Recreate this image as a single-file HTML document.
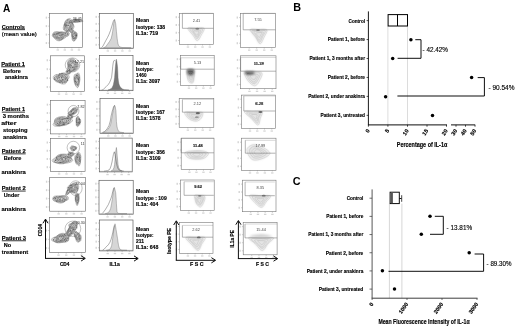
<!DOCTYPE html>
<html><head><meta charset="utf-8"><style>
html,body{margin:0;padding:0;background:#fff;}
svg{display:block;filter:grayscale(1);}
text{font-family:"Liberation Sans", sans-serif;}
</style></head><body>
<svg width="520" height="327" viewBox="0 0 520 327">
<defs><filter id="b1" x="-50%" y="-50%" width="200%" height="200%"><feGaussianBlur stdDeviation="0.9"/></filter><filter id="b2" x="-50%" y="-50%" width="200%" height="200%"><feGaussianBlur stdDeviation="0.5"/></filter><filter id="b3" x="-20%" y="-20%" width="140%" height="140%"><feGaussianBlur stdDeviation="0.3"/></filter></defs>
<rect width="520" height="327" fill="#fff"/>
<text x="2.90" y="11.50" font-size="10.8" font-weight="bold" text-anchor="start" fill="#000" textLength="7.3" lengthAdjust="spacingAndGlyphs" >A</text>
<text x="1.80" y="28.50" font-size="5.8" font-weight="bold" text-anchor="start" fill="#000" textLength="23.2" lengthAdjust="spacingAndGlyphs" stroke="#000" stroke-width="0.15" >Controls</text>
<line x1="1.80" y1="29.65" x2="25.00" y2="29.65" stroke="#000" stroke-width="0.8" />
<text x="1.80" y="35.70" font-size="5.8" font-weight="normal" text-anchor="start" fill="#000" textLength="35" lengthAdjust="spacingAndGlyphs" stroke="#000" stroke-width="0.18" >(mean value)</text>
<text x="1.20" y="65.60" font-size="5.8" font-weight="bold" text-anchor="start" fill="#000" textLength="23.8" lengthAdjust="spacingAndGlyphs" stroke="#000" stroke-width="0.15" >Patient 1</text>
<line x1="1.20" y1="66.75" x2="25.00" y2="66.75" stroke="#000" stroke-width="0.8" />
<text x="3.00" y="72.80" font-size="5.8" font-weight="bold" text-anchor="start" fill="#000" textLength="17.8" lengthAdjust="spacingAndGlyphs" stroke="#000" stroke-width="0.15" >Before</text>
<text x="4.90" y="79.40" font-size="5.8" font-weight="bold" text-anchor="start" fill="#000" textLength="23" lengthAdjust="spacingAndGlyphs" stroke="#000" stroke-width="0.15" >anakinra</text>
<text x="1.80" y="111.00" font-size="5.8" font-weight="bold" text-anchor="start" fill="#000" textLength="23.2" lengthAdjust="spacingAndGlyphs" stroke="#000" stroke-width="0.15" >Patient 1</text>
<line x1="1.80" y1="112.15" x2="25.00" y2="112.15" stroke="#000" stroke-width="0.8" />
<text x="2.70" y="118.30" font-size="5.8" font-weight="bold" text-anchor="start" fill="#000" textLength="26.3" lengthAdjust="spacingAndGlyphs" stroke="#000" stroke-width="0.15" >3 months</text>
<text x="1.20" y="124.90" font-size="5.8" font-weight="bold" text-anchor="start" fill="#000" textLength="15.3" lengthAdjust="spacingAndGlyphs" stroke="#000" stroke-width="0.15" >after</text>
<text x="3.00" y="131.50" font-size="5.8" font-weight="bold" text-anchor="start" fill="#000" textLength="24.5" lengthAdjust="spacingAndGlyphs" stroke="#000" stroke-width="0.15" >stopping</text>
<text x="3.00" y="138.90" font-size="5.8" font-weight="bold" text-anchor="start" fill="#000" textLength="24" lengthAdjust="spacingAndGlyphs" stroke="#000" stroke-width="0.15" >anakinra</text>
<text x="1.80" y="152.70" font-size="5.8" font-weight="bold" text-anchor="start" fill="#000" textLength="23.9" lengthAdjust="spacingAndGlyphs" stroke="#000" stroke-width="0.15" >Patient 2</text>
<line x1="1.80" y1="153.85" x2="25.70" y2="153.85" stroke="#000" stroke-width="0.8" />
<text x="3.70" y="159.70" font-size="5.8" font-weight="bold" text-anchor="start" fill="#000" textLength="17.7" lengthAdjust="spacingAndGlyphs" stroke="#000" stroke-width="0.15" >Before</text>
<text x="1.50" y="173.90" font-size="5.8" font-weight="bold" text-anchor="start" fill="#000" textLength="24.2" lengthAdjust="spacingAndGlyphs" stroke="#000" stroke-width="0.15" >anakinra</text>
<text x="1.80" y="189.90" font-size="5.8" font-weight="bold" text-anchor="start" fill="#000" textLength="23.9" lengthAdjust="spacingAndGlyphs" stroke="#000" stroke-width="0.15" >Patient 2</text>
<line x1="1.80" y1="191.05" x2="25.70" y2="191.05" stroke="#000" stroke-width="0.8" />
<text x="3.70" y="196.90" font-size="5.8" font-weight="bold" text-anchor="start" fill="#000" textLength="15.6" lengthAdjust="spacingAndGlyphs" stroke="#000" stroke-width="0.15" >Under</text>
<text x="1.50" y="211.30" font-size="5.8" font-weight="bold" text-anchor="start" fill="#000" textLength="24.2" lengthAdjust="spacingAndGlyphs" stroke="#000" stroke-width="0.15" >anakinra</text>
<text x="1.80" y="239.60" font-size="5.8" font-weight="bold" text-anchor="start" fill="#000" textLength="24.2" lengthAdjust="spacingAndGlyphs" stroke="#000" stroke-width="0.15" >Patient 3</text>
<line x1="1.80" y1="240.75" x2="26.00" y2="240.75" stroke="#000" stroke-width="0.8" />
<text x="3.70" y="246.60" font-size="5.8" font-weight="bold" text-anchor="start" fill="#000" textLength="7.3" lengthAdjust="spacingAndGlyphs" stroke="#000" stroke-width="0.15" >No</text>
<text x="1.80" y="253.90" font-size="5.8" font-weight="bold" text-anchor="start" fill="#000" textLength="26.3" lengthAdjust="spacingAndGlyphs" stroke="#000" stroke-width="0.15" >treatment</text>
<path d="M66.10,35.76 C65.99,36.33 65.93,36.92 65.51,37.37 C65.10,37.82 64.23,38.10 63.62,38.46 C63.00,38.82 62.53,39.19 61.81,39.55 C61.10,39.90 60.18,40.53 59.31,40.59 C58.44,40.65 57.29,40.25 56.57,39.90 C55.85,39.55 55.50,38.91 54.99,38.47 C54.47,38.03 53.90,37.73 53.48,37.28 C53.06,36.82 52.54,36.29 52.46,35.76 C52.39,35.24 52.74,34.67 53.02,34.13 C53.29,33.59 53.50,32.90 54.11,32.51 C54.72,32.12 55.83,31.89 56.69,31.81 C57.56,31.73 58.47,32.00 59.31,32.05 C60.15,32.10 60.88,32.02 61.73,32.11 C62.58,32.19 63.70,32.24 64.44,32.55 C65.18,32.87 65.88,33.45 66.16,33.99 C66.43,34.52 66.21,35.20 66.10,35.76Z" fill="#d0d0d0" filter="url(#b2)"/>
<g filter="url(#b3)"><path d="M66.60,35.76 C66.49,36.35 66.18,36.96 65.72,37.43 C65.26,37.90 64.46,38.22 63.82,38.59 C63.18,38.96 62.63,39.28 61.88,39.64 C61.13,40.00 60.23,40.66 59.31,40.75 C58.39,40.85 57.10,40.59 56.37,40.21 C55.64,39.83 55.44,38.98 54.94,38.50 C54.45,38.01 53.82,37.75 53.39,37.30 C52.95,36.84 52.44,36.30 52.33,35.76 C52.21,35.22 52.48,34.63 52.72,34.06 C52.96,33.48 53.13,32.71 53.76,32.29 C54.39,31.87 55.58,31.59 56.51,31.53 C57.43,31.46 58.43,31.83 59.31,31.91 C60.19,31.98 60.88,31.93 61.81,31.99 C62.74,32.05 64.13,31.95 64.90,32.27 C65.66,32.59 66.10,33.35 66.39,33.93 C66.67,34.51 66.71,35.18 66.60,35.76Z" fill="none" stroke="#333" stroke-width="0.32"/><path d="M65.25,35.76 C65.10,36.22 64.54,36.63 64.19,37.03 C63.85,37.43 63.54,37.72 63.17,38.18 C62.79,38.63 62.59,39.45 61.95,39.75 C61.31,40.05 60.11,40.13 59.31,40.00 C58.51,39.88 57.82,39.30 57.17,39.00 C56.52,38.70 55.95,38.51 55.42,38.20 C54.89,37.89 54.33,37.55 53.99,37.14 C53.65,36.74 53.51,36.25 53.39,35.76 C53.27,35.27 53.03,34.66 53.28,34.20 C53.54,33.74 54.24,33.25 54.91,33.01 C55.58,32.76 56.57,32.82 57.30,32.73 C58.04,32.64 58.56,32.60 59.31,32.47 C60.06,32.35 61.05,31.92 61.81,31.99 C62.56,32.07 63.31,32.54 63.85,32.92 C64.39,33.30 64.83,33.80 65.07,34.27 C65.30,34.75 65.39,35.30 65.25,35.76Z" fill="none" stroke="#333" stroke-width="0.32"/><path d="M63.71,35.76 C63.62,36.12 63.29,36.38 63.17,36.76 C63.05,37.15 63.30,37.71 63.01,38.08 C62.72,38.44 62.05,38.88 61.43,38.97 C60.82,39.06 59.95,38.72 59.31,38.62 C58.67,38.52 58.12,38.51 57.58,38.38 C57.04,38.24 56.49,38.04 56.07,37.79 C55.65,37.54 55.38,37.21 55.04,36.87 C54.69,36.53 54.10,36.16 53.99,35.76 C53.88,35.37 53.97,34.79 54.36,34.48 C54.74,34.17 55.75,34.07 56.32,33.89 C56.88,33.71 57.26,33.63 57.76,33.42 C58.26,33.21 58.71,32.77 59.31,32.65 C59.91,32.53 60.75,32.54 61.35,32.68 C61.95,32.83 62.49,33.20 62.88,33.53 C63.28,33.85 63.57,34.25 63.71,34.62 C63.84,35.00 63.80,35.41 63.71,35.76Z" fill="none" stroke="#333" stroke-width="0.32"/><path d="M62.44,35.76 C62.50,36.05 62.89,36.38 62.85,36.68 C62.81,36.98 62.56,37.38 62.20,37.57 C61.85,37.77 61.19,37.83 60.71,37.88 C60.23,37.92 59.77,37.85 59.31,37.83 C58.86,37.82 58.39,37.86 57.98,37.77 C57.57,37.69 57.21,37.49 56.83,37.31 C56.45,37.13 55.99,36.96 55.70,36.70 C55.42,36.44 55.05,36.05 55.14,35.76 C55.23,35.48 55.93,35.20 56.25,34.97 C56.57,34.74 56.81,34.59 57.08,34.37 C57.36,34.15 57.55,33.84 57.92,33.67 C58.29,33.49 58.84,33.33 59.31,33.32 C59.78,33.30 60.32,33.45 60.76,33.58 C61.20,33.71 61.67,33.88 61.96,34.11 C62.24,34.34 62.40,34.67 62.48,34.94 C62.56,35.22 62.38,35.47 62.44,35.76Z" fill="none" stroke="#333" stroke-width="0.32"/><path d="M61.94,35.76 C62.06,35.96 62.07,36.25 61.94,36.45 C61.81,36.64 61.44,36.80 61.14,36.91 C60.85,37.02 60.50,37.04 60.19,37.10 C59.89,37.15 59.61,37.22 59.31,37.23 C59.01,37.24 58.71,37.20 58.39,37.15 C58.08,37.10 57.70,37.07 57.42,36.95 C57.13,36.83 56.81,36.64 56.71,36.44 C56.61,36.24 56.72,35.96 56.83,35.76 C56.94,35.57 57.25,35.44 57.38,35.26 C57.51,35.08 57.44,34.87 57.59,34.69 C57.74,34.51 57.99,34.30 58.28,34.21 C58.57,34.11 58.97,34.12 59.31,34.13 C59.65,34.13 60.05,34.14 60.32,34.25 C60.58,34.35 60.77,34.58 60.92,34.75 C61.08,34.92 61.06,35.10 61.23,35.27 C61.39,35.44 61.82,35.57 61.94,35.76Z" fill="none" stroke="#333" stroke-width="0.32"/><circle cx="57.13" cy="34.98" r="0.37" fill="#777"/><circle cx="58.16" cy="35.07" r="0.40" fill="#777"/><circle cx="53.86" cy="34.04" r="0.43" fill="#444"/><circle cx="58.41" cy="37.16" r="0.35" fill="#777"/><circle cx="61.33" cy="38.95" r="0.34" fill="#777"/><circle cx="65.20" cy="34.57" r="0.32" fill="#777"/><circle cx="60.68" cy="36.03" r="0.49" fill="#777"/><circle cx="59.70" cy="39.07" r="0.38" fill="#555"/><circle cx="62.71" cy="34.32" r="0.34" fill="#777"/><circle cx="59.12" cy="35.13" r="0.40" fill="#444"/><circle cx="56.57" cy="33.29" r="0.36" fill="#333"/><circle cx="61.24" cy="35.07" r="0.31" fill="#333"/><circle cx="57.14" cy="36.61" r="0.34" fill="#333"/><circle cx="56.21" cy="37.86" r="0.32" fill="#444"/><circle cx="61.81" cy="37.61" r="0.43" fill="#555"/><circle cx="57.64" cy="33.06" r="0.42" fill="#444"/><circle cx="62.87" cy="34.60" r="0.44" fill="#555"/><circle cx="59.75" cy="35.70" r="0.40" fill="#333"/><circle cx="58.94" cy="33.88" r="0.32" fill="#333"/><circle cx="54.08" cy="34.79" r="0.46" fill="#444"/><circle cx="62.11" cy="34.73" r="0.48" fill="#666"/><circle cx="61.84" cy="34.10" r="0.47" fill="#333"/><circle cx="54.95" cy="34.42" r="0.38" fill="#666"/><circle cx="60.38" cy="35.82" r="0.43" fill="#333"/><circle cx="65.48" cy="35.60" r="0.38" fill="#555"/><circle cx="58.88" cy="32.88" r="0.39" fill="#666"/><circle cx="55.18" cy="35.08" r="0.31" fill="#777"/><circle cx="56.05" cy="34.26" r="0.49" fill="#444"/></g>
<path d="M73.74,26.46 C73.71,27.27 73.19,28.29 72.73,28.93 C72.26,29.57 71.52,29.89 70.94,30.30 C70.37,30.70 69.84,31.21 69.27,31.37 C68.70,31.52 68.09,31.33 67.53,31.22 C66.96,31.11 66.45,30.95 65.86,30.71 C65.26,30.48 64.35,30.39 63.95,29.82 C63.56,29.24 63.44,28.09 63.51,27.26 C63.58,26.42 64.13,25.57 64.38,24.81 C64.63,24.06 64.78,23.47 65.03,22.72 C65.28,21.98 65.44,20.93 65.89,20.36 C66.34,19.79 67.10,19.50 67.72,19.28 C68.35,19.07 69.07,18.93 69.67,19.06 C70.27,19.20 70.94,19.57 71.33,20.12 C71.71,20.66 71.72,21.66 71.99,22.31 C72.25,22.97 72.61,23.36 72.90,24.05 C73.20,24.74 73.77,25.65 73.74,26.46Z" fill="#d0d0d0" filter="url(#b2)"/>
<g filter="url(#b3)"><path d="M74.07,26.52 C74.06,27.38 73.51,28.49 73.00,29.14 C72.49,29.80 71.63,30.06 71.01,30.43 C70.39,30.81 69.86,31.24 69.28,31.41 C68.69,31.57 68.10,31.44 67.49,31.41 C66.88,31.37 66.23,31.43 65.61,31.19 C64.99,30.96 64.14,30.64 63.76,30.00 C63.38,29.35 63.23,28.18 63.33,27.32 C63.42,26.45 64.09,25.60 64.33,24.80 C64.57,24.00 64.51,23.26 64.77,22.51 C65.02,21.77 65.39,20.90 65.88,20.33 C66.36,19.76 67.05,19.40 67.70,19.09 C68.35,18.78 69.14,18.34 69.78,18.44 C70.42,18.55 71.16,19.08 71.54,19.71 C71.92,20.34 71.81,21.52 72.07,22.24 C72.32,22.95 72.71,23.29 73.05,24.00 C73.38,24.71 74.07,25.66 74.07,26.52Z" fill="none" stroke="#333" stroke-width="0.32"/><path d="M73.11,26.35 C72.92,27.07 72.35,27.74 71.94,28.29 C71.53,28.85 71.09,29.33 70.63,29.67 C70.16,30.02 69.65,30.20 69.15,30.38 C68.64,30.55 68.18,30.63 67.61,30.72 C67.05,30.81 66.27,31.16 65.75,30.92 C65.24,30.68 64.68,29.97 64.52,29.29 C64.36,28.60 64.72,27.55 64.79,26.82 C64.85,26.09 64.89,25.59 64.93,24.91 C64.98,24.23 64.82,23.37 65.04,22.74 C65.26,22.10 65.81,21.59 66.27,21.10 C66.73,20.61 67.25,20.03 67.79,19.81 C68.34,19.60 69.07,19.54 69.54,19.81 C70.01,20.09 70.27,21.02 70.62,21.49 C70.97,21.96 71.24,22.21 71.65,22.62 C72.06,23.04 72.84,23.37 73.08,23.99 C73.33,24.61 73.30,25.63 73.11,26.35Z" fill="none" stroke="#333" stroke-width="0.32"/><path d="M71.86,26.13 C71.70,26.70 71.51,27.28 71.22,27.71 C70.94,28.15 70.51,28.45 70.14,28.72 C69.78,29.00 69.43,29.09 69.02,29.37 C68.60,29.66 68.12,30.35 67.67,30.43 C67.22,30.50 66.63,30.21 66.32,29.82 C66.01,29.43 65.94,28.62 65.81,28.08 C65.68,27.54 65.62,27.09 65.52,26.57 C65.42,26.05 65.16,25.50 65.20,24.96 C65.25,24.42 65.55,23.86 65.79,23.34 C66.03,22.82 66.29,22.24 66.64,21.84 C67.00,21.44 67.51,20.98 67.94,20.94 C68.37,20.91 68.84,21.39 69.22,21.61 C69.60,21.83 69.83,22.09 70.21,22.28 C70.59,22.47 71.18,22.42 71.51,22.76 C71.83,23.09 72.11,23.74 72.16,24.30 C72.22,24.86 72.01,25.56 71.86,26.13Z" fill="none" stroke="#333" stroke-width="0.32"/><path d="M71.06,25.99 C70.95,26.39 70.64,26.74 70.42,27.07 C70.20,27.39 69.99,27.61 69.75,27.94 C69.51,28.28 69.29,28.82 68.98,29.06 C68.66,29.30 68.16,29.50 67.85,29.37 C67.54,29.24 67.32,28.62 67.12,28.28 C66.91,27.93 66.80,27.64 66.62,27.32 C66.44,27.01 66.14,26.76 66.04,26.39 C65.94,26.02 65.99,25.55 66.03,25.10 C66.06,24.65 66.07,24.12 66.24,23.70 C66.41,23.28 66.72,22.81 67.03,22.60 C67.35,22.40 67.80,22.43 68.13,22.47 C68.46,22.50 68.68,22.79 69.01,22.80 C69.34,22.81 69.77,22.43 70.09,22.51 C70.42,22.58 70.80,22.91 70.96,23.27 C71.13,23.63 71.08,24.21 71.10,24.67 C71.11,25.12 71.17,25.59 71.06,25.99Z" fill="none" stroke="#333" stroke-width="0.32"/><path d="M70.12,25.82 C70.03,26.10 69.91,26.30 69.80,26.57 C69.69,26.83 69.64,27.17 69.48,27.42 C69.33,27.68 69.08,28.05 68.86,28.11 C68.63,28.17 68.34,27.91 68.13,27.79 C67.92,27.67 67.75,27.53 67.58,27.37 C67.42,27.21 67.27,27.04 67.15,26.83 C67.02,26.62 66.90,26.39 66.83,26.12 C66.75,25.85 66.68,25.53 66.70,25.22 C66.71,24.91 66.76,24.49 66.92,24.25 C67.07,24.00 67.39,23.86 67.62,23.76 C67.85,23.67 68.08,23.78 68.29,23.71 C68.51,23.63 68.69,23.37 68.92,23.31 C69.15,23.24 69.49,23.18 69.68,23.31 C69.87,23.45 69.95,23.85 70.06,24.12 C70.16,24.38 70.32,24.64 70.33,24.93 C70.34,25.21 70.21,25.55 70.12,25.82Z" fill="none" stroke="#333" stroke-width="0.32"/><circle cx="70.81" cy="20.23" r="0.34" fill="#333"/><circle cx="72.84" cy="22.63" r="0.41" fill="#555"/><circle cx="69.53" cy="22.96" r="0.37" fill="#333"/><circle cx="70.48" cy="27.66" r="0.38" fill="#777"/><circle cx="66.83" cy="31.14" r="0.46" fill="#444"/><circle cx="71.80" cy="28.24" r="0.41" fill="#444"/><circle cx="67.78" cy="19.93" r="0.33" fill="#666"/><circle cx="64.96" cy="24.39" r="0.49" fill="#666"/><circle cx="64.03" cy="25.04" r="0.45" fill="#333"/><circle cx="65.41" cy="26.56" r="0.43" fill="#777"/><circle cx="64.61" cy="24.05" r="0.35" fill="#777"/><circle cx="67.33" cy="19.94" r="0.34" fill="#777"/><circle cx="72.05" cy="21.17" r="0.35" fill="#777"/><circle cx="66.04" cy="25.16" r="0.40" fill="#333"/><circle cx="68.28" cy="25.18" r="0.40" fill="#333"/><circle cx="64.78" cy="28.05" r="0.32" fill="#777"/><circle cx="69.45" cy="26.71" r="0.39" fill="#777"/><circle cx="72.44" cy="23.65" r="0.35" fill="#666"/><circle cx="67.41" cy="25.60" r="0.48" fill="#666"/><circle cx="72.93" cy="23.97" r="0.36" fill="#777"/><circle cx="68.99" cy="29.84" r="0.33" fill="#555"/><circle cx="68.66" cy="25.13" r="0.33" fill="#444"/><circle cx="70.40" cy="26.07" r="0.35" fill="#555"/><circle cx="65.68" cy="25.07" r="0.32" fill="#777"/><circle cx="66.81" cy="25.08" r="0.44" fill="#444"/><circle cx="68.82" cy="25.28" r="0.47" fill="#666"/><circle cx="66.76" cy="22.50" r="0.43" fill="#777"/><circle cx="64.65" cy="23.81" r="0.42" fill="#777"/><circle cx="70.60" cy="30.41" r="0.48" fill="#555"/></g>
<path d="M77.12,35.76 C77.07,36.41 76.97,37.07 76.80,37.60 C76.63,38.13 76.35,38.57 76.09,38.95 C75.83,39.34 75.55,39.61 75.25,39.90 C74.95,40.18 74.63,40.53 74.27,40.67 C73.92,40.82 73.43,41.00 73.10,40.75 C72.77,40.51 72.49,39.78 72.31,39.22 C72.13,38.66 72.12,37.98 72.02,37.40 C71.93,36.82 71.78,36.34 71.73,35.76 C71.69,35.19 71.68,34.53 71.76,33.93 C71.84,33.34 72.00,32.67 72.23,32.18 C72.46,31.68 72.80,31.17 73.14,30.96 C73.48,30.75 73.94,30.75 74.27,30.94 C74.61,31.12 74.84,31.81 75.14,32.07 C75.45,32.34 75.80,32.24 76.13,32.51 C76.45,32.78 76.95,33.16 77.11,33.70 C77.28,34.24 77.18,35.11 77.12,35.76Z" fill="#d0d0d0" filter="url(#b2)"/>
<g filter="url(#b3)"><path d="M77.23,35.76 C77.16,36.43 76.99,37.04 76.82,37.61 C76.65,38.18 76.48,38.78 76.22,39.18 C75.97,39.59 75.61,39.76 75.29,40.05 C74.96,40.35 74.65,40.79 74.27,40.95 C73.90,41.12 73.38,41.31 73.03,41.06 C72.68,40.81 72.36,40.05 72.17,39.45 C71.99,38.85 72.03,38.08 71.94,37.47 C71.84,36.85 71.65,36.38 71.59,35.76 C71.52,35.15 71.45,34.39 71.55,33.78 C71.65,33.17 71.93,32.60 72.19,32.10 C72.45,31.60 72.75,30.97 73.10,30.77 C73.44,30.57 73.93,30.68 74.27,30.88 C74.62,31.08 74.84,31.75 75.17,31.99 C75.49,32.23 75.88,32.07 76.23,32.33 C76.58,32.60 77.09,33.02 77.26,33.59 C77.43,34.16 77.31,35.09 77.23,35.76Z" fill="none" stroke="#333" stroke-width="0.32"/><path d="M76.57,35.76 C76.52,36.28 76.42,36.81 76.27,37.22 C76.13,37.63 75.88,37.89 75.68,38.24 C75.49,38.59 75.34,38.93 75.11,39.30 C74.87,39.67 74.57,40.38 74.27,40.47 C73.98,40.56 73.56,40.19 73.31,39.84 C73.07,39.49 72.95,38.81 72.80,38.36 C72.64,37.91 72.50,37.58 72.37,37.15 C72.25,36.72 72.10,36.27 72.05,35.76 C71.99,35.26 71.97,34.66 72.04,34.14 C72.12,33.62 72.27,33.00 72.49,32.62 C72.71,32.25 73.07,31.94 73.36,31.90 C73.66,31.87 73.99,32.34 74.27,32.41 C74.56,32.48 74.78,32.30 75.08,32.34 C75.38,32.37 75.82,32.32 76.06,32.62 C76.31,32.92 76.45,33.60 76.53,34.12 C76.62,34.64 76.61,35.25 76.57,35.76Z" fill="none" stroke="#333" stroke-width="0.32"/><path d="M75.97,35.76 C75.92,36.13 75.72,36.42 75.63,36.75 C75.54,37.08 75.52,37.40 75.42,37.77 C75.32,38.14 75.22,38.75 75.03,38.96 C74.84,39.17 74.50,39.12 74.27,39.01 C74.05,38.90 73.86,38.51 73.68,38.29 C73.49,38.08 73.31,37.97 73.15,37.73 C73.00,37.50 72.84,37.21 72.74,36.88 C72.65,36.55 72.61,36.16 72.58,35.76 C72.55,35.37 72.48,34.89 72.55,34.51 C72.62,34.14 72.80,33.69 72.99,33.51 C73.19,33.34 73.52,33.54 73.73,33.45 C73.94,33.37 74.06,33.14 74.27,33.02 C74.48,32.90 74.77,32.66 74.99,32.73 C75.21,32.80 75.44,33.14 75.59,33.45 C75.75,33.76 75.85,34.19 75.91,34.57 C75.98,34.96 76.01,35.40 75.97,35.76Z" fill="none" stroke="#333" stroke-width="0.32"/><path d="M75.29,35.76 C75.26,36.01 75.23,36.18 75.21,36.44 C75.19,36.70 75.24,37.09 75.16,37.32 C75.09,37.55 74.91,37.76 74.76,37.82 C74.61,37.88 74.42,37.75 74.27,37.69 C74.13,37.63 74.00,37.57 73.87,37.47 C73.75,37.37 73.63,37.24 73.52,37.09 C73.41,36.93 73.31,36.75 73.22,36.53 C73.14,36.31 73.03,36.03 73.02,35.76 C73.00,35.50 73.03,35.13 73.12,34.92 C73.21,34.71 73.42,34.62 73.56,34.50 C73.69,34.38 73.78,34.32 73.90,34.18 C74.02,34.04 74.13,33.72 74.27,33.64 C74.42,33.57 74.61,33.64 74.75,33.75 C74.89,33.86 75.01,34.09 75.11,34.30 C75.21,34.50 75.31,34.75 75.34,34.99 C75.37,35.23 75.31,35.52 75.29,35.76Z" fill="none" stroke="#333" stroke-width="0.32"/><circle cx="74.41" cy="33.23" r="0.31" fill="#444"/><circle cx="73.40" cy="38.13" r="0.48" fill="#333"/><circle cx="76.81" cy="35.50" r="0.35" fill="#333"/><circle cx="76.20" cy="34.54" r="0.34" fill="#555"/><circle cx="73.59" cy="36.57" r="0.38" fill="#333"/><circle cx="76.27" cy="35.76" r="0.45" fill="#333"/><circle cx="74.47" cy="35.72" r="0.32" fill="#777"/><circle cx="74.40" cy="38.46" r="0.31" fill="#777"/><circle cx="74.74" cy="38.04" r="0.35" fill="#333"/><circle cx="74.07" cy="37.99" r="0.40" fill="#777"/><circle cx="76.07" cy="35.10" r="0.43" fill="#333"/><circle cx="74.44" cy="35.03" r="0.43" fill="#777"/><circle cx="75.62" cy="35.08" r="0.38" fill="#444"/></g>
<path d="M82.22,20.58 C82.47,20.75 82.88,20.99 82.67,21.19 C82.46,21.38 81.62,21.60 80.93,21.74 C80.25,21.88 79.33,21.95 78.58,22.03 C77.83,22.12 77.14,22.22 76.43,22.26 C75.71,22.29 74.99,22.27 74.28,22.25 C73.57,22.23 72.84,22.21 72.16,22.14 C71.47,22.07 70.51,21.99 70.17,21.84 C69.83,21.68 69.91,21.41 70.13,21.21 C70.36,21.02 71.17,20.84 71.54,20.66 C71.92,20.48 72.01,20.33 72.39,20.15 C72.77,19.97 73.17,19.71 73.81,19.58 C74.46,19.45 75.46,19.40 76.28,19.36 C77.09,19.32 78.04,19.28 78.73,19.33 C79.41,19.39 79.98,19.55 80.40,19.69 C80.81,19.82 80.89,20.00 81.20,20.15 C81.50,20.30 81.98,20.41 82.22,20.58Z" fill="#d0d0d0" filter="url(#b2)"/>
<g filter="url(#b3)"><path d="M82.41,20.57 C82.74,20.75 83.30,21.01 83.09,21.21 C82.88,21.41 81.88,21.63 81.15,21.78 C80.42,21.93 79.50,22.02 78.71,22.10 C77.92,22.18 77.18,22.25 76.43,22.28 C75.68,22.32 74.94,22.32 74.19,22.31 C73.44,22.29 72.69,22.27 71.94,22.20 C71.20,22.13 70.07,22.07 69.70,21.91 C69.33,21.75 69.44,21.44 69.73,21.24 C70.02,21.03 71.04,20.85 71.43,20.66 C71.83,20.46 71.71,20.28 72.09,20.09 C72.48,19.91 73.07,19.69 73.76,19.55 C74.46,19.42 75.43,19.31 76.27,19.27 C77.11,19.22 78.05,19.24 78.80,19.29 C79.55,19.34 80.37,19.43 80.76,19.58 C81.15,19.72 80.86,19.99 81.14,20.16 C81.41,20.32 82.09,20.40 82.41,20.57Z" fill="none" stroke="#333" stroke-width="0.32"/><path d="M81.42,20.62 C81.57,20.76 81.39,20.97 81.08,21.11 C80.78,21.26 80.11,21.39 79.60,21.49 C79.09,21.60 78.57,21.68 78.04,21.75 C77.51,21.83 76.97,21.91 76.41,21.94 C75.86,21.98 75.33,21.96 74.71,21.97 C74.08,21.97 73.13,22.05 72.66,21.99 C72.19,21.92 71.96,21.72 71.91,21.57 C71.86,21.42 72.25,21.24 72.36,21.10 C72.47,20.95 72.49,20.85 72.57,20.71 C72.66,20.57 72.57,20.37 72.89,20.24 C73.20,20.11 73.90,20.00 74.47,19.92 C75.04,19.83 75.69,19.74 76.29,19.72 C76.90,19.69 77.62,19.70 78.08,19.76 C78.54,19.82 78.68,20.00 79.04,20.09 C79.40,20.18 79.83,20.21 80.22,20.30 C80.62,20.38 81.28,20.49 81.42,20.62Z" fill="none" stroke="#333" stroke-width="0.32"/><path d="M79.57,20.72 C79.53,20.82 79.24,20.92 79.03,21.02 C78.83,21.11 78.64,21.20 78.37,21.26 C78.09,21.33 77.72,21.37 77.39,21.42 C77.06,21.47 76.77,21.52 76.39,21.56 C76.01,21.61 75.50,21.70 75.13,21.69 C74.75,21.69 74.34,21.62 74.15,21.54 C73.96,21.47 74.04,21.34 73.99,21.25 C73.93,21.16 73.88,21.10 73.83,21.02 C73.77,20.94 73.58,20.85 73.64,20.76 C73.70,20.67 73.95,20.57 74.20,20.49 C74.45,20.40 74.78,20.31 75.13,20.26 C75.48,20.20 75.95,20.15 76.32,20.15 C76.68,20.15 77.01,20.23 77.31,20.26 C77.61,20.30 77.80,20.33 78.13,20.36 C78.46,20.39 79.05,20.38 79.29,20.44 C79.53,20.50 79.61,20.62 79.57,20.72Z" fill="none" stroke="#333" stroke-width="0.32"/><circle cx="75.57" cy="19.82" r="0.43" fill="#444"/><circle cx="76.37" cy="20.43" r="0.40" fill="#444"/><circle cx="75.24" cy="20.57" r="0.43" fill="#333"/><circle cx="78.68" cy="20.80" r="0.42" fill="#333"/><circle cx="79.50" cy="21.29" r="0.45" fill="#333"/><circle cx="77.77" cy="20.60" r="0.43" fill="#444"/><circle cx="73.89" cy="21.64" r="0.37" fill="#444"/><circle cx="74.90" cy="20.98" r="0.46" fill="#333"/><circle cx="71.44" cy="21.56" r="0.39" fill="#444"/><circle cx="76.26" cy="20.14" r="0.37" fill="#444"/></g>
<path d="M69.25,34.04 C69.18,34.29 68.87,34.48 68.73,34.71 C68.60,34.95 68.62,35.21 68.45,35.46 C68.28,35.71 68.04,36.07 67.70,36.19 C67.37,36.31 66.82,36.25 66.45,36.17 C66.07,36.09 65.78,35.85 65.46,35.72 C65.15,35.59 64.82,35.53 64.56,35.38 C64.31,35.22 64.11,35.00 63.93,34.78 C63.75,34.56 63.52,34.31 63.46,34.04 C63.40,33.78 63.40,33.43 63.57,33.20 C63.74,32.97 64.15,32.78 64.48,32.65 C64.80,32.53 65.19,32.55 65.52,32.46 C65.85,32.37 66.09,32.20 66.45,32.12 C66.80,32.05 67.29,31.93 67.64,32.01 C67.99,32.08 68.28,32.36 68.54,32.57 C68.79,32.77 69.03,33.01 69.15,33.25 C69.27,33.50 69.32,33.80 69.25,34.04Z" fill="#d0d0d0" filter="url(#b2)"/>
<g filter="url(#b3)"><path d="M69.24,34.04 C69.15,34.30 68.91,34.48 68.79,34.73 C68.68,34.98 68.74,35.28 68.56,35.54 C68.39,35.79 68.10,36.15 67.74,36.26 C67.39,36.37 66.84,36.29 66.45,36.22 C66.06,36.14 65.74,35.94 65.41,35.82 C65.07,35.69 64.71,35.63 64.44,35.46 C64.17,35.29 63.96,35.06 63.79,34.82 C63.62,34.59 63.48,34.32 63.41,34.04 C63.34,33.76 63.21,33.39 63.36,33.14 C63.51,32.89 63.95,32.65 64.31,32.53 C64.66,32.41 65.14,32.51 65.50,32.43 C65.86,32.35 66.08,32.17 66.45,32.08 C66.81,31.98 67.34,31.82 67.71,31.88 C68.08,31.95 68.41,32.24 68.68,32.46 C68.95,32.68 69.22,32.94 69.32,33.20 C69.41,33.47 69.32,33.79 69.24,34.04Z" fill="none" stroke="#333" stroke-width="0.32"/><path d="M68.02,34.04 C68.02,34.20 68.07,34.34 68.05,34.51 C68.03,34.68 68.03,34.93 67.88,35.06 C67.74,35.19 67.43,35.29 67.19,35.31 C66.95,35.33 66.67,35.22 66.45,35.19 C66.22,35.15 66.02,35.16 65.82,35.12 C65.62,35.07 65.43,34.98 65.25,34.89 C65.07,34.79 64.89,34.68 64.74,34.54 C64.60,34.40 64.39,34.21 64.40,34.04 C64.40,33.88 64.60,33.68 64.76,33.55 C64.93,33.43 65.22,33.39 65.39,33.30 C65.57,33.20 65.65,33.08 65.82,32.98 C66.00,32.88 66.22,32.73 66.45,32.70 C66.67,32.68 66.95,32.75 67.16,32.82 C67.38,32.89 67.60,33.00 67.74,33.13 C67.89,33.25 67.98,33.43 68.03,33.58 C68.08,33.73 68.02,33.89 68.02,34.04Z" fill="none" stroke="#333" stroke-width="0.32"/><circle cx="64.22" cy="33.38" r="0.33" fill="#777"/><circle cx="65.74" cy="33.72" r="0.45" fill="#333"/><circle cx="67.30" cy="33.48" r="0.34" fill="#333"/><circle cx="67.18" cy="34.24" r="0.49" fill="#555"/></g>
<path d="M73.11,30.70 C73.07,30.92 72.87,31.08 72.79,31.29 C72.71,31.50 72.73,31.74 72.63,31.96 C72.53,32.18 72.38,32.52 72.18,32.62 C71.97,32.71 71.63,32.60 71.40,32.52 C71.17,32.45 71.00,32.27 70.81,32.17 C70.61,32.06 70.39,32.04 70.22,31.91 C70.05,31.78 69.89,31.59 69.79,31.39 C69.69,31.19 69.67,30.95 69.63,30.70 C69.60,30.46 69.50,30.15 69.59,29.94 C69.68,29.73 69.98,29.57 70.18,29.46 C70.39,29.35 70.62,29.36 70.82,29.28 C71.03,29.20 71.18,29.04 71.40,28.99 C71.62,28.93 71.91,28.86 72.12,28.93 C72.33,29.00 72.53,29.22 72.68,29.39 C72.84,29.57 72.99,29.78 73.06,30.00 C73.14,30.22 73.16,30.49 73.11,30.70Z" fill="#d0d0d0" filter="url(#b2)"/>
<g filter="url(#b3)"><path d="M73.17,30.70 C73.12,30.93 72.98,31.12 72.90,31.34 C72.82,31.56 72.79,31.78 72.68,32.01 C72.56,32.24 72.42,32.58 72.21,32.70 C72.00,32.81 71.64,32.78 71.40,32.71 C71.16,32.64 70.97,32.40 70.76,32.28 C70.56,32.15 70.35,32.09 70.18,31.95 C70.01,31.80 69.86,31.61 69.74,31.41 C69.62,31.20 69.52,30.96 69.48,30.70 C69.43,30.45 69.37,30.11 69.47,29.89 C69.57,29.66 69.84,29.45 70.07,29.34 C70.29,29.24 70.59,29.34 70.82,29.26 C71.04,29.19 71.17,28.97 71.40,28.89 C71.63,28.81 71.95,28.72 72.18,28.79 C72.41,28.85 72.63,29.08 72.80,29.28 C72.96,29.47 73.10,29.72 73.16,29.96 C73.22,30.20 73.21,30.47 73.17,30.70Z" fill="none" stroke="#333" stroke-width="0.32"/><path d="M72.36,30.70 C72.36,30.84 72.39,30.97 72.38,31.12 C72.37,31.27 72.39,31.51 72.31,31.63 C72.22,31.75 72.00,31.80 71.85,31.82 C71.70,31.84 71.54,31.76 71.40,31.73 C71.26,31.71 71.13,31.72 71.01,31.68 C70.88,31.63 70.75,31.56 70.65,31.47 C70.55,31.38 70.46,31.26 70.38,31.13 C70.30,31.01 70.17,30.85 70.17,30.70 C70.17,30.56 70.27,30.38 70.37,30.27 C70.46,30.15 70.63,30.11 70.74,30.02 C70.84,29.93 70.89,29.81 71.00,29.73 C71.12,29.64 71.26,29.53 71.40,29.51 C71.54,29.50 71.71,29.56 71.84,29.63 C71.97,29.69 72.10,29.79 72.19,29.90 C72.28,30.01 72.36,30.15 72.39,30.29 C72.42,30.42 72.37,30.57 72.36,30.70Z" fill="none" stroke="#333" stroke-width="0.32"/><circle cx="70.96" cy="32.39" r="0.39" fill="#333"/><circle cx="71.31" cy="29.94" r="0.46" fill="#444"/></g>
<rect x="49.50" y="13.40" width="33.00" height="33.90" stroke="#666" stroke-width="0.6" fill="none" />
<text x="81.90" y="20.40" font-size="3.7" font-weight="normal" text-anchor="end" fill="#333" >36.45</text>
<line x1="48.20" y1="17.64" x2="49.50" y2="17.64" stroke="#888" stroke-width="0.4" />
<rect x="45.70" y="16.64" width="1.4" height="2" fill="#d4d4d4"/>
<line x1="48.20" y1="26.11" x2="49.50" y2="26.11" stroke="#888" stroke-width="0.4" />
<rect x="45.70" y="25.11" width="1.4" height="2" fill="#d4d4d4"/>
<line x1="48.20" y1="34.59" x2="49.50" y2="34.59" stroke="#888" stroke-width="0.4" />
<rect x="45.70" y="33.59" width="1.4" height="2" fill="#d4d4d4"/>
<line x1="48.20" y1="43.06" x2="49.50" y2="43.06" stroke="#888" stroke-width="0.4" />
<rect x="45.70" y="42.06" width="1.4" height="2" fill="#d4d4d4"/>
<line x1="57.75" y1="47.30" x2="57.75" y2="48.50" stroke="#888" stroke-width="0.4" />
<rect x="56.55" y="49.30" width="2.4" height="1.3" fill="#d4d4d4"/>
<line x1="64.82" y1="47.30" x2="64.82" y2="48.50" stroke="#888" stroke-width="0.4" />
<rect x="63.62" y="49.30" width="2.4" height="1.3" fill="#d4d4d4"/>
<line x1="71.89" y1="47.30" x2="71.89" y2="48.50" stroke="#888" stroke-width="0.4" />
<rect x="70.69" y="49.30" width="2.4" height="1.3" fill="#d4d4d4"/>
<line x1="78.96" y1="47.30" x2="78.96" y2="48.50" stroke="#888" stroke-width="0.4" />
<rect x="77.76" y="49.30" width="2.4" height="1.3" fill="#d4d4d4"/>
<path d="M78.35,65.43 C78.35,66.23 77.89,67.15 77.52,67.86 C77.14,68.56 76.62,69.13 76.11,69.64 C75.60,70.16 75.06,70.73 74.46,70.95 C73.86,71.18 73.18,70.95 72.50,71.00 C71.83,71.05 71.14,71.38 70.44,71.27 C69.74,71.16 68.74,70.94 68.30,70.35 C67.85,69.77 67.80,68.56 67.74,67.74 C67.69,66.91 67.98,66.20 67.98,65.43 C67.98,64.66 67.62,63.87 67.73,63.11 C67.83,62.35 68.17,61.47 68.61,60.87 C69.06,60.27 69.76,59.83 70.41,59.50 C71.06,59.17 71.84,58.80 72.50,58.89 C73.17,58.97 73.89,59.55 74.41,60.03 C74.94,60.51 75.13,61.26 75.64,61.76 C76.15,62.26 77.04,62.40 77.49,63.01 C77.94,63.62 78.34,64.62 78.35,65.43Z" fill="#d0d0d0" filter="url(#b2)"/>
<g filter="url(#b3)"><path d="M78.77,65.43 C78.80,66.27 78.22,67.25 77.81,68.00 C77.40,68.74 76.88,69.39 76.32,69.90 C75.77,70.41 75.14,70.84 74.50,71.07 C73.86,71.30 73.22,71.17 72.50,71.30 C71.79,71.42 71.01,71.91 70.24,71.83 C69.47,71.76 68.34,71.51 67.88,70.84 C67.42,70.18 67.51,68.77 67.48,67.86 C67.46,66.96 67.75,66.24 67.74,65.43 C67.73,64.61 67.31,63.76 67.43,62.97 C67.54,62.17 67.95,61.28 68.43,60.65 C68.90,60.02 69.62,59.53 70.30,59.18 C70.98,58.84 71.79,58.51 72.50,58.57 C73.22,58.63 74.02,59.09 74.58,59.57 C75.14,60.06 75.36,60.93 75.87,61.49 C76.38,62.05 77.16,62.28 77.64,62.94 C78.13,63.59 78.75,64.58 78.77,65.43Z" fill="none" stroke="#333" stroke-width="0.32"/><path d="M77.41,65.43 C77.31,66.15 77.01,66.86 76.71,67.46 C76.40,68.07 76.01,68.60 75.58,69.03 C75.16,69.47 74.67,69.76 74.15,70.08 C73.64,70.41 73.12,70.81 72.50,70.99 C71.89,71.18 71.01,71.48 70.46,71.19 C69.92,70.91 69.50,69.94 69.22,69.28 C68.94,68.62 68.96,67.87 68.78,67.23 C68.60,66.59 68.27,66.09 68.15,65.43 C68.03,64.77 67.91,63.95 68.05,63.27 C68.20,62.59 68.61,61.91 69.02,61.35 C69.44,60.78 69.96,60.07 70.54,59.87 C71.12,59.68 71.94,59.93 72.50,60.17 C73.07,60.41 73.43,61.06 73.96,61.32 C74.48,61.58 75.11,61.43 75.66,61.73 C76.22,62.03 77.00,62.49 77.30,63.10 C77.59,63.72 77.51,64.70 77.41,65.43Z" fill="none" stroke="#333" stroke-width="0.32"/><path d="M76.33,65.43 C76.28,65.99 76.09,66.58 75.85,67.05 C75.60,67.51 75.19,67.80 74.88,68.21 C74.56,68.61 74.34,69.13 73.95,69.50 C73.55,69.88 73.00,70.41 72.50,70.45 C72.01,70.49 71.36,70.14 70.98,69.75 C70.59,69.36 70.49,68.58 70.20,68.12 C69.91,67.67 69.46,67.46 69.24,67.01 C69.01,66.56 68.93,65.99 68.86,65.43 C68.80,64.87 68.75,64.24 68.86,63.66 C68.97,63.08 69.15,62.33 69.51,61.92 C69.87,61.51 70.52,61.23 71.02,61.22 C71.52,61.20 72.04,61.75 72.50,61.83 C72.97,61.91 73.33,61.67 73.83,61.69 C74.32,61.71 75.09,61.61 75.48,61.94 C75.86,62.27 75.99,63.09 76.13,63.67 C76.28,64.25 76.38,64.86 76.33,65.43Z" fill="none" stroke="#333" stroke-width="0.32"/><path d="M75.31,65.43 C75.24,65.84 74.97,66.17 74.83,66.55 C74.69,66.93 74.63,67.31 74.46,67.71 C74.28,68.11 74.08,68.72 73.76,68.96 C73.43,69.20 72.88,69.27 72.50,69.15 C72.13,69.02 71.83,68.46 71.52,68.21 C71.21,67.96 70.88,67.89 70.62,67.64 C70.35,67.38 70.12,67.04 69.94,66.67 C69.76,66.30 69.60,65.87 69.55,65.43 C69.49,64.99 69.49,64.45 69.63,64.03 C69.76,63.61 70.01,63.09 70.34,62.89 C70.67,62.69 71.23,62.92 71.59,62.83 C71.95,62.75 72.15,62.53 72.50,62.40 C72.86,62.28 73.33,61.99 73.69,62.08 C74.05,62.16 74.38,62.59 74.64,62.93 C74.90,63.26 75.13,63.68 75.24,64.10 C75.35,64.52 75.37,65.02 75.31,65.43Z" fill="none" stroke="#333" stroke-width="0.32"/><path d="M74.22,65.43 C74.19,65.70 74.16,65.92 74.13,66.21 C74.09,66.51 74.15,66.94 74.02,67.20 C73.89,67.46 73.59,67.71 73.33,67.77 C73.08,67.83 72.76,67.64 72.50,67.58 C72.25,67.52 72.03,67.50 71.81,67.40 C71.59,67.29 71.37,67.15 71.19,66.97 C71.00,66.79 70.83,66.56 70.70,66.30 C70.56,66.05 70.40,65.73 70.38,65.43 C70.35,65.12 70.40,64.71 70.55,64.48 C70.70,64.24 71.08,64.17 71.29,64.01 C71.50,63.85 71.63,63.69 71.83,63.52 C72.03,63.34 72.26,63.04 72.50,62.97 C72.75,62.91 73.08,62.99 73.32,63.13 C73.55,63.27 73.74,63.55 73.90,63.79 C74.07,64.03 74.26,64.28 74.31,64.55 C74.36,64.82 74.25,65.15 74.22,65.43Z" fill="none" stroke="#333" stroke-width="0.32"/><circle cx="72.03" cy="63.24" r="0.32" fill="#777"/><circle cx="73.15" cy="59.94" r="0.48" fill="#444"/><circle cx="74.70" cy="69.07" r="0.45" fill="#777"/><circle cx="76.66" cy="63.98" r="0.43" fill="#777"/><circle cx="72.44" cy="67.43" r="0.37" fill="#333"/><circle cx="75.82" cy="64.03" r="0.39" fill="#555"/><circle cx="71.72" cy="66.27" r="0.32" fill="#777"/><circle cx="70.69" cy="61.07" r="0.34" fill="#444"/><circle cx="75.50" cy="66.25" r="0.32" fill="#333"/><circle cx="77.63" cy="66.66" r="0.38" fill="#666"/><circle cx="76.97" cy="68.00" r="0.49" fill="#666"/><circle cx="73.62" cy="66.99" r="0.46" fill="#444"/><circle cx="70.67" cy="67.30" r="0.42" fill="#666"/><circle cx="71.96" cy="61.09" r="0.50" fill="#555"/><circle cx="73.48" cy="60.95" r="0.41" fill="#777"/><circle cx="72.39" cy="67.35" r="0.43" fill="#555"/><circle cx="74.60" cy="67.36" r="0.37" fill="#777"/><circle cx="72.22" cy="66.64" r="0.35" fill="#444"/><circle cx="70.31" cy="64.79" r="0.37" fill="#444"/><circle cx="71.16" cy="65.42" r="0.50" fill="#444"/><circle cx="68.35" cy="64.94" r="0.41" fill="#444"/><circle cx="76.39" cy="66.20" r="0.33" fill="#333"/><circle cx="69.67" cy="65.89" r="0.37" fill="#555"/><circle cx="74.84" cy="64.12" r="0.48" fill="#666"/><circle cx="68.46" cy="66.89" r="0.48" fill="#444"/><circle cx="69.12" cy="64.32" r="0.48" fill="#777"/><circle cx="74.61" cy="69.81" r="0.42" fill="#555"/><circle cx="75.81" cy="69.19" r="0.44" fill="#555"/><circle cx="69.66" cy="69.27" r="0.47" fill="#555"/><circle cx="73.87" cy="69.15" r="0.39" fill="#333"/><circle cx="68.85" cy="68.40" r="0.36" fill="#444"/><circle cx="70.48" cy="61.03" r="0.42" fill="#666"/></g>
<path d="M68.78,77.88 C68.64,78.49 67.85,79.01 67.52,79.60 C67.19,80.19 67.22,80.82 66.80,81.42 C66.38,82.03 65.80,82.89 64.97,83.23 C64.14,83.58 62.78,83.62 61.83,83.50 C60.88,83.37 60.09,82.76 59.27,82.48 C58.44,82.20 57.57,82.14 56.87,81.80 C56.17,81.46 55.52,80.98 55.07,80.45 C54.61,79.93 54.34,79.30 54.16,78.65 C53.97,78.00 53.67,77.19 53.98,76.56 C54.28,75.94 55.13,75.23 55.97,74.90 C56.81,74.57 58.13,74.80 59.02,74.57 C59.91,74.34 60.41,73.76 61.31,73.50 C62.20,73.25 63.44,72.95 64.38,73.07 C65.31,73.18 66.26,73.73 66.92,74.21 C67.58,74.70 68.02,75.37 68.33,75.98 C68.64,76.59 68.91,77.28 68.78,77.88Z" fill="#d0d0d0" filter="url(#b2)"/>
<g filter="url(#b3)"><path d="M69.02,77.87 C68.82,78.51 68.03,79.03 67.70,79.64 C67.36,80.25 67.42,80.87 67.03,81.56 C66.63,82.25 66.20,83.37 65.33,83.76 C64.47,84.15 62.89,84.06 61.85,83.90 C60.82,83.73 59.98,83.08 59.12,82.76 C58.25,82.44 57.39,82.32 56.67,81.95 C55.95,81.59 55.32,81.09 54.78,80.55 C54.25,80.00 53.68,79.37 53.46,78.69 C53.23,78.00 53.07,77.10 53.44,76.44 C53.81,75.78 54.78,75.08 55.68,74.72 C56.58,74.37 57.90,74.54 58.83,74.30 C59.77,74.06 60.36,73.51 61.30,73.28 C62.23,73.05 63.50,72.78 64.46,72.92 C65.41,73.06 66.29,73.65 67.03,74.13 C67.77,74.61 68.55,75.17 68.88,75.79 C69.21,76.42 69.21,77.23 69.02,77.87Z" fill="none" stroke="#333" stroke-width="0.32"/><path d="M67.11,77.97 C67.10,78.51 67.29,78.95 67.26,79.54 C67.23,80.13 67.41,81.03 66.94,81.50 C66.46,81.98 65.27,82.26 64.41,82.41 C63.55,82.56 62.59,82.46 61.77,82.40 C60.95,82.35 60.22,82.25 59.48,82.09 C58.73,81.94 57.94,81.78 57.31,81.47 C56.67,81.17 56.16,80.72 55.66,80.25 C55.16,79.78 54.39,79.21 54.31,78.64 C54.24,78.07 54.70,77.32 55.22,76.84 C55.74,76.36 56.80,76.15 57.44,75.78 C58.08,75.41 58.41,75.01 59.06,74.63 C59.70,74.25 60.49,73.62 61.31,73.49 C62.12,73.37 63.12,73.67 63.94,73.88 C64.75,74.09 65.66,74.34 66.22,74.74 C66.78,75.15 67.15,75.79 67.30,76.32 C67.45,76.86 67.12,77.44 67.11,77.97Z" fill="none" stroke="#333" stroke-width="0.32"/><path d="M66.38,78.01 C66.64,78.45 67.25,79.05 67.15,79.52 C67.05,79.98 66.38,80.53 65.79,80.81 C65.19,81.09 64.25,81.06 63.57,81.20 C62.90,81.33 62.36,81.59 61.73,81.63 C61.11,81.67 60.45,81.56 59.83,81.44 C59.22,81.32 58.66,81.14 58.05,80.92 C57.43,80.69 56.50,80.49 56.12,80.10 C55.74,79.71 55.59,79.04 55.76,78.57 C55.93,78.10 56.73,77.66 57.13,77.27 C57.52,76.87 57.77,76.59 58.12,76.19 C58.48,75.80 58.71,75.18 59.25,74.91 C59.79,74.63 60.66,74.57 61.36,74.54 C62.07,74.51 62.85,74.55 63.48,74.71 C64.12,74.88 64.83,75.16 65.19,75.52 C65.54,75.88 65.42,76.48 65.62,76.89 C65.82,77.31 66.13,77.57 66.38,78.01Z" fill="none" stroke="#333" stroke-width="0.32"/><path d="M65.90,78.04 C66.07,78.37 65.98,78.88 65.72,79.20 C65.46,79.52 64.79,79.73 64.34,79.94 C63.90,80.15 63.51,80.33 63.07,80.47 C62.63,80.60 62.16,80.74 61.69,80.77 C61.22,80.80 60.80,80.68 60.27,80.64 C59.74,80.61 58.97,80.73 58.51,80.57 C58.05,80.40 57.59,79.99 57.50,79.63 C57.40,79.28 57.82,78.80 57.96,78.45 C58.10,78.10 58.25,77.88 58.36,77.54 C58.46,77.21 58.32,76.76 58.57,76.46 C58.82,76.17 59.39,75.97 59.86,75.80 C60.34,75.63 60.89,75.50 61.41,75.46 C61.93,75.43 62.58,75.43 63.00,75.60 C63.43,75.76 63.67,76.18 63.96,76.45 C64.24,76.72 64.40,76.93 64.72,77.19 C65.05,77.46 65.73,77.70 65.90,78.04Z" fill="none" stroke="#333" stroke-width="0.32"/><path d="M64.57,78.10 C64.58,78.35 64.34,78.63 64.15,78.84 C63.96,79.06 63.69,79.24 63.43,79.39 C63.17,79.55 62.89,79.68 62.60,79.78 C62.30,79.87 61.99,79.89 61.65,79.96 C61.30,80.02 60.90,80.16 60.54,80.14 C60.17,80.13 59.67,80.04 59.45,79.85 C59.24,79.67 59.32,79.28 59.27,79.04 C59.22,78.79 59.21,78.61 59.16,78.39 C59.12,78.16 58.95,77.92 59.00,77.69 C59.05,77.46 59.22,77.18 59.45,76.99 C59.68,76.80 60.04,76.66 60.37,76.54 C60.71,76.42 61.11,76.24 61.45,76.26 C61.80,76.27 62.16,76.50 62.44,76.64 C62.71,76.79 62.81,76.98 63.09,77.10 C63.37,77.23 63.89,77.23 64.13,77.39 C64.38,77.56 64.57,77.86 64.57,78.10Z" fill="none" stroke="#333" stroke-width="0.32"/><circle cx="65.68" cy="74.48" r="0.33" fill="#333"/><circle cx="66.70" cy="74.59" r="0.41" fill="#444"/><circle cx="62.42" cy="82.99" r="0.43" fill="#333"/><circle cx="59.57" cy="82.42" r="0.47" fill="#555"/><circle cx="61.08" cy="77.10" r="0.38" fill="#666"/><circle cx="64.97" cy="82.00" r="0.44" fill="#333"/><circle cx="62.36" cy="79.64" r="0.40" fill="#444"/><circle cx="60.82" cy="80.22" r="0.48" fill="#777"/><circle cx="59.30" cy="77.43" r="0.48" fill="#555"/><circle cx="62.73" cy="79.79" r="0.43" fill="#444"/><circle cx="67.81" cy="80.57" r="0.48" fill="#666"/><circle cx="67.79" cy="80.01" r="0.42" fill="#333"/><circle cx="61.05" cy="80.13" r="0.32" fill="#777"/><circle cx="60.45" cy="82.31" r="0.34" fill="#444"/><circle cx="61.47" cy="77.85" r="0.50" fill="#444"/><circle cx="65.76" cy="78.65" r="0.38" fill="#777"/><circle cx="65.56" cy="76.74" r="0.31" fill="#444"/><circle cx="62.46" cy="73.63" r="0.43" fill="#555"/><circle cx="62.35" cy="75.16" r="0.47" fill="#777"/><circle cx="56.56" cy="74.85" r="0.33" fill="#777"/><circle cx="61.87" cy="76.86" r="0.39" fill="#777"/><circle cx="59.05" cy="75.55" r="0.46" fill="#555"/><circle cx="62.15" cy="76.48" r="0.41" fill="#666"/><circle cx="64.50" cy="75.32" r="0.31" fill="#555"/><circle cx="56.68" cy="76.27" r="0.39" fill="#777"/><circle cx="63.92" cy="76.60" r="0.30" fill="#777"/><circle cx="57.47" cy="78.55" r="0.44" fill="#666"/><circle cx="61.94" cy="77.90" r="0.48" fill="#333"/><circle cx="57.14" cy="77.13" r="0.42" fill="#444"/><circle cx="65.40" cy="78.97" r="0.46" fill="#555"/><circle cx="60.89" cy="74.13" r="0.40" fill="#777"/><circle cx="58.74" cy="75.90" r="0.35" fill="#666"/><circle cx="64.76" cy="81.33" r="0.46" fill="#777"/><circle cx="65.25" cy="79.07" r="0.44" fill="#555"/><circle cx="59.28" cy="73.76" r="0.40" fill="#444"/><circle cx="61.81" cy="73.34" r="0.45" fill="#444"/><circle cx="54.33" cy="77.97" r="0.35" fill="#333"/><circle cx="62.95" cy="77.38" r="0.41" fill="#666"/><circle cx="54.71" cy="79.46" r="0.44" fill="#333"/><circle cx="59.82" cy="73.57" r="0.35" fill="#777"/><circle cx="61.63" cy="81.54" r="0.38" fill="#444"/><circle cx="63.83" cy="79.05" r="0.37" fill="#555"/><circle cx="66.69" cy="77.58" r="0.33" fill="#333"/></g>
<path d="M79.91,79.77 C79.85,80.59 79.59,81.37 79.42,82.09 C79.25,82.82 79.07,83.36 78.87,84.12 C78.68,84.89 78.54,86.17 78.23,86.69 C77.92,87.21 77.37,87.42 76.99,87.24 C76.61,87.06 76.24,86.16 75.94,85.62 C75.63,85.08 75.43,84.54 75.16,83.98 C74.90,83.43 74.53,82.99 74.35,82.29 C74.16,81.59 74.07,80.64 74.04,79.77 C74.00,78.89 74.00,77.87 74.13,77.03 C74.26,76.20 74.51,75.20 74.83,74.77 C75.14,74.35 75.68,74.61 76.04,74.47 C76.40,74.33 76.64,74.09 76.99,73.91 C77.34,73.72 77.77,73.22 78.14,73.34 C78.51,73.46 78.95,74.00 79.21,74.63 C79.48,75.26 79.62,76.29 79.73,77.14 C79.85,78.00 79.96,78.94 79.91,79.77Z" fill="#d0d0d0" filter="url(#b2)"/>
<g filter="url(#b3)"><path d="M79.97,79.77 C79.91,80.62 79.64,81.38 79.47,82.14 C79.30,82.90 79.15,83.49 78.96,84.31 C78.76,85.13 78.63,86.53 78.30,87.06 C77.97,87.60 77.39,87.77 76.99,87.55 C76.59,87.33 76.24,86.28 75.92,85.73 C75.59,85.19 75.31,84.84 75.04,84.27 C74.77,83.70 74.50,83.07 74.32,82.32 C74.14,81.57 74.02,80.68 73.96,79.77 C73.89,78.85 73.79,77.71 73.91,76.83 C74.04,75.95 74.35,74.90 74.70,74.48 C75.05,74.06 75.62,74.41 76.01,74.29 C76.39,74.17 76.61,74.00 76.99,73.75 C77.36,73.49 77.86,72.63 78.25,72.74 C78.64,72.84 79.06,73.65 79.33,74.37 C79.59,75.09 79.73,76.14 79.84,77.04 C79.95,77.94 80.03,78.92 79.97,79.77Z" fill="none" stroke="#333" stroke-width="0.32"/><path d="M79.20,79.77 C79.15,80.44 79.02,80.94 78.96,81.66 C78.91,82.37 79.00,83.40 78.85,84.07 C78.70,84.73 78.35,85.49 78.04,85.65 C77.73,85.81 77.30,85.23 76.99,85.01 C76.68,84.79 76.44,84.59 76.17,84.32 C75.91,84.06 75.63,83.84 75.40,83.44 C75.17,83.03 74.96,82.49 74.78,81.88 C74.60,81.27 74.36,80.51 74.32,79.77 C74.29,79.03 74.38,78.04 74.57,77.45 C74.76,76.87 75.20,76.63 75.47,76.27 C75.74,75.91 75.93,75.63 76.18,75.27 C76.43,74.91 76.68,74.33 76.99,74.13 C77.29,73.93 77.71,73.80 78.01,74.05 C78.31,74.30 78.58,75.02 78.79,75.62 C78.99,76.21 79.17,76.93 79.24,77.62 C79.30,78.31 79.24,79.09 79.20,79.77Z" fill="none" stroke="#333" stroke-width="0.32"/><path d="M78.57,79.77 C78.61,80.29 78.75,80.88 78.73,81.43 C78.71,81.99 78.60,82.72 78.43,83.09 C78.26,83.46 77.92,83.56 77.68,83.65 C77.44,83.74 77.21,83.67 76.99,83.62 C76.77,83.57 76.55,83.52 76.34,83.35 C76.14,83.18 75.95,82.91 75.76,82.59 C75.57,82.28 75.34,81.94 75.21,81.47 C75.08,81.00 74.95,80.30 74.99,79.77 C75.02,79.23 75.27,78.68 75.43,78.28 C75.59,77.87 75.79,77.72 75.94,77.34 C76.08,76.96 76.13,76.32 76.31,75.99 C76.48,75.65 76.76,75.36 76.99,75.33 C77.22,75.29 77.49,75.53 77.71,75.76 C77.93,75.98 78.18,76.27 78.32,76.70 C78.45,77.12 78.48,77.79 78.52,78.31 C78.56,78.82 78.54,79.25 78.57,79.77Z" fill="none" stroke="#333" stroke-width="0.32"/><path d="M78.20,79.77 C78.25,80.12 78.29,80.63 78.24,80.96 C78.18,81.29 77.98,81.55 77.84,81.74 C77.71,81.93 77.55,82.00 77.41,82.11 C77.27,82.22 77.13,82.39 76.99,82.40 C76.85,82.41 76.70,82.28 76.56,82.18 C76.41,82.08 76.24,82.01 76.11,81.80 C75.97,81.60 75.78,81.31 75.73,80.97 C75.69,80.63 75.80,80.12 75.85,79.77 C75.91,79.42 76.01,79.19 76.06,78.88 C76.11,78.57 76.10,78.19 76.18,77.90 C76.26,77.61 76.38,77.31 76.52,77.14 C76.65,76.98 76.83,76.92 76.99,76.91 C77.15,76.89 77.34,76.89 77.47,77.07 C77.60,77.25 77.69,77.68 77.76,77.98 C77.84,78.28 77.86,78.56 77.94,78.86 C78.01,79.16 78.15,79.42 78.20,79.77Z" fill="none" stroke="#333" stroke-width="0.32"/><circle cx="76.96" cy="75.79" r="0.46" fill="#333"/><circle cx="78.20" cy="79.33" r="0.48" fill="#333"/><circle cx="77.45" cy="84.75" r="0.49" fill="#333"/><circle cx="77.69" cy="78.00" r="0.32" fill="#555"/><circle cx="75.65" cy="81.28" r="0.40" fill="#333"/><circle cx="78.07" cy="78.61" r="0.34" fill="#555"/><circle cx="77.82" cy="78.79" r="0.37" fill="#444"/><circle cx="76.56" cy="75.69" r="0.48" fill="#555"/><circle cx="77.56" cy="76.04" r="0.44" fill="#555"/><circle cx="74.88" cy="78.08" r="0.48" fill="#333"/><circle cx="78.94" cy="84.02" r="0.35" fill="#666"/><circle cx="75.16" cy="83.88" r="0.39" fill="#555"/><circle cx="76.49" cy="82.02" r="0.31" fill="#333"/><circle cx="76.35" cy="82.74" r="0.35" fill="#555"/><circle cx="76.55" cy="77.99" r="0.38" fill="#666"/><circle cx="75.54" cy="84.92" r="0.42" fill="#333"/><circle cx="79.22" cy="77.81" r="0.42" fill="#333"/><circle cx="75.67" cy="81.67" r="0.31" fill="#555"/></g>
<path d="M71.06,71.95 C71.02,72.21 71.01,72.49 70.85,72.70 C70.70,72.91 70.36,73.02 70.14,73.20 C69.91,73.38 69.77,73.60 69.50,73.77 C69.24,73.94 68.87,74.21 68.54,74.23 C68.21,74.25 67.80,74.04 67.53,73.87 C67.26,73.70 67.13,73.41 66.94,73.21 C66.74,73.01 66.51,72.86 66.37,72.65 C66.22,72.44 66.12,72.19 66.08,71.95 C66.04,71.70 66.04,71.41 66.13,71.16 C66.21,70.90 66.36,70.59 66.60,70.42 C66.84,70.24 67.24,70.12 67.57,70.09 C67.89,70.07 68.23,70.25 68.54,70.27 C68.86,70.29 69.12,70.20 69.45,70.22 C69.78,70.24 70.27,70.22 70.54,70.37 C70.82,70.52 71.00,70.85 71.08,71.12 C71.17,71.38 71.10,71.68 71.06,71.95Z" fill="#d0d0d0" filter="url(#b2)"/>
<g filter="url(#b3)"><path d="M71.12,71.95 C71.09,72.21 71.06,72.49 70.91,72.72 C70.77,72.94 70.47,73.09 70.24,73.28 C70.02,73.47 69.83,73.68 69.55,73.85 C69.26,74.03 68.89,74.28 68.54,74.31 C68.19,74.34 67.73,74.21 67.44,74.04 C67.16,73.87 67.04,73.51 66.84,73.29 C66.64,73.06 66.41,72.92 66.25,72.69 C66.08,72.47 65.89,72.21 65.85,71.95 C65.82,71.68 65.93,71.40 66.04,71.13 C66.15,70.86 66.25,70.52 66.50,70.34 C66.75,70.16 67.19,70.06 67.53,70.03 C67.87,69.99 68.22,70.13 68.54,70.15 C68.87,70.18 69.13,70.15 69.47,70.18 C69.82,70.21 70.34,70.16 70.61,70.32 C70.89,70.47 71.04,70.83 71.12,71.10 C71.21,71.38 71.16,71.68 71.12,71.95Z" fill="none" stroke="#333" stroke-width="0.32"/><path d="M70.42,71.95 C70.36,72.13 70.19,72.28 70.09,72.45 C69.99,72.62 69.93,72.76 69.82,72.95 C69.70,73.13 69.61,73.45 69.40,73.56 C69.18,73.68 68.80,73.70 68.54,73.64 C68.29,73.58 68.08,73.34 67.87,73.22 C67.66,73.10 67.47,73.05 67.29,72.93 C67.11,72.81 66.93,72.68 66.81,72.51 C66.69,72.35 66.60,72.15 66.56,71.95 C66.52,71.74 66.46,71.49 66.55,71.30 C66.64,71.10 66.86,70.89 67.08,70.80 C67.31,70.71 67.67,70.79 67.91,70.75 C68.16,70.71 68.30,70.62 68.54,70.56 C68.78,70.50 69.11,70.35 69.36,70.39 C69.61,70.42 69.86,70.61 70.04,70.77 C70.21,70.93 70.34,71.14 70.41,71.34 C70.47,71.53 70.47,71.76 70.42,71.95Z" fill="none" stroke="#333" stroke-width="0.32"/><path d="M69.66,71.95 C69.65,72.06 69.61,72.16 69.58,72.28 C69.56,72.41 69.61,72.61 69.52,72.72 C69.44,72.83 69.23,72.91 69.06,72.93 C68.90,72.96 68.70,72.90 68.54,72.87 C68.38,72.84 68.25,72.81 68.11,72.76 C67.97,72.72 67.82,72.68 67.71,72.60 C67.60,72.53 67.54,72.41 67.45,72.30 C67.37,72.19 67.20,72.07 67.18,71.95 C67.16,71.82 67.22,71.65 67.32,71.55 C67.42,71.45 67.65,71.41 67.78,71.35 C67.92,71.28 68.01,71.24 68.14,71.17 C68.26,71.11 68.39,70.97 68.54,70.94 C68.70,70.90 68.90,70.93 69.05,70.98 C69.20,71.02 69.35,71.13 69.45,71.23 C69.55,71.33 69.63,71.46 69.66,71.58 C69.70,71.70 69.67,71.83 69.66,71.95Z" fill="none" stroke="#333" stroke-width="0.32"/><circle cx="67.71" cy="71.21" r="0.34" fill="#555"/><circle cx="69.06" cy="71.43" r="0.47" fill="#777"/><circle cx="67.29" cy="71.50" r="0.42" fill="#444"/><circle cx="69.60" cy="70.46" r="0.34" fill="#444"/></g>
<ellipse cx="72.50" cy="64.93" rx="7.30" ry="7.02" fill="none" stroke="#666" stroke-width="0.4"/>
<rect x="50.40" y="55.80" width="34.20" height="35.70" stroke="#666" stroke-width="0.6" fill="none" />
<text x="84.00" y="62.80" font-size="3.7" font-weight="normal" text-anchor="end" fill="#333" >12.21</text>
<line x1="49.10" y1="60.26" x2="50.40" y2="60.26" stroke="#888" stroke-width="0.4" />
<rect x="46.60" y="59.26" width="1.4" height="2" fill="#d4d4d4"/>
<line x1="49.10" y1="69.19" x2="50.40" y2="69.19" stroke="#888" stroke-width="0.4" />
<rect x="46.60" y="68.19" width="1.4" height="2" fill="#d4d4d4"/>
<line x1="49.10" y1="78.11" x2="50.40" y2="78.11" stroke="#888" stroke-width="0.4" />
<rect x="46.60" y="77.11" width="1.4" height="2" fill="#d4d4d4"/>
<line x1="49.10" y1="87.04" x2="50.40" y2="87.04" stroke="#888" stroke-width="0.4" />
<rect x="46.60" y="86.04" width="1.4" height="2" fill="#d4d4d4"/>
<line x1="58.95" y1="91.50" x2="58.95" y2="92.70" stroke="#888" stroke-width="0.4" />
<rect x="57.75" y="93.50" width="2.4" height="1.3" fill="#d4d4d4"/>
<line x1="66.28" y1="91.50" x2="66.28" y2="92.70" stroke="#888" stroke-width="0.4" />
<rect x="65.08" y="93.50" width="2.4" height="1.3" fill="#d4d4d4"/>
<line x1="73.61" y1="91.50" x2="73.61" y2="92.70" stroke="#888" stroke-width="0.4" />
<rect x="72.41" y="93.50" width="2.4" height="1.3" fill="#d4d4d4"/>
<line x1="80.94" y1="91.50" x2="80.94" y2="92.70" stroke="#888" stroke-width="0.4" />
<rect x="79.74" y="93.50" width="2.4" height="1.3" fill="#d4d4d4"/>
<path d="M77.22,108.64 C77.30,108.97 77.15,109.40 77.12,109.78 C77.10,110.16 77.18,110.48 77.07,110.92 C76.96,111.36 76.87,111.96 76.48,112.44 C76.08,112.92 75.29,113.48 74.68,113.81 C74.07,114.13 73.41,114.21 72.83,114.40 C72.26,114.59 71.71,114.86 71.21,114.96 C70.70,115.06 70.22,115.05 69.82,114.98 C69.42,114.91 69.08,114.75 68.80,114.53 C68.52,114.32 68.15,114.06 68.15,113.67 C68.16,113.28 68.45,112.66 68.85,112.19 C69.24,111.72 70.05,111.28 70.53,110.85 C71.00,110.41 71.24,110.01 71.72,109.57 C72.19,109.14 72.80,108.56 73.38,108.25 C73.95,107.95 74.62,107.84 75.16,107.76 C75.69,107.69 76.26,107.67 76.61,107.82 C76.95,107.97 77.13,108.31 77.22,108.64Z" fill="#d0d0d0" filter="url(#b2)"/>
<g filter="url(#b3)"><path d="M77.55,108.40 C77.62,108.75 77.23,109.35 77.16,109.77 C77.08,110.18 77.19,110.46 77.12,110.91 C77.04,111.37 77.09,111.99 76.70,112.50 C76.31,113.00 75.43,113.63 74.78,113.95 C74.14,114.28 73.44,114.26 72.83,114.45 C72.22,114.65 71.67,114.98 71.12,115.11 C70.58,115.24 70.01,115.31 69.56,115.26 C69.11,115.20 68.72,115.03 68.44,114.79 C68.16,114.54 67.83,114.22 67.88,113.79 C67.94,113.36 68.33,112.69 68.75,112.20 C69.18,111.71 69.95,111.28 70.43,110.82 C70.92,110.37 71.15,109.94 71.64,109.47 C72.14,108.99 72.80,108.30 73.40,107.98 C74.01,107.66 74.72,107.59 75.28,107.54 C75.83,107.49 76.36,107.53 76.74,107.67 C77.12,107.82 77.49,108.06 77.55,108.40Z" fill="none" stroke="#333" stroke-width="0.32"/><path d="M76.21,109.35 C76.31,109.59 76.36,109.79 76.48,110.06 C76.60,110.33 77.03,110.57 76.93,110.94 C76.83,111.31 76.34,111.91 75.89,112.28 C75.43,112.65 74.72,112.88 74.22,113.15 C73.72,113.42 73.34,113.66 72.88,113.89 C72.42,114.11 71.90,114.38 71.47,114.48 C71.04,114.58 70.69,114.51 70.28,114.49 C69.88,114.47 69.24,114.57 69.03,114.37 C68.82,114.17 68.84,113.70 69.01,113.30 C69.19,112.90 69.76,112.39 70.06,112.00 C70.36,111.60 70.52,111.31 70.81,110.92 C71.09,110.54 71.36,110.02 71.78,109.67 C72.20,109.32 72.82,109.03 73.33,108.81 C73.84,108.59 74.41,108.38 74.84,108.34 C75.26,108.31 75.65,108.42 75.88,108.58 C76.11,108.75 76.11,109.10 76.21,109.35Z" fill="none" stroke="#333" stroke-width="0.32"/><path d="M75.46,109.87 C75.65,109.98 76.07,110.00 76.15,110.21 C76.22,110.41 76.14,110.79 75.93,111.09 C75.72,111.40 75.21,111.74 74.87,112.01 C74.54,112.28 74.24,112.50 73.92,112.72 C73.60,112.94 73.27,113.16 72.93,113.32 C72.59,113.49 72.25,113.60 71.89,113.72 C71.52,113.83 71.03,114.03 70.75,114.00 C70.46,113.98 70.20,113.80 70.18,113.57 C70.17,113.33 70.53,112.88 70.64,112.59 C70.75,112.31 70.76,112.14 70.85,111.88 C70.93,111.61 70.93,111.30 71.14,111.01 C71.35,110.73 71.78,110.41 72.13,110.16 C72.48,109.92 72.90,109.67 73.26,109.52 C73.63,109.37 74.04,109.27 74.33,109.27 C74.62,109.27 74.81,109.42 75.00,109.52 C75.19,109.62 75.27,109.75 75.46,109.87Z" fill="none" stroke="#333" stroke-width="0.32"/><path d="M75.01,110.19 C75.15,110.25 75.24,110.44 75.19,110.62 C75.14,110.80 74.86,111.08 74.71,111.28 C74.55,111.49 74.41,111.66 74.24,111.84 C74.06,112.02 73.87,112.20 73.66,112.35 C73.45,112.50 73.22,112.61 72.98,112.74 C72.74,112.86 72.46,113.04 72.21,113.12 C71.97,113.20 71.63,113.28 71.50,113.21 C71.37,113.14 71.42,112.87 71.42,112.70 C71.42,112.54 71.51,112.37 71.52,112.21 C71.52,112.06 71.39,111.96 71.44,111.79 C71.49,111.62 71.63,111.38 71.80,111.19 C71.97,110.99 72.22,110.80 72.45,110.63 C72.69,110.46 72.98,110.25 73.21,110.17 C73.44,110.10 73.64,110.17 73.83,110.18 C74.02,110.19 74.12,110.23 74.32,110.23 C74.52,110.23 74.86,110.12 75.01,110.19Z" fill="none" stroke="#333" stroke-width="0.32"/><circle cx="77.13" cy="109.52" r="0.41" fill="#444"/><circle cx="71.79" cy="111.33" r="0.45" fill="#333"/><circle cx="72.96" cy="113.45" r="0.48" fill="#333"/><circle cx="75.30" cy="110.58" r="0.35" fill="#777"/><circle cx="74.60" cy="113.43" r="0.38" fill="#666"/><circle cx="73.09" cy="108.94" r="0.49" fill="#333"/><circle cx="69.49" cy="114.36" r="0.35" fill="#666"/><circle cx="73.29" cy="111.27" r="0.33" fill="#777"/><circle cx="72.62" cy="114.09" r="0.43" fill="#777"/><circle cx="73.20" cy="110.02" r="0.37" fill="#666"/><circle cx="73.71" cy="113.96" r="0.42" fill="#555"/><circle cx="73.45" cy="112.33" r="0.34" fill="#444"/><circle cx="72.01" cy="110.24" r="0.34" fill="#444"/></g>
<path d="M71.51,120.13 C71.80,120.66 71.48,121.48 70.96,122.07 C70.44,122.65 69.28,123.18 68.41,123.64 C67.53,124.09 66.65,124.48 65.69,124.80 C64.74,125.13 63.72,125.39 62.68,125.57 C61.64,125.74 60.60,125.81 59.45,125.86 C58.31,125.92 56.74,126.12 55.79,125.89 C54.85,125.66 54.02,125.04 53.76,124.48 C53.50,123.93 54.08,123.15 54.24,122.56 C54.41,121.96 54.59,121.52 54.76,120.94 C54.92,120.36 54.69,119.62 55.25,119.08 C55.80,118.54 57.06,118.10 58.09,117.70 C59.12,117.31 60.31,116.82 61.43,116.69 C62.56,116.56 63.87,116.70 64.83,116.90 C65.79,117.10 66.46,117.55 67.18,117.88 C67.91,118.21 68.46,118.50 69.19,118.88 C69.91,119.25 71.21,119.60 71.51,120.13Z" fill="#d0d0d0" filter="url(#b2)"/>
<g filter="url(#b3)"><path d="M72.47,119.99 C72.78,120.55 72.04,121.47 71.41,122.10 C70.78,122.72 69.59,123.24 68.69,123.73 C67.79,124.23 67.00,124.77 66.00,125.09 C65.00,125.41 63.80,125.50 62.69,125.66 C61.58,125.82 60.58,125.94 59.35,126.04 C58.12,126.13 56.34,126.46 55.29,126.24 C54.25,126.02 53.27,125.34 53.10,124.72 C52.92,124.11 54.01,123.19 54.24,122.56 C54.48,121.92 54.35,121.51 54.49,120.92 C54.63,120.33 54.53,119.61 55.07,119.01 C55.61,118.42 56.66,117.77 57.72,117.36 C58.78,116.95 60.19,116.71 61.42,116.57 C62.64,116.43 64.09,116.31 65.05,116.53 C66.01,116.75 66.43,117.51 67.18,117.88 C67.93,118.25 68.69,118.38 69.57,118.74 C70.45,119.09 72.16,119.43 72.47,119.99Z" fill="none" stroke="#333" stroke-width="0.32"/><path d="M70.40,120.28 C70.36,120.82 69.74,121.43 69.30,121.95 C68.86,122.47 68.41,122.99 67.75,123.41 C67.08,123.82 66.15,124.15 65.30,124.44 C64.45,124.73 63.60,124.89 62.62,125.14 C61.64,125.39 60.43,125.89 59.41,125.93 C58.40,125.97 57.08,125.75 56.53,125.37 C55.97,124.99 56.30,124.13 56.08,123.64 C55.86,123.15 55.44,122.87 55.22,122.42 C55.00,121.97 54.60,121.45 54.76,120.94 C54.91,120.44 55.54,119.88 56.15,119.39 C56.76,118.90 57.50,118.33 58.39,117.99 C59.29,117.65 60.56,117.37 61.53,117.37 C62.49,117.37 63.38,117.80 64.19,117.97 C65.01,118.14 65.52,118.29 66.42,118.42 C67.31,118.55 68.89,118.43 69.56,118.74 C70.22,119.05 70.44,119.75 70.40,120.28Z" fill="none" stroke="#333" stroke-width="0.32"/><path d="M68.33,120.58 C68.27,121.01 68.15,121.46 67.80,121.85 C67.45,122.23 66.78,122.56 66.25,122.89 C65.72,123.22 65.24,123.48 64.63,123.81 C64.02,124.15 63.37,124.66 62.58,124.88 C61.79,125.10 60.60,125.27 59.88,125.15 C59.17,125.02 58.76,124.44 58.30,124.12 C57.84,123.81 57.47,123.57 57.12,123.26 C56.77,122.95 56.36,122.65 56.20,122.28 C56.04,121.91 56.04,121.47 56.17,121.04 C56.30,120.60 56.49,120.07 56.97,119.67 C57.46,119.27 58.30,118.80 59.09,118.64 C59.88,118.47 60.93,118.66 61.71,118.66 C62.49,118.66 63.00,118.69 63.79,118.64 C64.58,118.60 65.72,118.29 66.46,118.39 C67.19,118.49 67.87,118.88 68.18,119.24 C68.50,119.60 68.40,120.14 68.33,120.58Z" fill="none" stroke="#333" stroke-width="0.32"/><path d="M66.84,120.78 C66.80,121.09 66.37,121.43 66.12,121.73 C65.87,122.03 65.63,122.27 65.33,122.57 C65.03,122.87 64.80,123.26 64.33,123.53 C63.85,123.80 63.10,124.11 62.48,124.17 C61.87,124.23 61.16,124.02 60.64,123.89 C60.12,123.76 59.81,123.53 59.37,123.38 C58.92,123.22 58.31,123.16 57.98,122.95 C57.65,122.74 57.48,122.42 57.36,122.12 C57.25,121.81 57.15,121.45 57.29,121.12 C57.42,120.78 57.72,120.35 58.19,120.09 C58.65,119.84 59.49,119.68 60.10,119.58 C60.70,119.48 61.24,119.61 61.83,119.50 C62.42,119.39 63.02,118.97 63.63,118.90 C64.25,118.82 65.07,118.87 65.53,119.04 C65.98,119.21 66.14,119.61 66.36,119.90 C66.58,120.19 66.88,120.48 66.84,120.78Z" fill="none" stroke="#333" stroke-width="0.32"/><path d="M65.16,121.02 C65.11,121.23 64.83,121.42 64.73,121.63 C64.64,121.85 64.75,122.08 64.60,122.32 C64.44,122.55 64.17,122.90 63.79,123.03 C63.42,123.16 62.76,123.09 62.33,123.08 C61.90,123.06 61.58,122.98 61.21,122.94 C60.83,122.91 60.40,122.94 60.10,122.86 C59.79,122.78 59.60,122.60 59.37,122.44 C59.15,122.29 58.85,122.13 58.73,121.93 C58.60,121.72 58.46,121.42 58.63,121.21 C58.80,121.00 59.38,120.78 59.76,120.64 C60.14,120.50 60.57,120.49 60.92,120.35 C61.28,120.21 61.49,119.94 61.87,119.81 C62.26,119.68 62.82,119.56 63.23,119.57 C63.64,119.58 64.03,119.75 64.33,119.89 C64.63,120.02 64.89,120.20 65.03,120.39 C65.17,120.58 65.21,120.81 65.16,121.02Z" fill="none" stroke="#333" stroke-width="0.32"/><circle cx="67.90" cy="118.49" r="0.46" fill="#444"/><circle cx="64.09" cy="123.05" r="0.49" fill="#555"/><circle cx="63.04" cy="123.17" r="0.34" fill="#666"/><circle cx="56.58" cy="124.81" r="0.39" fill="#777"/><circle cx="60.54" cy="121.73" r="0.41" fill="#444"/><circle cx="59.27" cy="125.84" r="0.41" fill="#444"/><circle cx="66.45" cy="120.76" r="0.44" fill="#555"/><circle cx="66.25" cy="117.29" r="0.34" fill="#777"/><circle cx="64.40" cy="124.74" r="0.44" fill="#444"/><circle cx="60.12" cy="121.95" r="0.35" fill="#333"/><circle cx="59.03" cy="124.56" r="0.34" fill="#555"/><circle cx="68.74" cy="120.41" r="0.47" fill="#555"/><circle cx="62.25" cy="119.98" r="0.43" fill="#333"/><circle cx="55.68" cy="124.14" r="0.36" fill="#666"/><circle cx="63.54" cy="122.02" r="0.37" fill="#333"/><circle cx="60.99" cy="120.04" r="0.32" fill="#777"/><circle cx="68.11" cy="123.47" r="0.44" fill="#333"/><circle cx="54.39" cy="123.73" r="0.34" fill="#666"/><circle cx="59.65" cy="122.60" r="0.37" fill="#333"/><circle cx="59.52" cy="124.49" r="0.36" fill="#555"/><circle cx="59.45" cy="118.62" r="0.30" fill="#444"/><circle cx="58.19" cy="124.21" r="0.38" fill="#555"/><circle cx="61.92" cy="122.37" r="0.32" fill="#777"/><circle cx="59.09" cy="119.72" r="0.32" fill="#444"/><circle cx="59.50" cy="123.53" r="0.43" fill="#777"/><circle cx="58.14" cy="125.47" r="0.43" fill="#333"/><circle cx="62.95" cy="121.93" r="0.39" fill="#444"/><circle cx="59.91" cy="124.87" r="0.31" fill="#777"/><circle cx="62.24" cy="121.73" r="0.39" fill="#666"/><circle cx="63.21" cy="124.20" r="0.50" fill="#333"/><circle cx="66.83" cy="121.85" r="0.46" fill="#666"/><circle cx="66.88" cy="119.60" r="0.34" fill="#777"/><circle cx="60.71" cy="122.49" r="0.32" fill="#666"/><circle cx="62.14" cy="121.36" r="0.46" fill="#777"/><circle cx="67.21" cy="118.86" r="0.46" fill="#666"/><circle cx="66.05" cy="122.70" r="0.37" fill="#333"/><circle cx="57.46" cy="125.05" r="0.32" fill="#333"/><circle cx="57.41" cy="123.67" r="0.46" fill="#333"/><circle cx="69.59" cy="122.91" r="0.32" fill="#777"/><circle cx="60.16" cy="121.28" r="0.40" fill="#333"/><circle cx="60.89" cy="123.65" r="0.35" fill="#444"/><circle cx="61.18" cy="121.88" r="0.42" fill="#444"/><circle cx="63.07" cy="122.13" r="0.47" fill="#444"/><circle cx="68.53" cy="122.99" r="0.33" fill="#444"/><circle cx="59.71" cy="121.27" r="0.42" fill="#777"/><circle cx="67.15" cy="117.43" r="0.46" fill="#666"/></g>
<path d="M80.54,121.45 C80.51,122.08 80.22,122.70 80.06,123.25 C79.91,123.80 79.80,124.37 79.60,124.75 C79.40,125.14 79.13,125.36 78.88,125.55 C78.63,125.74 78.40,125.77 78.12,125.89 C77.84,126.02 77.50,126.42 77.22,126.31 C76.93,126.20 76.58,125.76 76.42,125.24 C76.26,124.71 76.31,123.79 76.27,123.16 C76.22,122.53 76.19,122.04 76.17,121.45 C76.15,120.86 76.07,120.21 76.13,119.62 C76.19,119.02 76.34,118.39 76.53,117.90 C76.71,117.41 76.97,116.93 77.23,116.68 C77.50,116.42 77.85,116.26 78.12,116.40 C78.39,116.53 78.64,117.13 78.86,117.48 C79.07,117.84 79.20,118.19 79.43,118.53 C79.66,118.87 80.05,119.01 80.23,119.50 C80.42,119.98 80.57,120.83 80.54,121.45Z" fill="#d0d0d0" filter="url(#b2)"/>
<g filter="url(#b3)"><path d="M80.67,121.45 C80.64,122.12 80.36,122.79 80.19,123.37 C80.03,123.95 79.90,124.56 79.68,124.94 C79.47,125.33 79.16,125.46 78.90,125.68 C78.64,125.90 78.41,126.12 78.12,126.27 C77.83,126.42 77.46,126.73 77.17,126.58 C76.87,126.44 76.51,125.96 76.34,125.42 C76.17,124.87 76.17,123.95 76.13,123.29 C76.09,122.63 76.10,122.07 76.09,121.45 C76.08,120.83 76.02,120.19 76.08,119.57 C76.14,118.95 76.26,118.24 76.45,117.73 C76.64,117.22 76.93,116.81 77.20,116.53 C77.48,116.25 77.84,115.92 78.12,116.06 C78.40,116.19 78.66,116.95 78.88,117.35 C79.10,117.75 79.21,118.12 79.46,118.46 C79.71,118.79 80.18,118.86 80.38,119.36 C80.58,119.86 80.70,120.78 80.67,121.45Z" fill="none" stroke="#333" stroke-width="0.32"/><path d="M79.95,121.45 C79.91,121.99 79.87,122.53 79.76,122.97 C79.65,123.40 79.46,123.77 79.29,124.06 C79.12,124.36 78.92,124.45 78.73,124.73 C78.53,125.00 78.35,125.55 78.12,125.72 C77.88,125.88 77.52,126.00 77.32,125.73 C77.12,125.47 77.02,124.62 76.92,124.13 C76.81,123.64 76.76,123.23 76.67,122.79 C76.59,122.34 76.43,121.94 76.38,121.45 C76.34,120.96 76.33,120.37 76.39,119.86 C76.45,119.35 76.59,118.81 76.75,118.39 C76.91,117.97 77.13,117.45 77.36,117.36 C77.59,117.26 77.90,117.68 78.12,117.84 C78.34,118.01 78.47,118.25 78.69,118.35 C78.92,118.45 79.25,118.22 79.47,118.45 C79.68,118.68 79.91,119.22 79.99,119.73 C80.07,120.23 79.99,120.91 79.95,121.45Z" fill="none" stroke="#333" stroke-width="0.32"/><path d="M79.46,121.45 C79.45,121.83 79.38,122.23 79.30,122.54 C79.21,122.85 79.06,123.01 78.95,123.31 C78.84,123.61 78.79,124.08 78.66,124.34 C78.52,124.60 78.29,124.88 78.12,124.87 C77.94,124.85 77.74,124.51 77.60,124.25 C77.46,123.99 77.40,123.59 77.29,123.31 C77.18,123.02 77.04,122.84 76.95,122.53 C76.86,122.22 76.77,121.84 76.74,121.45 C76.72,121.07 76.74,120.63 76.79,120.23 C76.84,119.83 76.90,119.28 77.04,119.05 C77.18,118.82 77.45,118.87 77.63,118.84 C77.81,118.82 77.95,118.92 78.12,118.90 C78.28,118.89 78.44,118.72 78.62,118.76 C78.79,118.80 79.03,118.87 79.16,119.13 C79.29,119.38 79.33,119.89 79.38,120.28 C79.44,120.67 79.48,121.07 79.46,121.45Z" fill="none" stroke="#333" stroke-width="0.32"/><path d="M78.98,121.45 C78.96,121.68 78.86,121.86 78.82,122.10 C78.79,122.34 78.81,122.64 78.76,122.88 C78.71,123.12 78.61,123.44 78.51,123.54 C78.40,123.65 78.23,123.58 78.12,123.51 C78.00,123.44 77.91,123.24 77.81,123.12 C77.71,123.01 77.60,122.96 77.51,122.80 C77.43,122.65 77.36,122.42 77.31,122.20 C77.26,121.97 77.22,121.71 77.20,121.45 C77.19,121.19 77.16,120.85 77.21,120.61 C77.26,120.38 77.39,120.16 77.49,120.05 C77.60,119.95 77.74,120.05 77.84,119.96 C77.95,119.88 78.01,119.64 78.12,119.56 C78.23,119.48 78.38,119.40 78.49,119.47 C78.59,119.54 78.70,119.79 78.77,120.00 C78.85,120.20 78.90,120.46 78.93,120.70 C78.97,120.94 79.00,121.22 78.98,121.45Z" fill="none" stroke="#333" stroke-width="0.32"/><circle cx="78.46" cy="122.50" r="0.43" fill="#555"/><circle cx="79.78" cy="122.83" r="0.38" fill="#333"/><circle cx="78.58" cy="122.05" r="0.43" fill="#555"/><circle cx="80.14" cy="122.09" r="0.42" fill="#444"/><circle cx="79.85" cy="121.59" r="0.37" fill="#666"/><circle cx="76.70" cy="118.27" r="0.33" fill="#333"/><circle cx="79.54" cy="123.29" r="0.38" fill="#444"/><circle cx="76.98" cy="122.32" r="0.39" fill="#333"/><circle cx="79.49" cy="119.15" r="0.49" fill="#333"/><circle cx="76.95" cy="124.76" r="0.44" fill="#333"/></g>
<path d="M72.88,116.69 C72.83,116.96 72.76,117.24 72.58,117.45 C72.41,117.67 72.10,117.81 71.85,117.98 C71.60,118.14 71.38,118.30 71.09,118.44 C70.80,118.59 70.47,118.79 70.11,118.84 C69.75,118.90 69.25,118.90 68.95,118.76 C68.66,118.62 68.53,118.23 68.34,118.00 C68.15,117.78 67.95,117.62 67.81,117.40 C67.66,117.18 67.52,116.94 67.48,116.69 C67.44,116.45 67.49,116.17 67.59,115.92 C67.68,115.67 67.83,115.39 68.06,115.18 C68.29,114.97 68.63,114.72 68.97,114.67 C69.32,114.61 69.77,114.76 70.11,114.83 C70.45,114.91 70.66,115.04 71.00,115.10 C71.34,115.16 71.84,115.06 72.16,115.18 C72.47,115.31 72.75,115.60 72.87,115.85 C72.99,116.10 72.93,116.43 72.88,116.69Z" fill="#d0d0d0" filter="url(#b2)"/>
<g filter="url(#b3)"><path d="M72.98,116.69 C72.93,116.98 72.90,117.27 72.73,117.50 C72.55,117.72 72.23,117.90 71.96,118.06 C71.69,118.22 71.42,118.32 71.11,118.48 C70.80,118.64 70.49,118.94 70.11,119.02 C69.73,119.10 69.17,119.10 68.85,118.94 C68.53,118.79 68.37,118.37 68.19,118.11 C68.02,117.85 67.94,117.64 67.80,117.40 C67.67,117.16 67.45,116.95 67.38,116.69 C67.31,116.44 67.29,116.13 67.38,115.86 C67.47,115.59 67.66,115.28 67.92,115.07 C68.18,114.86 68.57,114.65 68.94,114.60 C69.30,114.55 69.76,114.70 70.11,114.77 C70.46,114.84 70.70,114.94 71.06,115.00 C71.42,115.06 71.91,114.98 72.24,115.12 C72.58,115.25 72.93,115.53 73.05,115.79 C73.17,116.06 73.04,116.41 72.98,116.69Z" fill="none" stroke="#333" stroke-width="0.32"/><path d="M72.18,116.69 C72.16,116.89 72.05,117.09 71.92,117.25 C71.78,117.40 71.55,117.48 71.39,117.64 C71.23,117.81 71.19,118.10 70.97,118.23 C70.76,118.37 70.38,118.49 70.11,118.46 C69.84,118.43 69.57,118.18 69.35,118.04 C69.14,117.91 68.99,117.79 68.80,117.66 C68.62,117.53 68.37,117.43 68.24,117.27 C68.11,117.11 68.08,116.89 68.05,116.69 C68.02,116.49 67.98,116.26 68.06,116.06 C68.13,115.87 68.30,115.64 68.52,115.52 C68.73,115.40 69.09,115.37 69.35,115.34 C69.62,115.32 69.85,115.38 70.11,115.37 C70.37,115.35 70.65,115.23 70.92,115.25 C71.18,115.28 71.53,115.36 71.72,115.50 C71.91,115.64 71.99,115.90 72.06,116.10 C72.14,116.29 72.21,116.50 72.18,116.69Z" fill="none" stroke="#333" stroke-width="0.32"/><path d="M71.37,116.69 C71.34,116.81 71.19,116.89 71.13,117.01 C71.08,117.12 71.13,117.27 71.05,117.39 C70.98,117.51 70.85,117.68 70.69,117.73 C70.53,117.78 70.28,117.71 70.11,117.67 C69.94,117.63 69.81,117.55 69.66,117.49 C69.52,117.44 69.37,117.41 69.25,117.33 C69.13,117.26 69.04,117.16 68.95,117.05 C68.86,116.94 68.75,116.82 68.71,116.69 C68.68,116.56 68.65,116.38 68.73,116.27 C68.82,116.16 69.06,116.09 69.22,116.03 C69.38,115.98 69.55,116.02 69.70,115.96 C69.85,115.91 69.95,115.75 70.11,115.71 C70.27,115.67 70.50,115.67 70.66,115.72 C70.82,115.76 70.95,115.89 71.06,115.99 C71.18,116.09 71.29,116.20 71.35,116.32 C71.40,116.43 71.41,116.58 71.37,116.69Z" fill="none" stroke="#333" stroke-width="0.32"/><circle cx="68.57" cy="116.77" r="0.46" fill="#555"/><circle cx="71.98" cy="117.67" r="0.50" fill="#444"/><circle cx="71.52" cy="115.45" r="0.32" fill="#555"/><circle cx="70.28" cy="115.33" r="0.44" fill="#555"/></g>
<ellipse cx="73.50" cy="111.03" rx="5.44" ry="5.57" fill="none" stroke="#666" stroke-width="0.4"/>
<rect x="50.50" y="100.50" width="34.60" height="33.40" stroke="#666" stroke-width="0.6" fill="none" />
<text x="84.50" y="107.50" font-size="3.7" font-weight="normal" text-anchor="end" fill="#333" >7.82</text>
<line x1="49.20" y1="104.67" x2="50.50" y2="104.67" stroke="#888" stroke-width="0.4" />
<rect x="46.70" y="103.67" width="1.4" height="2" fill="#d4d4d4"/>
<line x1="49.20" y1="113.03" x2="50.50" y2="113.03" stroke="#888" stroke-width="0.4" />
<rect x="46.70" y="112.03" width="1.4" height="2" fill="#d4d4d4"/>
<line x1="49.20" y1="121.38" x2="50.50" y2="121.38" stroke="#888" stroke-width="0.4" />
<rect x="46.70" y="120.38" width="1.4" height="2" fill="#d4d4d4"/>
<line x1="49.20" y1="129.72" x2="50.50" y2="129.72" stroke="#888" stroke-width="0.4" />
<rect x="46.70" y="128.72" width="1.4" height="2" fill="#d4d4d4"/>
<line x1="59.15" y1="133.90" x2="59.15" y2="135.10" stroke="#888" stroke-width="0.4" />
<rect x="57.95" y="135.90" width="2.4" height="1.3" fill="#d4d4d4"/>
<line x1="66.56" y1="133.90" x2="66.56" y2="135.10" stroke="#888" stroke-width="0.4" />
<rect x="65.36" y="135.90" width="2.4" height="1.3" fill="#d4d4d4"/>
<line x1="73.98" y1="133.90" x2="73.98" y2="135.10" stroke="#888" stroke-width="0.4" />
<rect x="72.78" y="135.90" width="2.4" height="1.3" fill="#d4d4d4"/>
<line x1="81.39" y1="133.90" x2="81.39" y2="135.10" stroke="#888" stroke-width="0.4" />
<rect x="80.19" y="135.90" width="2.4" height="1.3" fill="#d4d4d4"/>
<path d="M76.53,148.34 C76.48,148.66 76.33,148.99 76.13,149.25 C75.93,149.52 75.63,149.73 75.35,149.92 C75.06,150.11 74.77,150.24 74.43,150.41 C74.10,150.57 73.75,150.84 73.36,150.91 C72.96,150.99 72.39,151.01 72.05,150.85 C71.70,150.70 71.48,150.27 71.29,149.98 C71.11,149.69 71.10,149.41 70.95,149.13 C70.80,148.86 70.47,148.63 70.40,148.34 C70.34,148.05 70.42,147.71 70.54,147.41 C70.66,147.12 70.85,146.80 71.11,146.55 C71.37,146.31 71.74,146.02 72.11,145.95 C72.49,145.88 72.98,146.04 73.36,146.12 C73.73,146.20 73.99,146.35 74.35,146.44 C74.71,146.52 75.17,146.47 75.52,146.62 C75.87,146.77 76.28,147.04 76.44,147.32 C76.61,147.61 76.58,148.02 76.53,148.34Z" fill="#d0d0d0" filter="url(#b2)"/>
<g filter="url(#b3)"><path d="M76.59,148.34 C76.50,148.68 76.41,149.00 76.23,149.29 C76.05,149.57 75.80,149.86 75.50,150.04 C75.20,150.23 74.79,150.23 74.43,150.40 C74.08,150.58 73.77,150.96 73.36,151.08 C72.94,151.19 72.29,151.25 71.93,151.09 C71.56,150.92 71.34,150.41 71.15,150.09 C70.96,149.77 70.94,149.48 70.79,149.19 C70.63,148.89 70.30,148.65 70.23,148.34 C70.16,148.03 70.24,147.67 70.35,147.35 C70.47,147.03 70.67,146.69 70.94,146.42 C71.22,146.15 71.59,145.81 72.00,145.73 C72.40,145.65 72.96,145.83 73.36,145.94 C73.75,146.05 73.99,146.30 74.37,146.40 C74.74,146.51 75.21,146.41 75.61,146.55 C76.00,146.69 76.57,146.93 76.73,147.23 C76.90,147.53 76.67,148.00 76.59,148.34Z" fill="none" stroke="#333" stroke-width="0.32"/><path d="M75.66,148.34 C75.64,148.57 75.56,148.83 75.42,149.02 C75.27,149.21 74.97,149.29 74.78,149.47 C74.59,149.65 74.51,149.92 74.27,150.09 C74.03,150.26 73.66,150.48 73.36,150.47 C73.05,150.47 72.70,150.24 72.45,150.09 C72.20,149.93 72.06,149.70 71.87,149.52 C71.68,149.34 71.45,149.21 71.31,149.01 C71.17,148.81 71.06,148.57 71.03,148.34 C71.00,148.10 71.03,147.84 71.11,147.60 C71.20,147.36 71.32,147.06 71.55,146.90 C71.78,146.74 72.17,146.66 72.47,146.64 C72.78,146.63 73.06,146.84 73.36,146.84 C73.65,146.83 73.95,146.61 74.26,146.62 C74.56,146.62 74.99,146.71 75.20,146.87 C75.42,147.04 75.47,147.37 75.55,147.62 C75.63,147.86 75.68,148.11 75.66,148.34Z" fill="none" stroke="#333" stroke-width="0.32"/><path d="M74.80,148.34 C74.76,148.48 74.57,148.58 74.50,148.72 C74.44,148.85 74.47,149.02 74.39,149.16 C74.30,149.30 74.17,149.49 74.00,149.57 C73.82,149.64 73.55,149.63 73.36,149.59 C73.17,149.54 73.02,149.37 72.86,149.30 C72.69,149.22 72.50,149.22 72.36,149.13 C72.23,149.04 72.16,148.90 72.07,148.76 C71.98,148.63 71.86,148.49 71.83,148.34 C71.79,148.19 71.78,147.98 71.86,147.85 C71.95,147.71 72.17,147.60 72.34,147.53 C72.51,147.46 72.72,147.49 72.89,147.44 C73.05,147.38 73.17,147.25 73.36,147.20 C73.54,147.15 73.79,147.11 73.98,147.15 C74.16,147.19 74.34,147.33 74.47,147.45 C74.60,147.57 74.70,147.73 74.76,147.88 C74.81,148.03 74.84,148.20 74.80,148.34Z" fill="none" stroke="#333" stroke-width="0.32"/><circle cx="72.86" cy="148.29" r="0.44" fill="#777"/><circle cx="75.37" cy="149.30" r="0.40" fill="#777"/><circle cx="74.12" cy="150.12" r="0.33" fill="#666"/><circle cx="74.18" cy="150.08" r="0.41" fill="#333"/><circle cx="75.35" cy="148.06" r="0.48" fill="#444"/><circle cx="73.32" cy="149.17" r="0.49" fill="#555"/><circle cx="76.24" cy="147.99" r="0.47" fill="#444"/></g>
<path d="M70.80,158.46 C71.21,159.01 72.28,159.70 72.15,160.31 C72.02,160.92 70.98,161.67 70.01,162.12 C69.05,162.56 67.53,162.72 66.37,162.96 C65.21,163.19 64.16,163.42 63.05,163.51 C61.94,163.60 60.81,163.58 59.72,163.50 C58.63,163.41 57.52,163.27 56.51,163.00 C55.50,162.73 54.28,162.39 53.68,161.90 C53.08,161.40 52.72,160.63 52.93,160.03 C53.14,159.42 54.30,158.78 54.95,158.25 C55.59,157.71 56.15,157.33 56.79,156.82 C57.42,156.30 57.83,155.58 58.74,155.15 C59.65,154.72 61.03,154.39 62.24,154.25 C63.45,154.11 64.91,154.11 65.99,154.31 C67.07,154.50 68.10,154.96 68.72,155.42 C69.34,155.87 69.37,156.53 69.72,157.04 C70.07,157.55 70.40,157.92 70.80,158.46Z" fill="#d0d0d0" filter="url(#b2)"/>
<g filter="url(#b3)"><path d="M71.54,158.40 C71.96,158.99 73.01,159.74 72.83,160.39 C72.64,161.04 71.48,161.83 70.42,162.28 C69.37,162.73 67.74,162.86 66.51,163.11 C65.29,163.35 64.23,163.63 63.07,163.74 C61.91,163.85 60.65,163.87 59.55,163.74 C58.46,163.62 57.59,163.27 56.53,162.99 C55.46,162.71 53.87,162.54 53.15,162.05 C52.44,161.57 51.98,160.73 52.22,160.09 C52.47,159.45 53.96,158.79 54.63,158.21 C55.31,157.63 55.63,157.16 56.27,156.61 C56.90,156.05 57.48,155.29 58.47,154.87 C59.47,154.45 60.96,154.22 62.23,154.11 C63.50,154.00 64.94,154.00 66.07,154.19 C67.20,154.38 68.31,154.79 69.01,155.24 C69.72,155.68 69.88,156.34 70.30,156.87 C70.72,157.39 71.12,157.81 71.54,158.40Z" fill="none" stroke="#333" stroke-width="0.32"/><path d="M71.30,158.42 C71.63,158.91 71.57,159.67 71.10,160.18 C70.62,160.69 69.31,161.11 68.43,161.48 C67.55,161.85 66.73,162.16 65.83,162.41 C64.92,162.66 63.96,162.88 63.00,162.97 C62.05,163.07 61.12,163.00 60.08,162.98 C59.03,162.96 57.69,163.07 56.75,162.85 C55.82,162.63 54.65,162.17 54.47,161.66 C54.28,161.15 55.34,160.33 55.63,159.79 C55.92,159.25 56.05,158.90 56.23,158.40 C56.42,157.90 56.27,157.28 56.75,156.80 C57.23,156.32 58.20,155.87 59.12,155.54 C60.05,155.21 61.23,154.90 62.29,154.82 C63.35,154.74 64.64,154.81 65.48,155.05 C66.33,155.29 66.75,155.91 67.35,156.27 C67.96,156.63 68.46,156.87 69.11,157.22 C69.77,157.58 70.97,157.93 71.30,158.42Z" fill="none" stroke="#333" stroke-width="0.32"/><path d="M69.83,158.55 C69.82,158.98 69.19,159.50 68.75,159.90 C68.30,160.31 67.74,160.65 67.16,160.97 C66.58,161.29 65.96,161.63 65.26,161.82 C64.55,162.02 63.76,162.00 62.93,162.13 C62.11,162.27 61.16,162.63 60.30,162.64 C59.44,162.66 58.28,162.52 57.77,162.22 C57.26,161.91 57.40,161.23 57.27,160.81 C57.14,160.38 57.10,160.06 56.99,159.67 C56.88,159.28 56.49,158.86 56.60,158.45 C56.72,158.03 57.14,157.54 57.67,157.17 C58.19,156.79 58.97,156.42 59.76,156.19 C60.54,155.95 61.55,155.77 62.37,155.77 C63.20,155.77 64.03,156.03 64.69,156.21 C65.35,156.40 65.66,156.71 66.34,156.90 C67.02,157.08 68.19,157.05 68.77,157.33 C69.35,157.60 69.83,158.12 69.83,158.55Z" fill="none" stroke="#333" stroke-width="0.32"/><path d="M67.67,158.74 C67.60,159.08 67.57,159.43 67.29,159.73 C67.02,160.02 66.48,160.29 66.01,160.51 C65.55,160.74 65.04,160.85 64.52,161.07 C64.01,161.30 63.55,161.69 62.91,161.86 C62.27,162.03 61.27,162.19 60.70,162.07 C60.12,161.95 59.78,161.45 59.48,161.16 C59.18,160.86 59.16,160.58 58.89,160.32 C58.62,160.06 58.01,159.88 57.85,159.60 C57.69,159.31 57.74,158.93 57.91,158.60 C58.08,158.28 58.45,157.94 58.86,157.65 C59.27,157.35 59.77,156.94 60.37,156.82 C60.97,156.69 61.86,156.83 62.47,156.88 C63.09,156.93 63.46,157.11 64.06,157.14 C64.66,157.17 65.46,156.98 66.07,157.06 C66.68,157.15 67.45,157.37 67.72,157.65 C67.98,157.93 67.74,158.39 67.67,158.74Z" fill="none" stroke="#333" stroke-width="0.32"/><path d="M66.01,158.88 C65.98,159.10 65.91,159.35 65.70,159.54 C65.50,159.73 65.05,159.83 64.79,160.02 C64.53,160.21 64.46,160.48 64.13,160.67 C63.81,160.86 63.28,161.11 62.84,161.13 C62.41,161.16 61.91,160.94 61.54,160.83 C61.17,160.71 60.91,160.58 60.62,160.45 C60.34,160.31 60.05,160.19 59.84,160.03 C59.63,159.87 59.47,159.67 59.38,159.46 C59.29,159.25 59.21,159.00 59.29,158.77 C59.36,158.53 59.52,158.22 59.85,158.04 C60.18,157.87 60.81,157.78 61.26,157.73 C61.71,157.69 62.12,157.82 62.55,157.77 C62.98,157.73 63.40,157.50 63.83,157.48 C64.26,157.45 64.81,157.51 65.15,157.63 C65.49,157.75 65.74,157.99 65.88,158.20 C66.03,158.41 66.04,158.66 66.01,158.88Z" fill="none" stroke="#333" stroke-width="0.32"/><circle cx="65.32" cy="158.45" r="0.44" fill="#444"/><circle cx="63.69" cy="163.18" r="0.37" fill="#666"/><circle cx="61.05" cy="155.00" r="0.49" fill="#444"/><circle cx="65.22" cy="159.57" r="0.44" fill="#555"/><circle cx="65.72" cy="160.36" r="0.32" fill="#777"/><circle cx="56.84" cy="159.18" r="0.39" fill="#777"/><circle cx="63.69" cy="157.38" r="0.32" fill="#333"/><circle cx="62.99" cy="159.90" r="0.50" fill="#555"/><circle cx="68.85" cy="157.22" r="0.33" fill="#444"/><circle cx="59.96" cy="162.13" r="0.40" fill="#555"/><circle cx="67.44" cy="156.76" r="0.42" fill="#555"/><circle cx="65.48" cy="156.71" r="0.33" fill="#444"/><circle cx="55.97" cy="160.44" r="0.45" fill="#666"/><circle cx="61.78" cy="159.59" r="0.31" fill="#444"/><circle cx="56.46" cy="162.06" r="0.30" fill="#333"/><circle cx="55.04" cy="161.90" r="0.43" fill="#777"/><circle cx="60.01" cy="159.71" r="0.33" fill="#333"/><circle cx="66.79" cy="158.44" r="0.41" fill="#777"/><circle cx="61.22" cy="157.68" r="0.33" fill="#555"/><circle cx="66.71" cy="161.29" r="0.38" fill="#777"/><circle cx="57.53" cy="158.96" r="0.49" fill="#555"/><circle cx="55.81" cy="159.96" r="0.47" fill="#777"/><circle cx="64.47" cy="158.14" r="0.41" fill="#777"/><circle cx="69.07" cy="156.76" r="0.35" fill="#555"/><circle cx="60.47" cy="158.73" r="0.36" fill="#555"/><circle cx="68.55" cy="160.69" r="0.40" fill="#555"/><circle cx="68.49" cy="161.09" r="0.43" fill="#777"/><circle cx="59.73" cy="156.25" r="0.35" fill="#666"/><circle cx="56.68" cy="158.20" r="0.31" fill="#666"/><circle cx="60.14" cy="162.45" r="0.43" fill="#333"/><circle cx="66.29" cy="158.50" r="0.31" fill="#666"/><circle cx="62.51" cy="159.75" r="0.47" fill="#777"/><circle cx="63.55" cy="157.41" r="0.32" fill="#777"/><circle cx="61.97" cy="159.74" r="0.40" fill="#333"/><circle cx="58.91" cy="159.72" r="0.40" fill="#777"/><circle cx="68.50" cy="157.15" r="0.46" fill="#666"/><circle cx="71.06" cy="157.86" r="0.46" fill="#444"/><circle cx="60.47" cy="155.50" r="0.32" fill="#444"/><circle cx="55.66" cy="160.34" r="0.48" fill="#333"/><circle cx="68.31" cy="159.09" r="0.39" fill="#555"/><circle cx="58.19" cy="156.81" r="0.49" fill="#666"/><circle cx="61.81" cy="158.72" r="0.32" fill="#444"/><circle cx="70.79" cy="157.99" r="0.35" fill="#555"/><circle cx="56.64" cy="157.24" r="0.50" fill="#555"/><circle cx="61.09" cy="158.56" r="0.39" fill="#333"/><circle cx="58.84" cy="160.83" r="0.41" fill="#333"/><circle cx="68.77" cy="157.47" r="0.34" fill="#666"/><circle cx="62.41" cy="158.73" r="0.40" fill="#444"/><circle cx="65.87" cy="158.68" r="0.46" fill="#777"/><circle cx="60.49" cy="156.64" r="0.39" fill="#555"/></g>
<path d="M80.68,158.97 C80.62,159.69 80.44,160.23 80.36,160.98 C80.27,161.73 80.37,162.76 80.18,163.46 C80.00,164.17 79.63,164.98 79.27,165.23 C78.90,165.47 78.39,165.16 78.01,164.94 C77.64,164.72 77.34,164.24 77.02,163.91 C76.70,163.58 76.36,163.39 76.09,162.95 C75.81,162.50 75.57,161.90 75.37,161.24 C75.18,160.57 74.97,159.78 74.92,158.97 C74.86,158.17 74.85,157.11 75.04,156.43 C75.23,155.75 75.70,155.26 76.04,154.91 C76.39,154.56 76.76,154.66 77.09,154.35 C77.41,154.05 77.66,153.30 78.01,153.08 C78.37,152.85 78.84,152.77 79.21,153.00 C79.57,153.23 79.96,153.83 80.21,154.44 C80.45,155.05 80.61,155.92 80.69,156.68 C80.77,157.44 80.74,158.26 80.68,158.97Z" fill="#d0d0d0" filter="url(#b2)"/>
<g filter="url(#b3)"><path d="M80.80,158.97 C80.73,159.74 80.60,160.35 80.51,161.11 C80.41,161.87 80.40,162.75 80.22,163.54 C80.03,164.32 79.75,165.53 79.38,165.82 C79.02,166.12 78.41,165.57 78.01,165.30 C77.61,165.02 77.32,164.49 76.97,164.17 C76.62,163.84 76.18,163.82 75.90,163.34 C75.62,162.87 75.46,162.05 75.27,161.32 C75.08,160.60 74.84,159.82 74.77,158.97 C74.70,158.13 74.64,156.97 74.84,156.26 C75.04,155.56 75.61,155.14 75.97,154.76 C76.33,154.37 76.66,154.26 77.00,153.93 C77.34,153.59 77.63,152.98 78.01,152.73 C78.40,152.48 78.94,152.20 79.32,152.45 C79.70,152.70 80.05,153.54 80.31,154.22 C80.58,154.89 80.82,155.71 80.90,156.50 C80.98,157.30 80.87,158.21 80.80,158.97Z" fill="none" stroke="#333" stroke-width="0.32"/><path d="M80.06,158.97 C80.10,159.60 80.34,160.26 80.33,160.96 C80.33,161.66 80.26,162.67 80.04,163.16 C79.81,163.65 79.33,163.83 79.00,163.89 C78.66,163.94 78.32,163.57 78.01,163.48 C77.70,163.39 77.41,163.54 77.13,163.36 C76.86,163.17 76.61,162.78 76.36,162.38 C76.12,161.98 75.86,161.55 75.67,160.98 C75.48,160.41 75.20,159.63 75.21,158.97 C75.22,158.32 75.52,157.54 75.74,157.03 C75.96,156.52 76.29,156.32 76.52,155.90 C76.75,155.47 76.86,154.89 77.11,154.48 C77.36,154.06 77.70,153.47 78.01,153.40 C78.33,153.33 78.70,153.73 79.00,154.05 C79.30,154.36 79.62,154.75 79.80,155.28 C79.98,155.80 80.06,156.57 80.10,157.18 C80.15,157.80 80.02,158.35 80.06,158.97Z" fill="none" stroke="#333" stroke-width="0.32"/><path d="M79.73,158.97 C79.80,159.46 79.97,160.12 79.91,160.60 C79.86,161.08 79.62,161.59 79.41,161.87 C79.20,162.14 78.90,162.16 78.67,162.26 C78.44,162.35 78.23,162.45 78.01,162.46 C77.79,162.47 77.56,162.44 77.34,162.32 C77.12,162.20 76.89,162.00 76.68,161.72 C76.47,161.44 76.17,161.09 76.07,160.63 C75.97,160.18 76.00,159.45 76.09,158.97 C76.18,158.50 76.49,158.19 76.60,157.77 C76.72,157.35 76.67,156.84 76.78,156.44 C76.90,156.04 77.09,155.60 77.29,155.38 C77.50,155.15 77.77,155.10 78.01,155.10 C78.25,155.10 78.52,155.17 78.73,155.37 C78.95,155.57 79.18,155.90 79.31,156.29 C79.43,156.68 79.41,157.27 79.48,157.72 C79.55,158.16 79.66,158.49 79.73,158.97Z" fill="none" stroke="#333" stroke-width="0.32"/><path d="M79.35,158.97 C79.38,159.29 79.28,159.70 79.20,159.99 C79.12,160.28 78.97,160.51 78.85,160.70 C78.72,160.90 78.59,161.07 78.45,161.16 C78.31,161.24 78.16,161.18 78.01,161.20 C77.86,161.21 77.72,161.27 77.56,161.23 C77.40,161.20 77.16,161.20 77.03,161.00 C76.91,160.79 76.82,160.35 76.80,160.01 C76.79,159.67 76.90,159.29 76.94,158.97 C76.97,158.66 76.97,158.41 77.00,158.11 C77.03,157.80 77.03,157.38 77.12,157.13 C77.21,156.88 77.39,156.74 77.54,156.60 C77.68,156.45 77.86,156.25 78.01,156.26 C78.17,156.28 78.35,156.49 78.47,156.69 C78.59,156.88 78.66,157.21 78.75,157.44 C78.85,157.68 78.94,157.84 79.04,158.10 C79.14,158.35 79.32,158.66 79.35,158.97Z" fill="none" stroke="#333" stroke-width="0.32"/><circle cx="79.68" cy="161.07" r="0.31" fill="#444"/><circle cx="77.85" cy="159.03" r="0.45" fill="#333"/><circle cx="77.76" cy="154.71" r="0.49" fill="#444"/><circle cx="79.06" cy="156.06" r="0.47" fill="#777"/><circle cx="79.91" cy="157.01" r="0.36" fill="#555"/><circle cx="78.49" cy="164.32" r="0.42" fill="#777"/><circle cx="77.83" cy="153.53" r="0.35" fill="#444"/><circle cx="78.60" cy="154.41" r="0.34" fill="#666"/><circle cx="77.51" cy="157.28" r="0.36" fill="#666"/><circle cx="76.90" cy="156.71" r="0.42" fill="#555"/><circle cx="80.00" cy="161.55" r="0.39" fill="#777"/><circle cx="76.09" cy="162.89" r="0.48" fill="#666"/><circle cx="78.93" cy="159.94" r="0.44" fill="#444"/><circle cx="80.07" cy="157.59" r="0.39" fill="#666"/><circle cx="77.43" cy="157.23" r="0.41" fill="#333"/><circle cx="79.37" cy="158.62" r="0.30" fill="#666"/><circle cx="75.92" cy="161.49" r="0.32" fill="#555"/></g>
<path d="M73.94,154.30 C73.88,154.59 73.71,154.87 73.53,155.12 C73.36,155.36 73.15,155.60 72.89,155.78 C72.63,155.96 72.29,156.04 71.96,156.18 C71.63,156.33 71.31,156.58 70.92,156.65 C70.54,156.72 69.98,156.75 69.66,156.60 C69.34,156.45 69.18,156.01 69.00,155.75 C68.81,155.49 68.73,155.28 68.57,155.04 C68.41,154.79 68.10,154.56 68.05,154.30 C67.99,154.04 68.14,153.75 68.24,153.47 C68.35,153.19 68.44,152.85 68.68,152.62 C68.92,152.39 69.33,152.15 69.71,152.09 C70.08,152.04 70.56,152.22 70.92,152.30 C71.29,152.38 71.52,152.51 71.88,152.57 C72.23,152.64 72.73,152.56 73.06,152.70 C73.39,152.83 73.73,153.12 73.87,153.38 C74.02,153.65 74.00,154.01 73.94,154.30Z" fill="#d0d0d0" filter="url(#b2)"/>
<g filter="url(#b3)"><path d="M74.07,154.30 C74.00,154.61 73.87,154.91 73.67,155.16 C73.47,155.40 73.17,155.61 72.88,155.78 C72.60,155.95 72.28,156.00 71.96,156.18 C71.63,156.35 71.32,156.73 70.92,156.82 C70.53,156.92 69.92,156.91 69.57,156.75 C69.22,156.60 69.01,156.16 68.82,155.88 C68.63,155.60 68.58,155.34 68.44,155.08 C68.31,154.81 68.09,154.58 68.01,154.30 C67.94,154.02 67.90,153.68 68.00,153.39 C68.10,153.11 68.35,152.82 68.62,152.57 C68.89,152.33 69.24,152.00 69.62,151.94 C70.00,151.88 70.54,152.13 70.92,152.22 C71.31,152.31 71.56,152.39 71.94,152.45 C72.33,152.51 72.86,152.44 73.21,152.58 C73.57,152.73 73.94,153.03 74.09,153.32 C74.23,153.61 74.14,154.00 74.07,154.30Z" fill="none" stroke="#333" stroke-width="0.32"/><path d="M73.15,154.30 C73.13,154.52 73.03,154.74 72.90,154.92 C72.77,155.10 72.54,155.21 72.36,155.38 C72.18,155.56 72.07,155.81 71.83,155.95 C71.59,156.08 71.21,156.24 70.92,156.21 C70.64,156.19 70.33,155.95 70.10,155.80 C69.87,155.66 69.72,155.50 69.53,155.35 C69.34,155.20 69.08,155.10 68.94,154.92 C68.80,154.75 68.73,154.52 68.70,154.30 C68.67,154.09 68.70,153.86 68.79,153.64 C68.87,153.42 68.96,153.13 69.18,153.00 C69.41,152.86 69.83,152.85 70.12,152.84 C70.41,152.83 70.65,152.95 70.92,152.94 C71.20,152.93 71.47,152.78 71.76,152.78 C72.05,152.79 72.47,152.84 72.69,152.98 C72.90,153.12 72.95,153.43 73.03,153.65 C73.11,153.87 73.17,154.09 73.15,154.30Z" fill="none" stroke="#333" stroke-width="0.32"/><path d="M72.25,154.30 C72.21,154.43 72.08,154.52 72.03,154.65 C71.98,154.78 72.02,154.94 71.94,155.07 C71.86,155.20 71.71,155.37 71.54,155.42 C71.37,155.47 71.11,155.43 70.92,155.39 C70.74,155.35 70.60,155.25 70.44,155.18 C70.28,155.12 70.11,155.09 69.98,155.01 C69.85,154.93 69.75,154.81 69.66,154.70 C69.57,154.58 69.50,154.45 69.46,154.30 C69.42,154.16 69.35,153.96 69.43,153.84 C69.51,153.72 69.76,153.62 69.94,153.56 C70.11,153.50 70.30,153.52 70.46,153.47 C70.63,153.42 70.75,153.31 70.92,153.27 C71.10,153.23 71.34,153.20 71.51,153.24 C71.68,153.29 71.82,153.43 71.95,153.54 C72.07,153.64 72.23,153.75 72.28,153.88 C72.33,154.01 72.29,154.18 72.25,154.30Z" fill="none" stroke="#333" stroke-width="0.32"/><circle cx="70.77" cy="154.17" r="0.35" fill="#444"/><circle cx="68.67" cy="154.42" r="0.43" fill="#333"/><circle cx="70.58" cy="155.28" r="0.44" fill="#777"/><circle cx="70.50" cy="153.33" r="0.47" fill="#444"/><circle cx="70.85" cy="154.13" r="0.36" fill="#777"/></g>
<ellipse cx="73.36" cy="147.64" rx="6.24" ry="6.36" fill="none" stroke="#666" stroke-width="0.4"/>
<rect x="50.40" y="138.40" width="34.70" height="32.90" stroke="#666" stroke-width="0.6" fill="none" />
<text x="84.50" y="145.40" font-size="3.7" font-weight="normal" text-anchor="end" fill="#333" >11</text>
<line x1="49.10" y1="142.51" x2="50.40" y2="142.51" stroke="#888" stroke-width="0.4" />
<rect x="46.60" y="141.51" width="1.4" height="2" fill="#d4d4d4"/>
<line x1="49.10" y1="150.74" x2="50.40" y2="150.74" stroke="#888" stroke-width="0.4" />
<rect x="46.60" y="149.74" width="1.4" height="2" fill="#d4d4d4"/>
<line x1="49.10" y1="158.96" x2="50.40" y2="158.96" stroke="#888" stroke-width="0.4" />
<rect x="46.60" y="157.96" width="1.4" height="2" fill="#d4d4d4"/>
<line x1="49.10" y1="167.19" x2="50.40" y2="167.19" stroke="#888" stroke-width="0.4" />
<rect x="46.60" y="166.19" width="1.4" height="2" fill="#d4d4d4"/>
<line x1="59.07" y1="171.30" x2="59.07" y2="172.50" stroke="#888" stroke-width="0.4" />
<rect x="57.87" y="173.30" width="2.4" height="1.3" fill="#d4d4d4"/>
<line x1="66.51" y1="171.30" x2="66.51" y2="172.50" stroke="#888" stroke-width="0.4" />
<rect x="65.31" y="173.30" width="2.4" height="1.3" fill="#d4d4d4"/>
<line x1="73.95" y1="171.30" x2="73.95" y2="172.50" stroke="#888" stroke-width="0.4" />
<rect x="72.75" y="173.30" width="2.4" height="1.3" fill="#d4d4d4"/>
<line x1="81.38" y1="171.30" x2="81.38" y2="172.50" stroke="#888" stroke-width="0.4" />
<rect x="80.18" y="173.30" width="2.4" height="1.3" fill="#d4d4d4"/>
<path d="M78.09,185.44 C78.31,186.00 78.44,186.62 78.41,187.20 C78.37,187.79 78.04,188.35 77.87,188.96 C77.71,189.56 77.71,190.21 77.41,190.84 C77.11,191.48 76.69,192.41 76.07,192.78 C75.46,193.15 74.44,193.10 73.74,193.05 C73.03,193.00 72.47,192.63 71.85,192.47 C71.23,192.31 70.52,192.37 70.01,192.10 C69.49,191.83 69.09,191.32 68.75,190.83 C68.42,190.34 68.13,189.78 67.98,189.17 C67.83,188.55 67.62,187.75 67.88,187.15 C68.13,186.54 68.91,185.92 69.51,185.53 C70.10,185.13 70.84,185.10 71.44,184.75 C72.04,184.40 72.44,183.75 73.08,183.45 C73.72,183.14 74.61,182.85 75.28,182.92 C75.94,182.99 76.61,183.44 77.08,183.86 C77.55,184.28 77.87,184.88 78.09,185.44Z" fill="#d0d0d0" filter="url(#b2)"/>
<g filter="url(#b3)"><path d="M78.31,185.31 C78.56,185.89 78.77,186.53 78.72,187.14 C78.67,187.76 78.20,188.35 78.01,188.98 C77.81,189.61 77.85,190.27 77.55,190.94 C77.26,191.62 76.86,192.66 76.23,193.04 C75.59,193.42 74.49,193.31 73.75,193.24 C73.01,193.18 72.43,192.82 71.78,192.66 C71.14,192.49 70.44,192.52 69.87,192.25 C69.30,191.99 68.76,191.55 68.37,191.05 C67.98,190.55 67.70,189.91 67.54,189.25 C67.39,188.59 67.12,187.69 67.44,187.07 C67.77,186.44 68.82,185.91 69.48,185.51 C70.14,185.11 70.80,185.06 71.40,184.68 C71.99,184.30 72.39,183.58 73.06,183.22 C73.73,182.85 74.73,182.42 75.43,182.50 C76.12,182.58 76.75,183.22 77.23,183.69 C77.71,184.16 78.06,184.74 78.31,185.31Z" fill="none" stroke="#333" stroke-width="0.32"/><path d="M77.42,185.83 C77.58,186.29 77.33,186.88 77.39,187.40 C77.46,187.91 77.80,188.37 77.80,188.94 C77.81,189.52 77.78,190.35 77.41,190.85 C77.04,191.34 76.21,191.74 75.58,191.92 C74.96,192.10 74.26,191.90 73.66,191.93 C73.06,191.96 72.52,192.16 71.99,192.09 C71.46,192.03 70.95,191.80 70.48,191.55 C70.01,191.30 69.57,190.99 69.18,190.59 C68.79,190.19 68.16,189.67 68.14,189.14 C68.13,188.60 68.70,187.86 69.09,187.37 C69.47,186.87 70.04,186.57 70.44,186.15 C70.84,185.74 71.06,185.27 71.50,184.86 C71.94,184.44 72.51,183.85 73.09,183.67 C73.67,183.49 74.41,183.61 74.97,183.77 C75.53,183.92 76.04,184.26 76.44,184.60 C76.85,184.95 77.26,185.36 77.42,185.83Z" fill="none" stroke="#333" stroke-width="0.32"/><path d="M76.38,186.42 C76.56,186.79 76.74,187.08 76.91,187.49 C77.07,187.89 77.45,188.42 77.36,188.86 C77.28,189.31 76.81,189.85 76.40,190.17 C75.99,190.48 75.37,190.58 74.91,190.76 C74.44,190.94 74.05,191.14 73.61,191.23 C73.17,191.33 72.71,191.36 72.26,191.33 C71.82,191.29 71.38,191.18 70.95,191.01 C70.51,190.83 69.92,190.65 69.67,190.30 C69.43,189.95 69.33,189.34 69.46,188.89 C69.59,188.44 70.23,188.03 70.45,187.61 C70.68,187.20 70.63,186.84 70.82,186.41 C71.01,185.98 71.21,185.35 71.60,185.03 C71.99,184.71 72.64,184.57 73.15,184.49 C73.66,184.42 74.23,184.44 74.68,184.58 C75.13,184.71 75.55,185.01 75.83,185.32 C76.12,185.62 76.21,186.06 76.38,186.42Z" fill="none" stroke="#333" stroke-width="0.32"/><path d="M75.77,186.78 C76.02,187.00 76.45,187.23 76.55,187.55 C76.66,187.87 76.60,188.37 76.41,188.69 C76.22,189.02 75.72,189.26 75.41,189.50 C75.10,189.74 74.86,189.97 74.55,190.14 C74.25,190.32 73.91,190.46 73.57,190.55 C73.22,190.65 72.88,190.67 72.49,190.69 C72.10,190.71 71.54,190.83 71.23,190.68 C70.91,190.52 70.65,190.11 70.59,189.77 C70.53,189.43 70.80,188.97 70.87,188.62 C70.94,188.28 70.97,188.04 71.03,187.72 C71.08,187.39 71.01,186.97 71.19,186.66 C71.37,186.35 71.74,186.07 72.08,185.86 C72.42,185.66 72.84,185.47 73.21,185.42 C73.58,185.38 74.01,185.47 74.31,185.61 C74.62,185.74 74.79,186.05 75.03,186.25 C75.28,186.44 75.51,186.56 75.77,186.78Z" fill="none" stroke="#333" stroke-width="0.32"/><path d="M75.32,187.04 C75.49,187.19 75.57,187.50 75.56,187.74 C75.55,187.98 75.37,188.26 75.24,188.48 C75.11,188.70 74.96,188.90 74.78,189.08 C74.61,189.25 74.41,189.40 74.20,189.53 C73.99,189.65 73.77,189.71 73.52,189.81 C73.26,189.92 72.93,190.16 72.68,190.15 C72.43,190.15 72.14,189.97 71.99,189.79 C71.85,189.60 71.87,189.28 71.82,189.06 C71.78,188.84 71.77,188.67 71.72,188.46 C71.67,188.25 71.49,188.03 71.51,187.81 C71.53,187.58 71.69,187.31 71.85,187.10 C72.01,186.89 72.23,186.66 72.47,186.54 C72.71,186.41 73.03,186.33 73.28,186.35 C73.52,186.36 73.73,186.55 73.95,186.63 C74.16,186.71 74.31,186.75 74.54,186.82 C74.77,186.89 75.15,186.89 75.32,187.04Z" fill="none" stroke="#333" stroke-width="0.32"/><circle cx="73.16" cy="190.81" r="0.36" fill="#777"/><circle cx="74.22" cy="185.11" r="0.41" fill="#333"/><circle cx="78.01" cy="188.63" r="0.44" fill="#666"/><circle cx="72.10" cy="185.86" r="0.42" fill="#666"/><circle cx="72.71" cy="188.34" r="0.31" fill="#444"/><circle cx="72.49" cy="186.70" r="0.34" fill="#666"/><circle cx="70.98" cy="190.68" r="0.50" fill="#555"/><circle cx="75.58" cy="185.09" r="0.34" fill="#333"/><circle cx="71.86" cy="187.53" r="0.35" fill="#333"/><circle cx="73.51" cy="189.56" r="0.40" fill="#777"/><circle cx="74.73" cy="187.14" r="0.46" fill="#444"/><circle cx="70.89" cy="185.26" r="0.37" fill="#333"/><circle cx="71.04" cy="185.34" r="0.43" fill="#444"/><circle cx="71.01" cy="184.63" r="0.46" fill="#555"/><circle cx="75.43" cy="184.46" r="0.43" fill="#555"/><circle cx="68.56" cy="187.57" r="0.47" fill="#333"/><circle cx="73.95" cy="192.42" r="0.38" fill="#555"/><circle cx="70.87" cy="187.30" r="0.35" fill="#333"/><circle cx="74.74" cy="192.32" r="0.31" fill="#333"/><circle cx="74.85" cy="189.11" r="0.49" fill="#555"/><circle cx="72.41" cy="187.68" r="0.49" fill="#666"/><circle cx="73.40" cy="188.30" r="0.40" fill="#666"/><circle cx="72.13" cy="191.16" r="0.32" fill="#333"/><circle cx="72.54" cy="191.56" r="0.37" fill="#777"/><circle cx="76.64" cy="189.25" r="0.34" fill="#777"/></g>
<path d="M68.13,198.59 C68.05,199.04 67.83,199.52 67.39,199.90 C66.94,200.29 66.09,200.56 65.46,200.91 C64.83,201.27 64.40,201.70 63.61,202.03 C62.82,202.36 61.70,202.82 60.71,202.89 C59.72,202.95 58.47,202.67 57.67,202.42 C56.87,202.16 56.57,201.65 55.91,201.36 C55.26,201.06 54.20,200.96 53.73,200.63 C53.25,200.30 53.15,199.82 53.06,199.38 C52.97,198.95 52.95,198.48 53.18,198.02 C53.40,197.56 53.70,196.96 54.41,196.62 C55.12,196.28 56.44,196.07 57.43,195.98 C58.42,195.88 59.39,196.10 60.36,196.05 C61.32,196.00 62.23,195.70 63.24,195.69 C64.25,195.67 65.63,195.70 66.40,195.96 C67.17,196.21 67.60,196.77 67.89,197.21 C68.17,197.65 68.22,198.14 68.13,198.59Z" fill="#d0d0d0" filter="url(#b2)"/>
<g filter="url(#b3)"><path d="M68.32,198.58 C68.25,199.05 68.20,199.56 67.73,199.95 C67.27,200.34 66.18,200.57 65.52,200.94 C64.85,201.31 64.55,201.81 63.76,202.17 C62.96,202.53 61.74,203.05 60.72,203.10 C59.70,203.15 58.50,202.72 57.63,202.46 C56.76,202.21 56.18,201.86 55.51,201.56 C54.84,201.26 54.08,201.02 53.60,200.66 C53.13,200.30 52.81,199.85 52.68,199.40 C52.56,198.95 52.64,198.47 52.85,197.97 C53.05,197.48 53.18,196.78 53.93,196.43 C54.67,196.08 56.25,195.96 57.32,195.87 C58.39,195.78 59.36,195.93 60.35,195.90 C61.34,195.86 62.23,195.66 63.26,195.66 C64.30,195.66 65.75,195.62 66.56,195.87 C67.37,196.12 67.83,196.70 68.12,197.15 C68.41,197.60 68.38,198.11 68.32,198.58Z" fill="none" stroke="#333" stroke-width="0.32"/><path d="M66.58,198.67 C66.45,199.02 65.84,199.32 65.58,199.66 C65.31,200.01 65.32,200.35 64.98,200.73 C64.64,201.11 64.24,201.74 63.53,201.94 C62.81,202.15 61.51,202.06 60.67,201.97 C59.82,201.89 59.19,201.59 58.47,201.45 C57.76,201.31 56.97,201.30 56.37,201.12 C55.76,200.94 55.22,200.66 54.83,200.36 C54.44,200.06 54.22,199.71 54.04,199.33 C53.86,198.95 53.47,198.46 53.77,198.09 C54.06,197.73 55.04,197.36 55.81,197.16 C56.57,196.96 57.60,197.03 58.36,196.88 C59.12,196.73 59.60,196.43 60.37,196.28 C61.14,196.13 62.17,195.95 62.98,196.00 C63.79,196.05 64.66,196.30 65.22,196.56 C65.79,196.83 66.15,197.22 66.38,197.57 C66.60,197.93 66.71,198.32 66.58,198.67Z" fill="none" stroke="#333" stroke-width="0.32"/><path d="M64.61,198.78 C64.57,199.04 64.61,199.24 64.59,199.53 C64.58,199.83 64.86,200.30 64.53,200.55 C64.20,200.81 63.27,200.98 62.61,201.05 C61.96,201.12 61.23,200.98 60.61,200.96 C59.99,200.94 59.46,200.98 58.90,200.93 C58.34,200.88 57.72,200.81 57.27,200.66 C56.82,200.51 56.55,200.26 56.20,200.03 C55.84,199.80 55.22,199.55 55.15,199.27 C55.08,198.99 55.36,198.60 55.77,198.36 C56.18,198.12 57.09,198.04 57.59,197.85 C58.08,197.67 58.26,197.45 58.72,197.24 C59.19,197.04 59.79,196.71 60.39,196.64 C60.98,196.57 61.72,196.72 62.30,196.82 C62.89,196.93 63.48,197.06 63.89,197.25 C64.31,197.44 64.66,197.70 64.78,197.96 C64.90,198.21 64.64,198.51 64.61,198.78Z" fill="none" stroke="#333" stroke-width="0.32"/><path d="M63.42,198.84 C63.54,199.02 63.91,199.24 63.85,199.43 C63.79,199.62 63.41,199.85 63.06,199.98 C62.71,200.11 62.16,200.15 61.75,200.21 C61.34,200.26 60.96,200.28 60.58,200.29 C60.19,200.30 59.82,200.31 59.44,200.28 C59.07,200.25 58.70,200.19 58.33,200.11 C57.96,200.03 57.42,199.94 57.23,199.78 C57.03,199.62 57.04,199.36 57.15,199.17 C57.25,198.98 57.64,198.80 57.86,198.64 C58.07,198.47 58.23,198.35 58.45,198.19 C58.67,198.03 58.82,197.78 59.15,197.66 C59.48,197.54 60.00,197.51 60.43,197.49 C60.86,197.47 61.32,197.48 61.71,197.53 C62.10,197.59 62.55,197.68 62.77,197.82 C63.00,197.96 62.98,198.20 63.09,198.37 C63.19,198.54 63.29,198.66 63.42,198.84Z" fill="none" stroke="#333" stroke-width="0.32"/><circle cx="54.21" cy="197.84" r="0.47" fill="#444"/><circle cx="56.23" cy="196.44" r="0.35" fill="#444"/><circle cx="59.10" cy="199.08" r="0.39" fill="#333"/><circle cx="58.24" cy="198.56" r="0.38" fill="#777"/><circle cx="60.00" cy="201.60" r="0.35" fill="#333"/><circle cx="56.69" cy="201.18" r="0.41" fill="#444"/><circle cx="60.29" cy="200.75" r="0.37" fill="#777"/><circle cx="60.57" cy="198.99" r="0.43" fill="#333"/><circle cx="57.59" cy="197.57" r="0.43" fill="#777"/><circle cx="66.10" cy="199.78" r="0.46" fill="#444"/><circle cx="62.55" cy="200.69" r="0.49" fill="#666"/><circle cx="57.54" cy="199.88" r="0.35" fill="#666"/><circle cx="59.30" cy="196.20" r="0.44" fill="#777"/><circle cx="64.34" cy="201.16" r="0.33" fill="#444"/><circle cx="55.67" cy="197.70" r="0.38" fill="#666"/><circle cx="63.13" cy="201.38" r="0.43" fill="#777"/><circle cx="57.07" cy="201.14" r="0.32" fill="#555"/><circle cx="64.85" cy="199.21" r="0.44" fill="#555"/><circle cx="53.93" cy="198.42" r="0.49" fill="#555"/><circle cx="65.82" cy="199.61" r="0.35" fill="#666"/><circle cx="62.61" cy="199.06" r="0.33" fill="#333"/><circle cx="59.70" cy="199.57" r="0.48" fill="#555"/><circle cx="56.67" cy="201.02" r="0.48" fill="#555"/><circle cx="55.55" cy="198.46" r="0.44" fill="#333"/><circle cx="63.64" cy="198.60" r="0.43" fill="#555"/><circle cx="60.20" cy="199.03" r="0.47" fill="#666"/></g>
<path d="M79.12,198.70 C79.08,199.43 78.96,200.16 78.84,200.76 C78.71,201.35 78.52,201.72 78.36,202.25 C78.21,202.79 78.10,203.47 77.90,203.96 C77.70,204.45 77.42,205.17 77.17,205.19 C76.92,205.22 76.61,204.63 76.41,204.14 C76.22,203.64 76.15,202.78 75.99,202.22 C75.83,201.67 75.59,201.39 75.46,200.81 C75.34,200.22 75.25,199.42 75.24,198.70 C75.22,197.98 75.30,197.23 75.38,196.48 C75.45,195.74 75.49,194.73 75.67,194.23 C75.85,193.72 76.19,193.50 76.44,193.45 C76.69,193.40 76.93,193.89 77.17,193.91 C77.41,193.92 77.64,193.48 77.89,193.53 C78.14,193.58 78.48,193.74 78.67,194.21 C78.87,194.68 78.99,195.60 79.07,196.35 C79.14,197.10 79.16,197.96 79.12,198.70Z" fill="#d0d0d0" filter="url(#b2)"/>
<g filter="url(#b3)"><path d="M79.19,198.70 C79.17,199.47 79.11,200.33 78.98,200.93 C78.85,201.54 78.57,201.81 78.39,202.34 C78.21,202.87 78.12,203.53 77.92,204.10 C77.72,204.66 77.43,205.65 77.17,205.72 C76.91,205.78 76.58,205.01 76.37,204.48 C76.15,203.95 76.04,203.14 75.88,202.55 C75.72,201.95 75.50,201.54 75.38,200.90 C75.27,200.26 75.20,199.46 75.17,198.70 C75.15,197.93 75.16,197.07 75.23,196.30 C75.31,195.53 75.42,194.58 75.62,194.07 C75.82,193.57 76.15,193.29 76.41,193.24 C76.67,193.20 76.92,193.79 77.17,193.81 C77.42,193.83 77.65,193.34 77.91,193.37 C78.17,193.41 78.53,193.54 78.73,194.03 C78.94,194.51 79.05,195.51 79.12,196.28 C79.20,197.06 79.22,197.92 79.19,198.70Z" fill="none" stroke="#333" stroke-width="0.32"/><path d="M78.77,198.70 C78.74,199.27 78.57,199.80 78.48,200.32 C78.39,200.85 78.33,201.28 78.22,201.85 C78.12,202.41 78.04,203.38 77.86,203.69 C77.69,204.01 77.38,203.92 77.17,203.74 C76.96,203.56 76.80,202.94 76.63,202.61 C76.45,202.28 76.30,202.11 76.14,201.76 C75.99,201.41 75.80,201.03 75.69,200.52 C75.59,200.01 75.54,199.34 75.51,198.70 C75.48,198.05 75.42,197.21 75.51,196.64 C75.59,196.07 75.82,195.53 76.02,195.26 C76.21,194.98 76.46,195.15 76.66,195.00 C76.85,194.86 76.97,194.59 77.17,194.38 C77.37,194.17 77.65,193.64 77.85,193.76 C78.05,193.89 78.24,194.61 78.37,195.13 C78.50,195.64 78.57,196.28 78.64,196.88 C78.71,197.47 78.79,198.12 78.77,198.70Z" fill="none" stroke="#333" stroke-width="0.32"/><path d="M78.23,198.70 C78.21,199.14 78.21,199.49 78.18,199.95 C78.16,200.42 78.19,201.09 78.11,201.49 C78.02,201.89 77.83,202.24 77.68,202.34 C77.52,202.44 77.32,202.22 77.17,202.11 C77.02,202.01 76.88,201.88 76.75,201.71 C76.62,201.54 76.48,201.37 76.36,201.10 C76.25,200.83 76.13,200.49 76.04,200.09 C75.95,199.69 75.83,199.18 75.81,198.70 C75.80,198.22 75.86,197.58 75.96,197.21 C76.07,196.84 76.28,196.69 76.42,196.46 C76.55,196.22 76.64,196.07 76.77,195.81 C76.89,195.55 77.02,195.00 77.17,194.90 C77.32,194.80 77.51,195.00 77.65,195.20 C77.80,195.40 77.94,195.74 78.04,196.09 C78.15,196.44 78.26,196.88 78.29,197.31 C78.32,197.75 78.25,198.26 78.23,198.70Z" fill="none" stroke="#333" stroke-width="0.32"/><path d="M77.89,198.70 C77.92,198.99 77.99,199.38 77.97,199.69 C77.95,199.99 77.87,200.35 77.78,200.53 C77.70,200.72 77.56,200.73 77.46,200.78 C77.36,200.83 77.26,200.86 77.17,200.84 C77.07,200.83 76.98,200.79 76.89,200.70 C76.80,200.61 76.72,200.47 76.63,200.31 C76.54,200.14 76.40,199.99 76.34,199.72 C76.28,199.45 76.25,199.00 76.28,198.70 C76.30,198.39 76.44,198.12 76.51,197.88 C76.57,197.64 76.63,197.51 76.69,197.27 C76.75,197.02 76.77,196.59 76.85,196.41 C76.93,196.22 77.06,196.18 77.17,196.18 C77.28,196.18 77.39,196.27 77.49,196.41 C77.58,196.54 77.68,196.76 77.73,197.01 C77.79,197.26 77.78,197.63 77.80,197.91 C77.83,198.20 77.86,198.40 77.89,198.70Z" fill="none" stroke="#333" stroke-width="0.32"/><circle cx="75.44" cy="198.14" r="0.45" fill="#777"/><circle cx="77.22" cy="196.04" r="0.47" fill="#666"/><circle cx="77.79" cy="197.93" r="0.32" fill="#333"/><circle cx="77.62" cy="199.63" r="0.40" fill="#666"/><circle cx="76.59" cy="196.48" r="0.32" fill="#555"/><circle cx="77.38" cy="202.66" r="0.33" fill="#444"/><circle cx="76.78" cy="194.90" r="0.50" fill="#777"/><circle cx="77.95" cy="194.45" r="0.38" fill="#666"/><circle cx="76.60" cy="196.40" r="0.46" fill="#666"/><circle cx="77.69" cy="200.21" r="0.37" fill="#666"/></g>
<path d="M70.72,188.97 C70.91,189.09 71.25,189.03 71.40,189.21 C71.55,189.40 71.75,189.70 71.64,190.07 C71.52,190.45 71.03,191.05 70.72,191.47 C70.41,191.89 70.09,192.24 69.77,192.60 C69.45,192.95 69.13,193.30 68.80,193.58 C68.47,193.86 68.12,194.08 67.78,194.28 C67.43,194.48 67.07,194.68 66.73,194.78 C66.39,194.89 65.89,195.07 65.73,194.91 C65.58,194.75 65.68,194.22 65.78,193.84 C65.87,193.47 66.17,193.02 66.29,192.65 C66.40,192.29 66.29,192.04 66.44,191.66 C66.58,191.29 66.85,190.78 67.15,190.40 C67.45,190.02 67.88,189.66 68.26,189.36 C68.63,189.06 69.05,188.72 69.38,188.59 C69.71,188.45 70.03,188.47 70.25,188.54 C70.47,188.60 70.52,188.86 70.72,188.97Z" fill="#d0d0d0" filter="url(#b2)"/>
<g filter="url(#b3)"><path d="M70.69,189.00 C70.90,189.11 71.30,188.98 71.49,189.15 C71.67,189.31 71.94,189.60 71.82,189.98 C71.71,190.37 71.15,191.02 70.82,191.46 C70.48,191.91 70.17,192.29 69.84,192.66 C69.51,193.02 69.17,193.38 68.82,193.68 C68.46,193.97 68.10,194.21 67.73,194.43 C67.37,194.64 66.97,194.87 66.62,194.97 C66.27,195.08 65.78,195.22 65.63,195.04 C65.48,194.86 65.62,194.28 65.72,193.89 C65.82,193.50 66.12,193.06 66.22,192.69 C66.32,192.32 66.15,192.06 66.29,191.67 C66.44,191.28 66.76,190.75 67.08,190.34 C67.40,189.93 67.84,189.51 68.23,189.18 C68.63,188.86 69.10,188.51 69.44,188.40 C69.78,188.28 70.06,188.40 70.27,188.50 C70.48,188.60 70.49,188.89 70.69,189.00Z" fill="none" stroke="#333" stroke-width="0.32"/><path d="M70.36,189.39 C70.57,189.41 70.90,189.40 70.94,189.59 C70.99,189.78 70.78,190.24 70.64,190.55 C70.50,190.87 70.31,191.19 70.12,191.49 C69.93,191.80 69.73,192.11 69.50,192.37 C69.27,192.63 69.00,192.82 68.74,193.06 C68.47,193.30 68.20,193.60 67.91,193.81 C67.62,194.02 67.19,194.34 66.98,194.34 C66.77,194.34 66.68,194.04 66.65,193.82 C66.62,193.60 66.80,193.22 66.79,193.00 C66.79,192.78 66.61,192.73 66.61,192.50 C66.61,192.27 66.66,191.95 66.80,191.65 C66.94,191.34 67.20,190.95 67.45,190.65 C67.70,190.35 68.03,190.04 68.32,189.83 C68.60,189.63 68.92,189.45 69.15,189.39 C69.39,189.34 69.51,189.49 69.72,189.49 C69.92,189.49 70.16,189.38 70.36,189.39Z" fill="none" stroke="#333" stroke-width="0.32"/><path d="M69.89,189.95 C70.00,190.00 69.97,190.24 69.95,190.41 C69.94,190.57 69.87,190.77 69.80,190.96 C69.73,191.14 69.62,191.34 69.51,191.52 C69.40,191.71 69.27,191.88 69.13,192.06 C68.99,192.24 68.84,192.40 68.67,192.58 C68.50,192.75 68.27,193.03 68.10,193.12 C67.93,193.22 67.74,193.21 67.65,193.15 C67.55,193.09 67.60,192.85 67.54,192.76 C67.48,192.67 67.32,192.71 67.26,192.62 C67.21,192.53 67.17,192.38 67.20,192.22 C67.22,192.05 67.32,191.82 67.42,191.62 C67.53,191.41 67.68,191.16 67.84,190.98 C68.00,190.79 68.23,190.61 68.41,190.52 C68.58,190.42 68.72,190.45 68.87,190.39 C69.03,190.32 69.18,190.21 69.35,190.14 C69.52,190.07 69.79,189.91 69.89,189.95Z" fill="none" stroke="#333" stroke-width="0.32"/><circle cx="67.88" cy="190.36" r="0.40" fill="#444"/><circle cx="69.18" cy="189.14" r="0.41" fill="#777"/><circle cx="67.94" cy="190.01" r="0.46" fill="#333"/><circle cx="67.29" cy="190.65" r="0.32" fill="#555"/><circle cx="69.28" cy="191.28" r="0.36" fill="#777"/></g>
<ellipse cx="75.68" cy="188.15" rx="6.45" ry="7.33" fill="none" stroke="#666" stroke-width="0.4"/>
<rect x="49.70" y="177.50" width="35.70" height="33.70" stroke="#666" stroke-width="0.6" fill="none" />
<text x="84.80" y="184.50" font-size="3.7" font-weight="normal" text-anchor="end" fill="#333" >33.04</text>
<line x1="48.40" y1="181.71" x2="49.70" y2="181.71" stroke="#888" stroke-width="0.4" />
<rect x="45.90" y="180.71" width="1.4" height="2" fill="#d4d4d4"/>
<line x1="48.40" y1="190.14" x2="49.70" y2="190.14" stroke="#888" stroke-width="0.4" />
<rect x="45.90" y="189.14" width="1.4" height="2" fill="#d4d4d4"/>
<line x1="48.40" y1="198.56" x2="49.70" y2="198.56" stroke="#888" stroke-width="0.4" />
<rect x="45.90" y="197.56" width="1.4" height="2" fill="#d4d4d4"/>
<line x1="48.40" y1="206.99" x2="49.70" y2="206.99" stroke="#888" stroke-width="0.4" />
<rect x="45.90" y="205.99" width="1.4" height="2" fill="#d4d4d4"/>
<line x1="58.62" y1="211.20" x2="58.62" y2="212.40" stroke="#888" stroke-width="0.4" />
<rect x="57.42" y="213.20" width="2.4" height="1.3" fill="#d4d4d4"/>
<line x1="66.28" y1="211.20" x2="66.28" y2="212.40" stroke="#888" stroke-width="0.4" />
<rect x="65.08" y="213.20" width="2.4" height="1.3" fill="#d4d4d4"/>
<line x1="73.93" y1="211.20" x2="73.93" y2="212.40" stroke="#888" stroke-width="0.4" />
<rect x="72.73" y="213.20" width="2.4" height="1.3" fill="#d4d4d4"/>
<line x1="81.58" y1="211.20" x2="81.58" y2="212.40" stroke="#888" stroke-width="0.4" />
<rect x="80.38" y="213.20" width="2.4" height="1.3" fill="#d4d4d4"/>
<path d="M68.12,237.25 C68.17,237.78 68.47,238.20 68.48,238.78 C68.49,239.37 68.74,240.21 68.18,240.75 C67.62,241.29 66.17,241.76 65.11,242.04 C64.05,242.32 62.87,242.35 61.85,242.43 C60.83,242.51 59.94,242.55 58.99,242.54 C58.04,242.53 56.93,242.58 56.13,242.38 C55.34,242.18 54.83,241.73 54.21,241.34 C53.58,240.95 52.57,240.56 52.36,240.03 C52.16,239.50 52.40,238.69 52.97,238.14 C53.53,237.59 54.96,237.20 55.75,236.74 C56.54,236.28 56.94,235.84 57.71,235.39 C58.48,234.93 59.37,234.28 60.36,234.01 C61.36,233.74 62.66,233.70 63.66,233.76 C64.66,233.83 65.61,234.12 66.36,234.42 C67.11,234.73 67.88,235.12 68.18,235.59 C68.47,236.06 68.07,236.72 68.12,237.25Z" fill="#d0d0d0" filter="url(#b2)"/>
<g filter="url(#b3)"><path d="M68.33,237.21 C68.35,237.78 68.73,238.19 68.74,238.79 C68.74,239.39 68.94,240.23 68.38,240.81 C67.82,241.39 66.45,241.98 65.36,242.27 C64.28,242.55 62.95,242.42 61.86,242.52 C60.78,242.61 59.82,242.82 58.84,242.81 C57.86,242.81 56.81,242.73 55.98,242.50 C55.16,242.28 54.64,241.85 53.90,241.46 C53.15,241.08 51.74,240.74 51.50,240.18 C51.27,239.62 51.78,238.70 52.47,238.12 C53.16,237.54 54.77,237.16 55.64,236.70 C56.51,236.24 56.90,235.86 57.68,235.36 C58.45,234.85 59.27,233.99 60.30,233.66 C61.33,233.33 62.81,233.29 63.87,233.38 C64.92,233.47 65.83,233.88 66.63,234.22 C67.42,234.55 68.36,234.90 68.64,235.40 C68.93,235.90 68.32,236.65 68.33,237.21Z" fill="none" stroke="#333" stroke-width="0.32"/><path d="M67.59,237.34 C67.96,237.77 68.89,238.29 68.81,238.80 C68.73,239.31 67.87,240.00 67.11,240.40 C66.34,240.81 65.12,241.00 64.22,241.24 C63.33,241.49 62.58,241.73 61.75,241.87 C60.91,242.02 60.07,242.09 59.22,242.11 C58.37,242.13 57.52,242.09 56.66,241.97 C55.80,241.86 54.57,241.76 54.04,241.40 C53.51,241.05 53.25,240.36 53.47,239.83 C53.69,239.31 54.85,238.72 55.34,238.24 C55.83,237.76 56.00,237.42 56.41,236.95 C56.81,236.48 57.10,235.85 57.77,235.44 C58.44,235.03 59.52,234.68 60.45,234.50 C61.38,234.31 62.47,234.26 63.36,234.32 C64.26,234.38 65.27,234.54 65.81,234.86 C66.35,235.17 66.31,235.82 66.60,236.24 C66.90,236.65 67.22,236.92 67.59,237.34Z" fill="none" stroke="#333" stroke-width="0.32"/><path d="M67.26,237.40 C67.53,237.75 67.57,238.32 67.27,238.73 C66.96,239.14 66.03,239.53 65.42,239.86 C64.82,240.19 64.27,240.48 63.64,240.72 C63.01,240.96 62.33,241.18 61.65,241.31 C60.97,241.44 60.28,241.46 59.54,241.50 C58.79,241.55 57.86,241.68 57.19,241.57 C56.51,241.45 55.66,241.18 55.48,240.82 C55.29,240.45 55.90,239.79 56.08,239.37 C56.26,238.95 56.46,238.68 56.57,238.29 C56.68,237.91 56.45,237.44 56.75,237.06 C57.05,236.67 57.73,236.26 58.37,235.98 C59.01,235.70 59.85,235.50 60.60,235.38 C61.35,235.26 62.24,235.15 62.87,235.25 C63.50,235.35 63.92,235.74 64.38,235.97 C64.85,236.19 65.17,236.39 65.65,236.63 C66.13,236.87 66.99,237.05 67.26,237.40Z" fill="none" stroke="#333" stroke-width="0.32"/><path d="M66.10,237.61 C66.10,237.91 65.52,238.33 65.22,238.65 C64.92,238.96 64.67,239.25 64.30,239.50 C63.94,239.75 63.48,239.98 63.02,240.16 C62.55,240.34 62.05,240.42 61.52,240.56 C60.98,240.70 60.39,240.95 59.80,241.02 C59.21,241.08 58.36,241.12 57.97,240.95 C57.58,240.79 57.53,240.31 57.44,240.01 C57.36,239.70 57.50,239.41 57.46,239.13 C57.41,238.85 57.10,238.61 57.15,238.32 C57.20,238.02 57.45,237.67 57.76,237.39 C58.08,237.10 58.57,236.83 59.06,236.60 C59.55,236.37 60.17,236.05 60.71,236.00 C61.25,235.95 61.83,236.21 62.30,236.31 C62.77,236.42 63.05,236.55 63.53,236.63 C64.01,236.71 64.78,236.65 65.21,236.81 C65.64,236.97 66.10,237.30 66.10,237.61Z" fill="none" stroke="#333" stroke-width="0.32"/><path d="M64.13,237.95 C64.08,238.18 64.01,238.39 63.87,238.59 C63.72,238.79 63.51,238.99 63.27,239.16 C63.02,239.33 62.72,239.46 62.41,239.62 C62.11,239.78 61.82,240.01 61.44,240.14 C61.06,240.26 60.51,240.40 60.15,240.37 C59.79,240.33 59.49,240.09 59.28,239.93 C59.08,239.77 59.06,239.57 58.89,239.41 C58.73,239.25 58.43,239.16 58.32,238.98 C58.20,238.81 58.14,238.57 58.22,238.36 C58.29,238.15 58.53,237.92 58.77,237.71 C59.00,237.50 59.26,237.22 59.61,237.09 C59.96,236.97 60.50,236.96 60.88,236.96 C61.26,236.96 61.52,237.10 61.89,237.10 C62.26,237.10 62.72,236.94 63.10,236.96 C63.48,236.98 64.00,237.07 64.17,237.24 C64.34,237.40 64.18,237.73 64.13,237.95Z" fill="none" stroke="#333" stroke-width="0.32"/><circle cx="65.56" cy="241.50" r="0.49" fill="#444"/><circle cx="62.34" cy="240.75" r="0.32" fill="#666"/><circle cx="57.92" cy="238.03" r="0.48" fill="#333"/><circle cx="64.10" cy="235.93" r="0.36" fill="#333"/><circle cx="66.66" cy="235.56" r="0.49" fill="#666"/><circle cx="55.06" cy="237.43" r="0.38" fill="#333"/><circle cx="56.88" cy="240.96" r="0.35" fill="#666"/><circle cx="62.10" cy="238.52" r="0.35" fill="#666"/><circle cx="59.87" cy="242.68" r="0.36" fill="#777"/><circle cx="67.22" cy="237.76" r="0.42" fill="#555"/><circle cx="61.45" cy="237.64" r="0.31" fill="#777"/><circle cx="60.47" cy="240.38" r="0.35" fill="#333"/><circle cx="62.50" cy="235.39" r="0.37" fill="#333"/><circle cx="56.55" cy="240.25" r="0.38" fill="#333"/><circle cx="55.81" cy="241.64" r="0.32" fill="#666"/><circle cx="58.94" cy="240.01" r="0.46" fill="#666"/><circle cx="64.33" cy="234.47" r="0.43" fill="#444"/><circle cx="56.29" cy="240.01" r="0.47" fill="#777"/><circle cx="53.22" cy="239.45" r="0.47" fill="#333"/><circle cx="63.10" cy="235.64" r="0.48" fill="#777"/><circle cx="65.78" cy="238.45" r="0.30" fill="#666"/><circle cx="54.37" cy="237.72" r="0.33" fill="#555"/><circle cx="60.82" cy="235.91" r="0.46" fill="#555"/><circle cx="57.98" cy="239.87" r="0.48" fill="#666"/><circle cx="61.40" cy="236.70" r="0.38" fill="#333"/><circle cx="53.97" cy="240.73" r="0.49" fill="#777"/><circle cx="60.41" cy="238.54" r="0.35" fill="#666"/><circle cx="64.19" cy="240.55" r="0.49" fill="#666"/><circle cx="64.66" cy="239.60" r="0.41" fill="#555"/><circle cx="58.73" cy="238.90" r="0.38" fill="#666"/><circle cx="56.84" cy="239.65" r="0.36" fill="#777"/><circle cx="67.60" cy="237.76" r="0.35" fill="#777"/><circle cx="61.74" cy="240.90" r="0.42" fill="#666"/><circle cx="57.11" cy="242.69" r="0.43" fill="#555"/><circle cx="66.87" cy="240.48" r="0.43" fill="#333"/><circle cx="62.70" cy="238.78" r="0.48" fill="#333"/><circle cx="61.17" cy="239.36" r="0.49" fill="#555"/><circle cx="59.74" cy="236.22" r="0.45" fill="#555"/></g>
<path d="M76.13,221.98 C76.39,222.32 76.54,222.86 76.51,223.54 C76.48,224.22 76.13,225.21 75.95,226.07 C75.77,226.93 75.77,227.65 75.43,228.71 C75.09,229.77 74.60,231.33 73.90,232.43 C73.19,233.53 72.02,234.50 71.21,235.30 C70.40,236.09 69.74,236.62 69.05,237.17 C68.36,237.73 67.67,238.31 67.08,238.61 C66.49,238.92 65.95,239.04 65.50,239.00 C65.04,238.95 64.55,238.85 64.37,238.36 C64.18,237.87 64.05,237.06 64.38,236.04 C64.70,235.02 65.63,233.40 66.31,232.24 C67.00,231.07 67.81,230.15 68.49,229.05 C69.17,227.95 69.65,226.73 70.39,225.62 C71.14,224.50 72.20,223.02 72.96,222.34 C73.71,221.65 74.41,221.57 74.94,221.51 C75.46,221.45 75.87,221.64 76.13,221.98Z" fill="#d0d0d0" filter="url(#b2)"/>
<g filter="url(#b3)"><path d="M76.33,221.66 C76.60,222.02 76.85,222.45 76.83,223.14 C76.81,223.84 76.37,224.94 76.20,225.85 C76.03,226.75 76.17,227.45 75.81,228.56 C75.44,229.67 74.77,231.34 74.00,232.50 C73.24,233.65 72.06,234.70 71.23,235.51 C70.40,236.31 69.73,236.74 69.00,237.34 C68.27,237.94 67.51,238.71 66.85,239.10 C66.19,239.50 65.51,239.79 65.03,239.74 C64.55,239.69 64.14,239.41 63.99,238.82 C63.84,238.24 63.78,237.33 64.15,236.24 C64.51,235.15 65.44,233.50 66.16,232.30 C66.87,231.09 67.73,230.17 68.44,229.02 C69.14,227.87 69.61,226.58 70.38,225.41 C71.14,224.25 72.24,222.77 73.04,222.03 C73.84,221.29 74.63,221.04 75.18,220.98 C75.73,220.92 76.05,221.30 76.33,221.66Z" fill="none" stroke="#333" stroke-width="0.32"/><path d="M75.25,223.39 C75.45,223.71 75.41,224.29 75.51,224.75 C75.62,225.21 75.86,225.49 75.86,226.14 C75.86,226.80 75.94,227.70 75.51,228.68 C75.07,229.66 73.99,231.10 73.26,232.03 C72.53,232.96 71.80,233.52 71.12,234.26 C70.45,235.01 69.85,235.89 69.22,236.51 C68.60,237.13 67.93,237.67 67.37,237.98 C66.81,238.29 66.28,238.45 65.88,238.39 C65.47,238.33 64.95,238.25 64.96,237.64 C64.96,237.03 65.48,235.70 65.91,234.72 C66.33,233.75 67.04,232.72 67.49,231.78 C67.94,230.85 68.10,230.10 68.59,229.12 C69.08,228.13 69.75,226.76 70.42,225.88 C71.08,225.00 71.91,224.33 72.57,223.82 C73.22,223.31 73.89,222.88 74.34,222.80 C74.79,222.73 75.06,223.06 75.25,223.39Z" fill="none" stroke="#333" stroke-width="0.32"/><path d="M74.15,225.14 C74.38,225.31 74.75,225.19 74.98,225.41 C75.20,225.62 75.63,225.82 75.50,226.45 C75.37,227.08 74.66,228.33 74.18,229.19 C73.70,230.05 73.11,230.86 72.60,231.62 C72.08,232.37 71.60,233.09 71.08,233.74 C70.56,234.39 70.01,235.02 69.48,235.52 C68.96,236.02 68.44,236.42 67.94,236.73 C67.44,237.05 66.75,237.54 66.50,237.39 C66.24,237.25 66.24,236.54 66.40,235.87 C66.56,235.20 67.23,234.08 67.46,233.38 C67.70,232.68 67.58,232.35 67.80,231.66 C68.03,230.97 68.36,230.06 68.81,229.25 C69.26,228.44 69.92,227.51 70.49,226.81 C71.07,226.10 71.74,225.40 72.25,225.01 C72.77,224.61 73.28,224.41 73.60,224.43 C73.91,224.45 73.92,224.98 74.15,225.14Z" fill="none" stroke="#333" stroke-width="0.32"/><path d="M73.50,226.19 C73.80,226.13 74.39,225.75 74.52,225.97 C74.65,226.19 74.49,226.91 74.27,227.51 C74.04,228.12 73.51,228.94 73.17,229.58 C72.82,230.23 72.56,230.81 72.20,231.37 C71.84,231.93 71.41,232.47 71.01,232.96 C70.62,233.44 70.25,233.80 69.81,234.27 C69.37,234.74 68.74,235.57 68.38,235.78 C68.02,236.00 67.72,235.85 67.65,235.56 C67.57,235.26 67.86,234.46 67.92,234.02 C67.99,233.58 67.96,233.32 68.02,232.90 C68.07,232.48 68.04,232.04 68.25,231.49 C68.47,230.93 68.93,230.20 69.31,229.56 C69.70,228.93 70.14,228.20 70.57,227.69 C70.99,227.18 71.50,226.72 71.86,226.50 C72.22,226.27 72.44,226.39 72.72,226.34 C72.99,226.29 73.20,226.25 73.50,226.19Z" fill="none" stroke="#333" stroke-width="0.32"/><path d="M73.01,226.97 C73.22,226.92 73.35,227.13 73.33,227.42 C73.31,227.71 73.04,228.29 72.89,228.70 C72.75,229.11 72.63,229.47 72.44,229.87 C72.24,230.26 71.97,230.68 71.73,231.07 C71.48,231.47 71.24,231.85 70.95,232.26 C70.67,232.66 70.31,233.21 70.02,233.50 C69.73,233.78 69.38,233.98 69.22,233.95 C69.06,233.92 69.09,233.51 69.04,233.33 C68.98,233.15 68.94,233.02 68.87,232.87 C68.79,232.71 68.56,232.69 68.59,232.41 C68.62,232.13 68.85,231.61 69.05,231.18 C69.24,230.75 69.50,230.27 69.76,229.85 C70.03,229.42 70.37,228.89 70.65,228.62 C70.92,228.34 71.17,228.34 71.42,228.19 C71.66,228.04 71.82,227.91 72.09,227.71 C72.35,227.50 72.80,227.02 73.01,226.97Z" fill="none" stroke="#333" stroke-width="0.32"/><circle cx="70.20" cy="232.32" r="0.40" fill="#777"/><circle cx="70.66" cy="231.27" r="0.50" fill="#777"/><circle cx="73.58" cy="229.66" r="0.36" fill="#444"/><circle cx="67.71" cy="234.98" r="0.37" fill="#555"/><circle cx="71.64" cy="225.83" r="0.37" fill="#777"/><circle cx="67.98" cy="238.01" r="0.33" fill="#777"/><circle cx="71.05" cy="232.90" r="0.33" fill="#555"/><circle cx="68.38" cy="229.12" r="0.46" fill="#777"/><circle cx="74.29" cy="228.27" r="0.39" fill="#777"/><circle cx="68.44" cy="234.98" r="0.40" fill="#555"/><circle cx="72.80" cy="233.14" r="0.46" fill="#666"/><circle cx="70.58" cy="230.44" r="0.34" fill="#333"/><circle cx="71.36" cy="233.58" r="0.47" fill="#555"/><circle cx="74.10" cy="224.64" r="0.48" fill="#444"/><circle cx="72.13" cy="227.30" r="0.32" fill="#555"/><circle cx="69.82" cy="231.59" r="0.40" fill="#333"/><circle cx="69.23" cy="231.09" r="0.42" fill="#777"/><circle cx="70.82" cy="229.19" r="0.47" fill="#666"/><circle cx="67.78" cy="235.44" r="0.31" fill="#555"/><circle cx="65.36" cy="238.29" r="0.37" fill="#333"/><circle cx="73.40" cy="229.23" r="0.33" fill="#777"/><circle cx="65.86" cy="237.91" r="0.44" fill="#555"/><circle cx="71.01" cy="231.20" r="0.37" fill="#666"/><circle cx="70.85" cy="230.48" r="0.45" fill="#333"/><circle cx="74.29" cy="224.46" r="0.39" fill="#333"/><circle cx="73.15" cy="224.16" r="0.42" fill="#555"/><circle cx="72.70" cy="226.77" r="0.32" fill="#444"/><circle cx="75.84" cy="223.04" r="0.40" fill="#444"/><circle cx="69.10" cy="234.65" r="0.36" fill="#555"/><circle cx="73.30" cy="229.56" r="0.31" fill="#666"/><circle cx="65.47" cy="235.60" r="0.35" fill="#333"/><circle cx="73.38" cy="228.29" r="0.35" fill="#444"/></g>
<path d="M80.64,235.33 C80.98,235.96 81.08,236.88 81.15,237.54 C81.21,238.20 81.12,238.78 81.03,239.30 C80.94,239.81 80.82,240.30 80.60,240.61 C80.37,240.92 80.00,240.96 79.69,241.16 C79.38,241.36 79.14,241.70 78.75,241.80 C78.36,241.90 77.80,242.12 77.35,241.78 C76.91,241.43 76.42,240.40 76.09,239.74 C75.76,239.07 75.63,238.41 75.38,237.79 C75.12,237.18 74.81,236.68 74.57,236.05 C74.34,235.41 73.99,234.58 73.96,233.99 C73.93,233.40 74.18,232.92 74.39,232.52 C74.60,232.12 74.86,231.69 75.22,231.58 C75.58,231.48 76.12,231.63 76.55,231.89 C76.98,232.14 77.39,232.78 77.83,233.10 C78.26,233.42 78.67,233.44 79.14,233.81 C79.60,234.18 80.31,234.71 80.64,235.33Z" fill="#d0d0d0" filter="url(#b2)"/>
<g filter="url(#b3)"><path d="M80.78,235.27 C81.13,235.93 81.25,236.90 81.30,237.57 C81.34,238.24 81.13,238.76 81.03,239.29 C80.94,239.83 80.94,240.44 80.73,240.78 C80.52,241.12 80.09,241.12 79.77,241.33 C79.45,241.55 79.22,241.96 78.81,242.08 C78.41,242.20 77.81,242.44 77.34,242.08 C76.87,241.72 76.35,240.62 75.99,239.92 C75.64,239.22 75.49,238.51 75.22,237.86 C74.96,237.21 74.63,236.67 74.40,236.01 C74.18,235.35 73.90,234.55 73.86,233.91 C73.81,233.27 73.93,232.62 74.14,232.19 C74.34,231.75 74.71,231.41 75.10,231.32 C75.49,231.22 76.03,231.33 76.49,231.60 C76.94,231.87 77.38,232.57 77.84,232.91 C78.29,233.25 78.74,233.23 79.23,233.62 C79.72,234.01 80.44,234.61 80.78,235.27Z" fill="none" stroke="#333" stroke-width="0.32"/><path d="M80.03,235.62 C80.25,236.19 80.30,236.83 80.36,237.36 C80.41,237.89 80.43,238.39 80.36,238.79 C80.29,239.19 80.08,239.42 79.94,239.76 C79.80,240.09 79.73,240.50 79.52,240.79 C79.31,241.09 79.04,241.56 78.69,241.52 C78.34,241.49 77.78,241.03 77.42,240.59 C77.06,240.15 76.83,239.37 76.53,238.88 C76.22,238.40 75.86,238.16 75.57,237.70 C75.29,237.24 74.98,236.63 74.83,236.11 C74.68,235.58 74.67,235.03 74.67,234.52 C74.67,234.02 74.66,233.42 74.83,233.09 C74.99,232.75 75.31,232.49 75.65,232.49 C75.98,232.50 76.47,233.01 76.83,233.13 C77.19,233.26 77.44,233.13 77.82,233.26 C78.19,233.39 78.70,233.54 79.07,233.93 C79.44,234.32 79.82,235.05 80.03,235.62Z" fill="none" stroke="#333" stroke-width="0.32"/><path d="M79.31,235.96 C79.46,236.37 79.54,236.81 79.59,237.19 C79.64,237.56 79.61,237.88 79.60,238.22 C79.59,238.56 79.59,238.89 79.53,239.22 C79.47,239.55 79.43,240.05 79.24,240.19 C79.04,240.33 78.66,240.25 78.37,240.07 C78.08,239.89 77.77,239.39 77.50,239.12 C77.23,238.84 77.02,238.68 76.77,238.41 C76.51,238.15 76.18,237.87 75.97,237.51 C75.76,237.15 75.62,236.69 75.50,236.26 C75.38,235.83 75.22,235.30 75.24,234.95 C75.26,234.60 75.44,234.28 75.64,234.14 C75.83,234.00 76.17,234.13 76.40,234.10 C76.63,234.07 76.78,234.02 77.01,233.97 C77.25,233.93 77.51,233.70 77.79,233.82 C78.06,233.94 78.43,234.34 78.68,234.69 C78.93,235.05 79.16,235.54 79.31,235.96Z" fill="none" stroke="#333" stroke-width="0.32"/><path d="M78.71,236.24 C78.80,236.50 78.82,236.77 78.87,237.02 C78.91,237.27 78.94,237.49 78.97,237.75 C79.00,238.01 79.09,238.38 79.04,238.59 C78.99,238.79 78.84,238.98 78.67,238.98 C78.51,238.99 78.23,238.72 78.04,238.61 C77.86,238.51 77.71,238.48 77.54,238.36 C77.37,238.25 77.19,238.10 77.02,237.92 C76.85,237.73 76.67,237.51 76.52,237.26 C76.37,237.00 76.19,236.68 76.12,236.40 C76.04,236.12 76.00,235.75 76.06,235.56 C76.13,235.38 76.38,235.38 76.50,235.27 C76.62,235.17 76.67,235.05 76.78,234.92 C76.88,234.79 76.97,234.52 77.13,234.50 C77.29,234.47 77.54,234.60 77.74,234.76 C77.93,234.92 78.13,235.21 78.29,235.45 C78.45,235.70 78.61,235.98 78.71,236.24Z" fill="none" stroke="#333" stroke-width="0.32"/><circle cx="78.95" cy="238.89" r="0.39" fill="#333"/><circle cx="76.54" cy="238.11" r="0.36" fill="#444"/><circle cx="76.35" cy="239.60" r="0.45" fill="#555"/><circle cx="78.00" cy="232.77" r="0.36" fill="#555"/><circle cx="74.45" cy="236.34" r="0.40" fill="#777"/><circle cx="79.92" cy="238.86" r="0.37" fill="#333"/><circle cx="79.69" cy="235.55" r="0.46" fill="#666"/><circle cx="75.43" cy="232.44" r="0.40" fill="#666"/><circle cx="76.23" cy="231.89" r="0.41" fill="#333"/><circle cx="77.38" cy="237.70" r="0.44" fill="#666"/><circle cx="79.77" cy="238.56" r="0.32" fill="#666"/><circle cx="78.21" cy="237.08" r="0.47" fill="#333"/><circle cx="76.74" cy="236.61" r="0.48" fill="#555"/><circle cx="74.29" cy="234.51" r="0.43" fill="#777"/><circle cx="78.66" cy="236.84" r="0.32" fill="#666"/></g>
<path d="M77.00,225.69 C76.93,226.10 76.84,226.41 76.76,226.84 C76.69,227.28 76.81,227.91 76.54,228.29 C76.27,228.67 75.65,229.02 75.13,229.12 C74.61,229.21 73.96,228.95 73.43,228.87 C72.90,228.79 72.43,228.78 71.97,228.63 C71.51,228.49 71.04,228.27 70.67,227.99 C70.30,227.72 70.00,227.35 69.73,226.97 C69.46,226.58 69.10,226.14 69.05,225.69 C68.99,225.24 69.08,224.64 69.39,224.29 C69.71,223.94 70.49,223.84 70.93,223.60 C71.37,223.36 71.62,223.11 72.03,222.87 C72.45,222.63 72.92,222.25 73.43,222.16 C73.94,222.07 74.61,222.14 75.10,222.32 C75.59,222.50 76.02,222.89 76.37,223.23 C76.71,223.58 77.06,223.99 77.16,224.40 C77.27,224.81 77.06,225.28 77.00,225.69Z" fill="#d0d0d0" filter="url(#b2)"/>
<g filter="url(#b3)"><path d="M77.14,225.69 C77.05,226.12 76.96,226.42 76.92,226.90 C76.87,227.37 77.13,228.14 76.86,228.55 C76.58,228.97 75.83,229.29 75.26,229.37 C74.69,229.46 73.98,229.20 73.43,229.09 C72.88,228.98 72.41,228.88 71.93,228.71 C71.46,228.54 70.97,228.35 70.59,228.07 C70.20,227.78 69.93,227.41 69.61,227.01 C69.29,226.61 68.76,226.16 68.67,225.69 C68.58,225.22 68.72,224.54 69.08,224.18 C69.44,223.82 70.34,223.74 70.82,223.51 C71.31,223.28 71.57,223.06 72.00,222.81 C72.44,222.56 72.90,222.13 73.43,222.02 C73.96,221.90 74.68,221.95 75.19,222.14 C75.70,222.33 76.09,222.79 76.47,223.15 C76.85,223.51 77.34,223.87 77.45,224.30 C77.56,224.72 77.22,225.26 77.14,225.69Z" fill="none" stroke="#333" stroke-width="0.32"/><path d="M76.31,225.69 C76.42,226.05 76.88,226.49 76.86,226.88 C76.84,227.26 76.55,227.77 76.19,228.00 C75.83,228.23 75.16,228.21 74.70,228.25 C74.24,228.30 73.84,228.29 73.43,228.27 C73.02,228.24 72.61,228.22 72.23,228.11 C71.85,227.99 71.54,227.79 71.16,227.59 C70.78,227.38 70.24,227.20 69.97,226.89 C69.71,226.57 69.46,226.05 69.56,225.69 C69.66,225.32 70.26,224.98 70.57,224.70 C70.88,224.42 71.16,224.29 71.41,224.00 C71.66,223.71 71.74,223.17 72.08,222.96 C72.41,222.75 72.98,222.74 73.43,222.73 C73.88,222.72 74.38,222.78 74.80,222.92 C75.22,223.07 75.70,223.29 75.94,223.60 C76.17,223.90 76.14,224.38 76.20,224.73 C76.26,225.08 76.20,225.33 76.31,225.69Z" fill="none" stroke="#333" stroke-width="0.32"/><path d="M76.09,225.69 C76.19,225.96 76.22,226.36 76.07,226.60 C75.92,226.85 75.49,227.01 75.20,227.17 C74.91,227.32 74.64,227.46 74.34,227.53 C74.05,227.61 73.73,227.63 73.43,227.63 C73.13,227.63 72.83,227.59 72.52,227.53 C72.20,227.47 71.84,227.42 71.53,227.28 C71.23,227.13 70.78,226.90 70.70,226.64 C70.61,226.37 70.91,225.96 71.04,225.69 C71.17,225.42 71.38,225.27 71.48,225.01 C71.57,224.76 71.47,224.41 71.62,224.18 C71.77,223.94 72.09,223.72 72.40,223.60 C72.70,223.49 73.09,223.48 73.43,223.49 C73.77,223.50 74.16,223.52 74.43,223.66 C74.70,223.81 74.87,224.12 75.05,224.34 C75.22,224.56 75.29,224.76 75.46,224.98 C75.64,225.21 75.99,225.42 76.09,225.69Z" fill="none" stroke="#333" stroke-width="0.32"/><path d="M75.31,225.69 C75.33,225.87 75.18,226.09 75.06,226.25 C74.93,226.41 74.75,226.55 74.58,226.65 C74.41,226.75 74.21,226.82 74.02,226.87 C73.82,226.92 73.64,226.91 73.43,226.94 C73.22,226.97 72.98,227.07 72.75,227.06 C72.52,227.04 72.20,226.98 72.06,226.84 C71.92,226.69 71.93,226.40 71.92,226.21 C71.91,226.02 71.99,225.86 71.99,225.69 C72.00,225.52 71.92,225.35 71.96,225.18 C72.00,225.01 72.10,224.83 72.23,224.68 C72.36,224.54 72.54,224.38 72.74,224.30 C72.94,224.22 73.21,224.19 73.43,224.22 C73.65,224.25 73.86,224.37 74.03,224.47 C74.20,224.57 74.29,224.72 74.45,224.84 C74.61,224.95 74.84,225.01 74.98,225.15 C75.13,225.29 75.30,225.51 75.31,225.69Z" fill="none" stroke="#333" stroke-width="0.32"/><circle cx="76.19" cy="225.04" r="0.44" fill="#444"/><circle cx="73.49" cy="225.59" r="0.34" fill="#333"/><circle cx="72.85" cy="223.42" r="0.46" fill="#777"/><circle cx="73.94" cy="223.74" r="0.36" fill="#444"/><circle cx="70.40" cy="226.27" r="0.36" fill="#444"/><circle cx="76.54" cy="227.58" r="0.42" fill="#555"/><circle cx="70.23" cy="224.84" r="0.36" fill="#555"/><circle cx="73.63" cy="223.64" r="0.34" fill="#777"/><circle cx="77.25" cy="224.74" r="0.40" fill="#666"/><circle cx="72.85" cy="226.47" r="0.32" fill="#666"/></g>
<ellipse cx="72.91" cy="228.76" rx="7.87" ry="7.67" fill="none" stroke="#666" stroke-width="0.4"/>
<rect x="49.50" y="217.40" width="36.00" height="35.10" stroke="#666" stroke-width="0.6" fill="none" />
<text x="84.90" y="224.40" font-size="3.7" font-weight="normal" text-anchor="end" fill="#333" >30.30</text>
<line x1="48.20" y1="221.79" x2="49.50" y2="221.79" stroke="#888" stroke-width="0.4" />
<rect x="45.70" y="220.79" width="1.4" height="2" fill="#d4d4d4"/>
<line x1="48.20" y1="230.56" x2="49.50" y2="230.56" stroke="#888" stroke-width="0.4" />
<rect x="45.70" y="229.56" width="1.4" height="2" fill="#d4d4d4"/>
<line x1="48.20" y1="239.34" x2="49.50" y2="239.34" stroke="#888" stroke-width="0.4" />
<rect x="45.70" y="238.34" width="1.4" height="2" fill="#d4d4d4"/>
<line x1="48.20" y1="248.11" x2="49.50" y2="248.11" stroke="#888" stroke-width="0.4" />
<rect x="45.70" y="247.11" width="1.4" height="2" fill="#d4d4d4"/>
<line x1="58.50" y1="252.50" x2="58.50" y2="253.70" stroke="#888" stroke-width="0.4" />
<rect x="57.30" y="254.50" width="2.4" height="1.3" fill="#d4d4d4"/>
<line x1="66.21" y1="252.50" x2="66.21" y2="253.70" stroke="#888" stroke-width="0.4" />
<rect x="65.01" y="254.50" width="2.4" height="1.3" fill="#d4d4d4"/>
<line x1="73.93" y1="252.50" x2="73.93" y2="253.70" stroke="#888" stroke-width="0.4" />
<rect x="72.73" y="254.50" width="2.4" height="1.3" fill="#d4d4d4"/>
<line x1="81.64" y1="252.50" x2="81.64" y2="253.70" stroke="#888" stroke-width="0.4" />
<rect x="80.44" y="254.50" width="2.4" height="1.3" fill="#d4d4d4"/>
<path d="M45.5,258.4 L45.5,219.7 M42.9,223.29999999999998 L45.5,219.1 L48.1,223.29999999999998" stroke="#000" stroke-width="0.95" fill="none"/>
<path d="M45.0,258.4 L84.7,258.4 M81.1,255.79999999999998 L85.3,258.4 L81.1,261.0" stroke="#000" stroke-width="0.95" fill="none"/>
<text x="42.30" y="236.20" font-size="4.9" font-weight="bold" text-anchor="start" fill="#000" textLength="12.2" lengthAdjust="spacingAndGlyphs" transform="rotate(-90 42.30 236.20)" stroke="#000" stroke-width="0.15" >CD14</text>
<text x="59.90" y="266.00" font-size="4.6" font-weight="bold" text-anchor="start" fill="#000" textLength="9.6" lengthAdjust="spacingAndGlyphs" stroke="#000" stroke-width="0.15" >CD4</text>
<path d="M103.50,47.70 L105.50,47.00 L107.30,44.50 L109.50,41.50 L111.10,38.70 L112.00,35.00 L112.70,31.20 L113.20,27.50 L113.70,23.70 L114.60,19.40 L115.10,21.20 L115.70,23.70 L116.10,27.50 L116.40,31.20 L116.80,35.00 L117.20,38.70 L117.60,41.50 L118.00,44.00 L118.80,45.80 L119.80,46.90 L122.00,47.50 L131.00,47.70Z" fill="#d6d6d6" stroke="#666" stroke-width="0.4" stroke-linejoin="round"/>
<path d="M101.50,47.70 L103.00,46.00 L105.70,40.80 L107.50,37.50 L109.00,34.40 L110.50,30.50 L111.60,26.90 L112.50,24.00 L113.20,21.60 L114.20,19.80" fill="none" stroke="#333" stroke-width="0.4" stroke-linejoin="round"/>
<line x1="99.80" y1="47.70" x2="132.80" y2="47.70" stroke="#aaa" stroke-width="0.5" />
<rect x="99.30" y="13.40" width="34.00" height="34.90" stroke="#555" stroke-width="0.65" fill="none" />
<line x1="98.00" y1="16.89" x2="99.30" y2="16.89" stroke="#888" stroke-width="0.4" />
<rect x="95.50" y="15.89" width="1.4" height="2" fill="#d4d4d4"/>
<line x1="98.00" y1="23.87" x2="99.30" y2="23.87" stroke="#888" stroke-width="0.4" />
<rect x="95.50" y="22.87" width="1.4" height="2" fill="#d4d4d4"/>
<line x1="98.00" y1="30.85" x2="99.30" y2="30.85" stroke="#888" stroke-width="0.4" />
<rect x="95.50" y="29.85" width="1.4" height="2" fill="#d4d4d4"/>
<line x1="98.00" y1="37.83" x2="99.30" y2="37.83" stroke="#888" stroke-width="0.4" />
<rect x="95.50" y="36.83" width="1.4" height="2" fill="#d4d4d4"/>
<line x1="98.00" y1="44.81" x2="99.30" y2="44.81" stroke="#888" stroke-width="0.4" />
<rect x="95.50" y="43.81" width="1.4" height="2" fill="#d4d4d4"/>
<line x1="107.80" y1="48.30" x2="107.80" y2="49.50" stroke="#888" stroke-width="0.4" />
<rect x="106.60" y="50.30" width="2.4" height="1.3" fill="#d4d4d4"/>
<line x1="115.09" y1="48.30" x2="115.09" y2="49.50" stroke="#888" stroke-width="0.4" />
<rect x="113.89" y="50.30" width="2.4" height="1.3" fill="#d4d4d4"/>
<line x1="122.37" y1="48.30" x2="122.37" y2="49.50" stroke="#888" stroke-width="0.4" />
<rect x="121.17" y="50.30" width="2.4" height="1.3" fill="#d4d4d4"/>
<line x1="129.66" y1="48.30" x2="129.66" y2="49.50" stroke="#888" stroke-width="0.4" />
<rect x="128.46" y="50.30" width="2.4" height="1.3" fill="#d4d4d4"/>
<path d="M108.00,90.10 L109.50,89.50 L111.00,88.70 L112.20,87.40 L113.30,85.00 L114.00,81.50 L114.60,77.40 L115.00,72.00 L115.40,66.70 L115.90,62.00 L116.40,59.20 L116.90,62.00 L117.50,66.70 L117.80,72.00 L118.00,77.40 L118.40,81.00 L118.90,83.80 L119.70,86.00 L120.70,87.60 L122.50,89.00 L124.50,89.70 L129.00,90.10Z" fill="#777" stroke="#666" stroke-width="0.4" stroke-linejoin="round"/>
<path d="M101.50,90.10 L103.10,89.60 L106.30,86.50 L108.00,84.80 L109.50,82.70 L110.60,80.20 L111.60,77.40 L112.20,72.00 L112.70,66.70 L113.20,63.00 L113.80,60.80 L114.80,60.40 L115.60,61.00" fill="none" stroke="#333" stroke-width="0.4" stroke-linejoin="round"/>
<line x1="99.90" y1="90.10" x2="132.50" y2="90.10" stroke="#aaa" stroke-width="0.5" />
<rect x="99.40" y="55.60" width="33.60" height="35.10" stroke="#555" stroke-width="0.65" fill="none" />
<line x1="98.10" y1="59.11" x2="99.40" y2="59.11" stroke="#888" stroke-width="0.4" />
<rect x="95.60" y="58.11" width="1.4" height="2" fill="#d4d4d4"/>
<line x1="98.10" y1="66.13" x2="99.40" y2="66.13" stroke="#888" stroke-width="0.4" />
<rect x="95.60" y="65.13" width="1.4" height="2" fill="#d4d4d4"/>
<line x1="98.10" y1="73.15" x2="99.40" y2="73.15" stroke="#888" stroke-width="0.4" />
<rect x="95.60" y="72.15" width="1.4" height="2" fill="#d4d4d4"/>
<line x1="98.10" y1="80.17" x2="99.40" y2="80.17" stroke="#888" stroke-width="0.4" />
<rect x="95.60" y="79.17" width="1.4" height="2" fill="#d4d4d4"/>
<line x1="98.10" y1="87.19" x2="99.40" y2="87.19" stroke="#888" stroke-width="0.4" />
<rect x="95.60" y="86.19" width="1.4" height="2" fill="#d4d4d4"/>
<line x1="107.80" y1="90.70" x2="107.80" y2="91.90" stroke="#888" stroke-width="0.4" />
<rect x="106.60" y="92.70" width="2.4" height="1.3" fill="#d4d4d4"/>
<line x1="115.00" y1="90.70" x2="115.00" y2="91.90" stroke="#888" stroke-width="0.4" />
<rect x="113.80" y="92.70" width="2.4" height="1.3" fill="#d4d4d4"/>
<line x1="122.20" y1="90.70" x2="122.20" y2="91.90" stroke="#888" stroke-width="0.4" />
<rect x="121.00" y="92.70" width="2.4" height="1.3" fill="#d4d4d4"/>
<line x1="129.40" y1="90.70" x2="129.40" y2="91.90" stroke="#888" stroke-width="0.4" />
<rect x="128.20" y="92.70" width="2.4" height="1.3" fill="#d4d4d4"/>
<path d="M103.10,132.70 L105.50,131.80 L107.30,130.00 L109.30,127.50 L110.60,124.60 L111.50,120.00 L112.20,116.00 L113.20,110.70 L114.00,107.00 L114.60,105.30 L115.30,107.00 L115.90,110.70 L116.20,116.00 L116.40,121.40 L116.90,126.00 L117.50,128.90 L118.50,131.00 L119.60,132.10 L124.00,132.70Z" fill="#d6d6d6" stroke="#666" stroke-width="0.4" stroke-linejoin="round"/>
<path d="M102.00,132.70 L104.50,131.50 L107.00,129.00 L109.00,125.50 L110.30,121.00 L111.10,116.00 L112.30,111.00 L113.50,107.00 L114.40,105.50" fill="none" stroke="#333" stroke-width="0.4" stroke-linejoin="round"/>
<line x1="100.50" y1="132.70" x2="132.70" y2="132.70" stroke="#aaa" stroke-width="0.5" />
<rect x="100.00" y="98.40" width="33.20" height="34.90" stroke="#555" stroke-width="0.65" fill="none" />
<line x1="98.70" y1="101.89" x2="100.00" y2="101.89" stroke="#888" stroke-width="0.4" />
<rect x="96.20" y="100.89" width="1.4" height="2" fill="#d4d4d4"/>
<line x1="98.70" y1="108.87" x2="100.00" y2="108.87" stroke="#888" stroke-width="0.4" />
<rect x="96.20" y="107.87" width="1.4" height="2" fill="#d4d4d4"/>
<line x1="98.70" y1="115.85" x2="100.00" y2="115.85" stroke="#888" stroke-width="0.4" />
<rect x="96.20" y="114.85" width="1.4" height="2" fill="#d4d4d4"/>
<line x1="98.70" y1="122.83" x2="100.00" y2="122.83" stroke="#888" stroke-width="0.4" />
<rect x="96.20" y="121.83" width="1.4" height="2" fill="#d4d4d4"/>
<line x1="98.70" y1="129.81" x2="100.00" y2="129.81" stroke="#888" stroke-width="0.4" />
<rect x="96.20" y="128.81" width="1.4" height="2" fill="#d4d4d4"/>
<line x1="108.30" y1="133.30" x2="108.30" y2="134.50" stroke="#888" stroke-width="0.4" />
<rect x="107.10" y="135.30" width="2.4" height="1.3" fill="#d4d4d4"/>
<line x1="115.41" y1="133.30" x2="115.41" y2="134.50" stroke="#888" stroke-width="0.4" />
<rect x="114.21" y="135.30" width="2.4" height="1.3" fill="#d4d4d4"/>
<line x1="122.53" y1="133.30" x2="122.53" y2="134.50" stroke="#888" stroke-width="0.4" />
<rect x="121.33" y="135.30" width="2.4" height="1.3" fill="#d4d4d4"/>
<line x1="129.64" y1="133.30" x2="129.64" y2="134.50" stroke="#888" stroke-width="0.4" />
<rect x="128.44" y="135.30" width="2.4" height="1.3" fill="#d4d4d4"/>
<path d="M111.10,171.10 L112.30,170.40 L113.20,169.40 L114.00,167.50 L114.60,164.60 L115.00,160.00 L115.40,156.00 L115.80,151.00 L116.40,147.50 L116.80,151.00 L117.20,156.00 L117.60,160.00 L118.00,164.60 L118.60,167.50 L119.60,169.40 L120.80,170.40 L122.30,171.10Z" fill="#cccccc" stroke="#666" stroke-width="0.4" stroke-linejoin="round"/>
<path d="M104.00,171.20 L105.20,171.00 L107.50,170.60 L109.00,170.00 L110.20,168.30 L111.10,165.70 L112.00,162.00 L112.70,158.20 L113.40,154.50 L114.30,151.80 L115.00,154.50 L115.70,158.20 L116.30,162.00 L117.00,165.70 L117.90,168.30 L119.10,170.00 L121.00,170.80 L124.00,171.20" fill="none" stroke="#333" stroke-width="0.4" stroke-linejoin="round"/>
<line x1="99.80" y1="171.30" x2="131.70" y2="171.30" stroke="#aaa" stroke-width="0.5" />
<rect x="99.30" y="138.10" width="32.90" height="33.80" stroke="#555" stroke-width="0.65" fill="none" />
<line x1="98.00" y1="141.48" x2="99.30" y2="141.48" stroke="#888" stroke-width="0.4" />
<rect x="95.50" y="140.48" width="1.4" height="2" fill="#d4d4d4"/>
<line x1="98.00" y1="148.24" x2="99.30" y2="148.24" stroke="#888" stroke-width="0.4" />
<rect x="95.50" y="147.24" width="1.4" height="2" fill="#d4d4d4"/>
<line x1="98.00" y1="155.00" x2="99.30" y2="155.00" stroke="#888" stroke-width="0.4" />
<rect x="95.50" y="154.00" width="1.4" height="2" fill="#d4d4d4"/>
<line x1="98.00" y1="161.76" x2="99.30" y2="161.76" stroke="#888" stroke-width="0.4" />
<rect x="95.50" y="160.76" width="1.4" height="2" fill="#d4d4d4"/>
<line x1="98.00" y1="168.52" x2="99.30" y2="168.52" stroke="#888" stroke-width="0.4" />
<rect x="95.50" y="167.52" width="1.4" height="2" fill="#d4d4d4"/>
<line x1="107.52" y1="171.90" x2="107.52" y2="173.10" stroke="#888" stroke-width="0.4" />
<rect x="106.32" y="173.90" width="2.4" height="1.3" fill="#d4d4d4"/>
<line x1="114.57" y1="171.90" x2="114.57" y2="173.10" stroke="#888" stroke-width="0.4" />
<rect x="113.37" y="173.90" width="2.4" height="1.3" fill="#d4d4d4"/>
<line x1="121.62" y1="171.90" x2="121.62" y2="173.10" stroke="#888" stroke-width="0.4" />
<rect x="120.42" y="173.90" width="2.4" height="1.3" fill="#d4d4d4"/>
<line x1="128.67" y1="171.90" x2="128.67" y2="173.10" stroke="#888" stroke-width="0.4" />
<rect x="127.47" y="173.90" width="2.4" height="1.3" fill="#d4d4d4"/>
<path d="M105.20,213.60 L107.00,213.20 L108.40,212.50 L109.60,210.80 L110.60,208.70 L111.60,203.40 L112.50,198.00 L113.20,192.70 L114.30,187.30 L115.00,190.00 L115.70,192.70 L116.10,198.00 L116.40,203.40 L116.70,208.00 L117.00,212.00 L118.00,213.30 L121.00,213.60 L127.00,213.60Z" fill="#d6d6d6" stroke="#666" stroke-width="0.4" stroke-linejoin="round"/>
<path d="M102.00,213.60 L103.30,212.30 L105.20,209.80 L106.80,207.20 L108.40,204.50 L109.80,201.20 L111.10,198.00 L112.00,195.00 L112.70,191.60 L113.80,188.00" fill="none" stroke="#333" stroke-width="0.4" stroke-linejoin="round"/>
<line x1="99.50" y1="213.60" x2="132.70" y2="213.60" stroke="#aaa" stroke-width="0.5" />
<rect x="99.00" y="180.30" width="34.20" height="33.90" stroke="#555" stroke-width="0.65" fill="none" />
<line x1="97.70" y1="183.69" x2="99.00" y2="183.69" stroke="#888" stroke-width="0.4" />
<rect x="95.20" y="182.69" width="1.4" height="2" fill="#d4d4d4"/>
<line x1="97.70" y1="190.47" x2="99.00" y2="190.47" stroke="#888" stroke-width="0.4" />
<rect x="95.20" y="189.47" width="1.4" height="2" fill="#d4d4d4"/>
<line x1="97.70" y1="197.25" x2="99.00" y2="197.25" stroke="#888" stroke-width="0.4" />
<rect x="95.20" y="196.25" width="1.4" height="2" fill="#d4d4d4"/>
<line x1="97.70" y1="204.03" x2="99.00" y2="204.03" stroke="#888" stroke-width="0.4" />
<rect x="95.20" y="203.03" width="1.4" height="2" fill="#d4d4d4"/>
<line x1="97.70" y1="210.81" x2="99.00" y2="210.81" stroke="#888" stroke-width="0.4" />
<rect x="95.20" y="209.81" width="1.4" height="2" fill="#d4d4d4"/>
<line x1="107.55" y1="214.20" x2="107.55" y2="215.40" stroke="#888" stroke-width="0.4" />
<rect x="106.35" y="216.20" width="2.4" height="1.3" fill="#d4d4d4"/>
<line x1="114.88" y1="214.20" x2="114.88" y2="215.40" stroke="#888" stroke-width="0.4" />
<rect x="113.68" y="216.20" width="2.4" height="1.3" fill="#d4d4d4"/>
<line x1="122.21" y1="214.20" x2="122.21" y2="215.40" stroke="#888" stroke-width="0.4" />
<rect x="121.01" y="216.20" width="2.4" height="1.3" fill="#d4d4d4"/>
<line x1="129.54" y1="214.20" x2="129.54" y2="215.40" stroke="#888" stroke-width="0.4" />
<rect x="128.34" y="216.20" width="2.4" height="1.3" fill="#d4d4d4"/>
<path d="M106.30,250.30 L108.00,250.00 L109.50,249.50 L110.70,248.00 L111.60,245.70 L112.20,242.00 L112.70,238.30 L113.30,234.00 L113.80,229.70 L115.00,223.80 L115.60,226.50 L116.10,229.70 L116.80,234.00 L117.50,238.30 L118.00,242.00 L118.60,245.70 L119.30,248.00 L120.20,249.50 L122.00,250.20 L127.00,250.30Z" fill="#d6d6d6" stroke="#666" stroke-width="0.4" stroke-linejoin="round"/>
<path d="M102.50,250.30 L104.00,249.30 L105.20,247.90 L106.80,246.30 L108.40,244.70 L110.00,242.20 L111.10,239.30 L112.00,236.00 L112.70,232.90 L113.50,229.00 L114.30,225.40" fill="none" stroke="#333" stroke-width="0.4" stroke-linejoin="round"/>
<line x1="99.80" y1="250.30" x2="132.50" y2="250.30" stroke="#aaa" stroke-width="0.5" />
<rect x="99.30" y="220.00" width="33.70" height="30.90" stroke="#555" stroke-width="0.65" fill="none" />
<line x1="98.00" y1="223.09" x2="99.30" y2="223.09" stroke="#888" stroke-width="0.4" />
<rect x="95.50" y="222.09" width="1.4" height="2" fill="#d4d4d4"/>
<line x1="98.00" y1="229.27" x2="99.30" y2="229.27" stroke="#888" stroke-width="0.4" />
<rect x="95.50" y="228.27" width="1.4" height="2" fill="#d4d4d4"/>
<line x1="98.00" y1="235.45" x2="99.30" y2="235.45" stroke="#888" stroke-width="0.4" />
<rect x="95.50" y="234.45" width="1.4" height="2" fill="#d4d4d4"/>
<line x1="98.00" y1="241.63" x2="99.30" y2="241.63" stroke="#888" stroke-width="0.4" />
<rect x="95.50" y="240.63" width="1.4" height="2" fill="#d4d4d4"/>
<line x1="98.00" y1="247.81" x2="99.30" y2="247.81" stroke="#888" stroke-width="0.4" />
<rect x="95.50" y="246.81" width="1.4" height="2" fill="#d4d4d4"/>
<line x1="107.72" y1="250.90" x2="107.72" y2="252.10" stroke="#888" stroke-width="0.4" />
<rect x="106.52" y="252.90" width="2.4" height="1.3" fill="#d4d4d4"/>
<line x1="114.95" y1="250.90" x2="114.95" y2="252.10" stroke="#888" stroke-width="0.4" />
<rect x="113.75" y="252.90" width="2.4" height="1.3" fill="#d4d4d4"/>
<line x1="122.17" y1="250.90" x2="122.17" y2="252.10" stroke="#888" stroke-width="0.4" />
<rect x="120.97" y="252.90" width="2.4" height="1.3" fill="#d4d4d4"/>
<line x1="129.39" y1="250.90" x2="129.39" y2="252.10" stroke="#888" stroke-width="0.4" />
<rect x="128.19" y="252.90" width="2.4" height="1.3" fill="#d4d4d4"/>
<path d="M98.4,258.5 L137.6,258.5 M134.0,255.9 L138.2,258.5 L134.0,261.1" stroke="#000" stroke-width="0.95" fill="none"/>
<text x="109.60" y="266.00" font-size="4.6" font-weight="bold" text-anchor="start" fill="#000" textLength="10.2" lengthAdjust="spacingAndGlyphs" stroke="#000" stroke-width="0.15" >IL1a</text>
<text x="136.10" y="22.30" font-size="5.5" font-weight="bold" text-anchor="start" fill="#000" textLength="13" lengthAdjust="spacingAndGlyphs" stroke="#000" stroke-width="0.15" >Mean</text>
<text x="136.10" y="28.50" font-size="5.5" font-weight="bold" text-anchor="start" fill="#000" textLength="28.9" lengthAdjust="spacingAndGlyphs" stroke="#000" stroke-width="0.15" >Isotype: 138</text>
<text x="136.10" y="34.60" font-size="5.5" font-weight="bold" text-anchor="start" fill="#000" textLength="22" lengthAdjust="spacingAndGlyphs" stroke="#000" stroke-width="0.15" >IL1a: 719</text>
<text x="136.10" y="65.10" font-size="5.5" font-weight="bold" text-anchor="start" fill="#000" textLength="13" lengthAdjust="spacingAndGlyphs" stroke="#000" stroke-width="0.15" >Mean</text>
<text x="136.10" y="71.30" font-size="5.5" font-weight="bold" text-anchor="start" fill="#000" textLength="17.5" lengthAdjust="spacingAndGlyphs" stroke="#000" stroke-width="0.15" >Isotype:</text>
<text x="136.10" y="77.30" font-size="5.5" font-weight="bold" text-anchor="start" fill="#000" textLength="10.4" lengthAdjust="spacingAndGlyphs" stroke="#000" stroke-width="0.15" >1460</text>
<text x="136.10" y="83.30" font-size="5.5" font-weight="bold" text-anchor="start" fill="#000" textLength="24" lengthAdjust="spacingAndGlyphs" stroke="#000" stroke-width="0.15" >IL1a: 3097</text>
<text x="136.10" y="107.50" font-size="5.5" font-weight="bold" text-anchor="start" fill="#000" textLength="13" lengthAdjust="spacingAndGlyphs" stroke="#000" stroke-width="0.15" >Mean</text>
<text x="136.10" y="113.80" font-size="5.5" font-weight="bold" text-anchor="start" fill="#000" textLength="28.8" lengthAdjust="spacingAndGlyphs" stroke="#000" stroke-width="0.15" >Isotype: 167</text>
<text x="136.10" y="119.80" font-size="5.5" font-weight="bold" text-anchor="start" fill="#000" textLength="24.6" lengthAdjust="spacingAndGlyphs" stroke="#000" stroke-width="0.15" >IL1a: 1578</text>
<text x="136.10" y="147.30" font-size="5.5" font-weight="bold" text-anchor="start" fill="#000" textLength="13" lengthAdjust="spacingAndGlyphs" stroke="#000" stroke-width="0.15" >Mean</text>
<text x="136.10" y="153.60" font-size="5.5" font-weight="bold" text-anchor="start" fill="#000" textLength="28.8" lengthAdjust="spacingAndGlyphs" stroke="#000" stroke-width="0.15" >Isotype: 356</text>
<text x="136.10" y="159.70" font-size="5.5" font-weight="bold" text-anchor="start" fill="#000" textLength="24.6" lengthAdjust="spacingAndGlyphs" stroke="#000" stroke-width="0.15" >IL1a: 3109</text>
<text x="136.10" y="192.90" font-size="5.5" font-weight="bold" text-anchor="start" fill="#000" textLength="13" lengthAdjust="spacingAndGlyphs" stroke="#000" stroke-width="0.15" >Mean</text>
<text x="136.10" y="199.80" font-size="5.5" font-weight="bold" text-anchor="start" fill="#000" textLength="30.6" lengthAdjust="spacingAndGlyphs" stroke="#000" stroke-width="0.15" >Isotype : 109</text>
<text x="136.10" y="205.80" font-size="5.5" font-weight="bold" text-anchor="start" fill="#000" textLength="22.2" lengthAdjust="spacingAndGlyphs" stroke="#000" stroke-width="0.15" >IL1a: 404</text>
<text x="136.10" y="230.70" font-size="5.5" font-weight="bold" text-anchor="start" fill="#000" textLength="13" lengthAdjust="spacingAndGlyphs" stroke="#000" stroke-width="0.15" >Mean</text>
<text x="136.10" y="237.10" font-size="5.5" font-weight="bold" text-anchor="start" fill="#000" textLength="17.5" lengthAdjust="spacingAndGlyphs" stroke="#000" stroke-width="0.15" >Isotype:</text>
<text x="136.10" y="242.90" font-size="5.5" font-weight="bold" text-anchor="start" fill="#000" textLength="8" lengthAdjust="spacingAndGlyphs" stroke="#000" stroke-width="0.15" >211</text>
<text x="136.10" y="249.30" font-size="5.5" font-weight="bold" text-anchor="start" fill="#000" textLength="22.2" lengthAdjust="spacingAndGlyphs" stroke="#000" stroke-width="0.15" >IL1a: 648</text>
<path d="M188.18,28.10 C188.68,26.80 193.63,27.87 196.25,27.90 C198.87,27.93 203.07,27.17 203.92,28.30 C204.76,29.43 202.40,32.63 201.29,34.70 C200.18,36.77 198.60,40.53 197.26,40.70 C195.91,40.87 194.73,37.80 193.22,35.70 C191.71,33.60 187.67,29.40 188.18,28.10Z" fill="#e4e4e4" filter="url(#b1)"/>
<path d="M187.84,28.16 C188.35,26.87 193.69,27.97 196.40,27.98 C199.11,28.00 203.27,27.12 204.11,28.26 C204.96,29.39 202.59,32.69 201.46,34.77 C200.33,36.85 198.70,40.57 197.35,40.73 C196.00,40.90 194.92,37.84 193.34,35.74 C191.75,33.65 187.33,29.46 187.84,28.16Z" fill="none" stroke="#aaa" stroke-width="0.3"/>
<path d="M189.78,29.22 C190.15,28.23 194.35,28.88 196.49,28.89 C198.63,28.89 202.05,28.34 202.64,29.23 C203.23,30.13 200.97,32.66 200.04,34.23 C199.10,35.80 197.99,38.57 197.03,38.66 C196.07,38.75 195.47,36.35 194.26,34.78 C193.06,33.20 189.41,30.20 189.78,29.22Z" fill="none" stroke="#aaa" stroke-width="0.3"/>
<path d="M192.11,29.85 C192.37,29.19 195.07,30.22 196.45,30.32 C197.84,30.42 200.01,29.82 200.41,30.45 C200.82,31.07 199.42,32.99 198.90,34.09 C198.38,35.19 197.96,37.02 197.29,37.05 C196.62,37.08 195.72,35.48 194.86,34.28 C193.99,33.08 191.84,30.51 192.11,29.85Z" fill="none" stroke="#aaa" stroke-width="0.3"/>
<path d="M193.61,30.98 C193.80,30.53 195.63,31.24 196.50,31.27 C197.37,31.30 198.54,30.83 198.83,31.17 C199.11,31.51 198.49,32.62 198.20,33.31 C197.91,34.01 197.55,35.24 197.08,35.35 C196.61,35.45 195.98,34.66 195.41,33.93 C194.83,33.20 193.43,31.42 193.61,30.98Z" fill="none" stroke="#aaa" stroke-width="0.3"/>
<ellipse cx="197.26" cy="28.70" rx="1.92" ry="0.96" fill="#888" filter="url(#b2)"/>
<path d="M182.40,13.30 L182.40,28.30 L213.50,28.30" stroke="#666" stroke-width="0.5" fill="none"/>
<line x1="182.40" y1="13.30" x2="213.50" y2="13.30" stroke="#999" stroke-width="0.4" />
<rect x="179.40" y="13.30" width="34.10" height="31.10" stroke="#777" stroke-width="0.6" fill="none" />
<text x="196.45" y="21.50" font-size="3.9" font-weight="normal" text-anchor="middle" fill="#444" >2.41</text>
<line x1="178.10" y1="17.19" x2="179.40" y2="17.19" stroke="#888" stroke-width="0.4" />
<rect x="175.60" y="16.19" width="1.4" height="2" fill="#d4d4d4"/>
<line x1="178.10" y1="24.96" x2="179.40" y2="24.96" stroke="#888" stroke-width="0.4" />
<rect x="175.60" y="23.96" width="1.4" height="2" fill="#d4d4d4"/>
<line x1="178.10" y1="32.74" x2="179.40" y2="32.74" stroke="#888" stroke-width="0.4" />
<rect x="175.60" y="31.74" width="1.4" height="2" fill="#d4d4d4"/>
<line x1="178.10" y1="40.51" x2="179.40" y2="40.51" stroke="#888" stroke-width="0.4" />
<rect x="175.60" y="39.51" width="1.4" height="2" fill="#d4d4d4"/>
<line x1="187.93" y1="44.40" x2="187.93" y2="45.60" stroke="#888" stroke-width="0.4" />
<rect x="186.73" y="46.40" width="2.4" height="1.3" fill="#d4d4d4"/>
<line x1="195.23" y1="44.40" x2="195.23" y2="45.60" stroke="#888" stroke-width="0.4" />
<rect x="194.03" y="46.40" width="2.4" height="1.3" fill="#d4d4d4"/>
<line x1="202.54" y1="44.40" x2="202.54" y2="45.60" stroke="#888" stroke-width="0.4" />
<rect x="201.34" y="46.40" width="2.4" height="1.3" fill="#d4d4d4"/>
<line x1="209.85" y1="44.40" x2="209.85" y2="45.60" stroke="#888" stroke-width="0.4" />
<rect x="208.65" y="46.40" width="2.4" height="1.3" fill="#d4d4d4"/>
<path d="M187.04,69.67 C188.20,68.61 192.74,68.61 193.98,69.67 C195.22,70.73 194.64,73.82 194.48,76.02 C194.31,78.22 193.90,81.88 192.99,82.86 C192.08,83.84 190.02,83.02 189.02,81.88 C188.03,80.74 187.37,78.06 187.04,76.02 C186.71,73.98 185.89,70.73 187.04,69.67Z" fill="#e4e4e4" filter="url(#b1)"/>
<path d="M187.34,69.57 C188.38,68.82 192.76,68.74 193.78,69.57 C194.81,70.40 194.11,73.56 193.48,74.55 C192.86,75.55 191.01,75.61 190.02,75.53 C189.02,75.45 187.98,75.06 187.54,74.07 C187.09,73.07 186.30,70.32 187.34,69.57Z" fill="#555" filter="url(#b1)"/>
<path d="M187.11,69.51 C188.28,68.50 192.84,68.82 194.01,69.93 C195.19,71.03 194.33,73.99 194.16,76.12 C193.99,78.26 193.88,81.78 192.98,82.71 C192.08,83.64 189.78,82.82 188.79,81.70 C187.79,80.57 187.28,78.00 187.00,75.97 C186.72,73.93 185.94,70.51 187.11,69.51Z" fill="none" stroke="#aaa" stroke-width="0.3"/>
<path d="M187.94,70.92 C188.88,70.07 192.36,70.18 193.35,71.06 C194.33,71.95 194.03,74.46 193.86,76.23 C193.68,78.00 193.04,80.97 192.31,81.67 C191.57,82.38 190.21,81.38 189.44,80.47 C188.67,79.55 187.95,77.76 187.70,76.17 C187.45,74.58 187.00,71.77 187.94,70.92Z" fill="none" stroke="#aaa" stroke-width="0.3"/>
<path d="M188.65,72.62 C189.26,72.07 191.71,72.13 192.38,72.74 C193.05,73.35 192.73,75.11 192.66,76.28 C192.59,77.45 192.42,79.25 191.95,79.75 C191.49,80.25 190.39,79.91 189.85,79.29 C189.31,78.68 188.93,77.18 188.73,76.06 C188.53,74.95 188.04,73.17 188.65,72.62Z" fill="none" stroke="#aaa" stroke-width="0.3"/>
<path d="M189.83,74.07 C190.17,73.74 191.24,73.97 191.55,74.24 C191.85,74.52 191.63,75.06 191.66,75.71 C191.69,76.36 192.03,77.80 191.72,78.14 C191.42,78.48 190.22,78.06 189.85,77.75 C189.48,77.43 189.52,76.87 189.52,76.26 C189.51,75.65 189.50,74.41 189.83,74.07Z" fill="none" stroke="#aaa" stroke-width="0.3"/>
<path d="M180.70,57.80 L180.70,69.20 L214.20,69.20" stroke="#666" stroke-width="0.5" fill="none"/>
<line x1="180.70" y1="57.80" x2="214.20" y2="57.80" stroke="#999" stroke-width="0.4" />
<rect x="180.50" y="55.40" width="33.70" height="30.10" stroke="#777" stroke-width="0.6" fill="none" />
<text x="197.45" y="64.13" font-size="3.9" font-weight="normal" text-anchor="middle" fill="#444" >5.13</text>
<line x1="179.20" y1="59.16" x2="180.50" y2="59.16" stroke="#888" stroke-width="0.4" />
<rect x="176.70" y="58.16" width="1.4" height="2" fill="#d4d4d4"/>
<line x1="179.20" y1="66.69" x2="180.50" y2="66.69" stroke="#888" stroke-width="0.4" />
<rect x="176.70" y="65.69" width="1.4" height="2" fill="#d4d4d4"/>
<line x1="179.20" y1="74.21" x2="180.50" y2="74.21" stroke="#888" stroke-width="0.4" />
<rect x="176.70" y="73.21" width="1.4" height="2" fill="#d4d4d4"/>
<line x1="179.20" y1="81.74" x2="180.50" y2="81.74" stroke="#888" stroke-width="0.4" />
<rect x="176.70" y="80.74" width="1.4" height="2" fill="#d4d4d4"/>
<line x1="188.93" y1="85.50" x2="188.93" y2="86.70" stroke="#888" stroke-width="0.4" />
<rect x="187.73" y="87.50" width="2.4" height="1.3" fill="#d4d4d4"/>
<line x1="196.15" y1="85.50" x2="196.15" y2="86.70" stroke="#888" stroke-width="0.4" />
<rect x="194.95" y="87.50" width="2.4" height="1.3" fill="#d4d4d4"/>
<line x1="203.37" y1="85.50" x2="203.37" y2="86.70" stroke="#888" stroke-width="0.4" />
<rect x="202.17" y="87.50" width="2.4" height="1.3" fill="#d4d4d4"/>
<line x1="210.59" y1="85.50" x2="210.59" y2="86.70" stroke="#888" stroke-width="0.4" />
<rect x="209.39" y="87.50" width="2.4" height="1.3" fill="#d4d4d4"/>
<path d="M185.05,112.65 C186.06,111.60 191.91,112.35 194.84,112.35 C197.76,112.35 201.59,111.68 202.60,112.65 C203.61,113.62 202.01,116.75 200.89,118.17 C199.76,119.59 197.86,121.09 195.84,121.18 C193.83,121.26 190.58,120.09 188.78,118.67 C186.98,117.25 184.04,113.70 185.05,112.65Z" fill="#e4e4e4" filter="url(#b1)"/>
<path d="M184.71,112.41 C185.62,111.29 191.53,112.00 194.49,112.04 C197.45,112.07 201.35,111.60 202.47,112.64 C203.59,113.68 202.28,116.84 201.22,118.27 C200.15,119.70 198.12,121.16 196.09,121.24 C194.07,121.33 190.97,120.26 189.07,118.79 C187.17,117.32 183.81,113.54 184.71,112.41Z" fill="none" stroke="#aaa" stroke-width="0.3"/>
<path d="M187.01,113.29 C187.78,112.47 192.43,112.86 194.78,112.87 C197.14,112.89 200.38,112.57 201.14,113.37 C201.89,114.17 200.19,116.59 199.30,117.67 C198.41,118.75 197.32,119.84 195.80,119.86 C194.27,119.87 191.62,118.87 190.15,117.78 C188.69,116.68 186.23,114.11 187.01,113.29Z" fill="none" stroke="#aaa" stroke-width="0.3"/>
<path d="M189.14,113.89 C189.65,113.34 193.14,114.02 194.76,114.08 C196.39,114.14 198.32,113.70 198.89,114.25 C199.45,114.79 198.72,116.61 198.18,117.36 C197.65,118.10 196.74,118.72 195.67,118.74 C194.60,118.75 192.83,118.23 191.75,117.43 C190.66,116.62 188.64,114.45 189.14,113.89Z" fill="none" stroke="#aaa" stroke-width="0.3"/>
<path d="M191.47,114.62 C191.73,114.29 193.51,114.86 194.43,114.85 C195.36,114.83 196.70,114.21 197.03,114.52 C197.37,114.83 196.81,116.21 196.45,116.71 C196.09,117.22 195.44,117.51 194.85,117.52 C194.25,117.54 193.46,117.30 192.89,116.81 C192.33,116.33 191.21,114.95 191.47,114.62Z" fill="none" stroke="#aaa" stroke-width="0.3"/>
<ellipse cx="197.86" cy="113.15" rx="2.08" ry="1.04" fill="#666" filter="url(#b2)"/>
<ellipse cx="196.85" cy="117.16" rx="1.92" ry="0.96" fill="#999" filter="url(#b2)"/>
<path d="M182.40,99.40 L182.40,112.20 L213.80,112.20" stroke="#666" stroke-width="0.5" fill="none"/>
<line x1="182.40" y1="99.40" x2="213.80" y2="99.40" stroke="#999" stroke-width="0.4" />
<rect x="179.20" y="98.30" width="34.60" height="29.20" stroke="#777" stroke-width="0.6" fill="none" />
<text x="197.36" y="105.42" font-size="3.9" font-weight="normal" text-anchor="middle" fill="#444" >2.12</text>
<line x1="177.90" y1="101.95" x2="179.20" y2="101.95" stroke="#888" stroke-width="0.4" />
<rect x="175.40" y="100.95" width="1.4" height="2" fill="#d4d4d4"/>
<line x1="177.90" y1="109.25" x2="179.20" y2="109.25" stroke="#888" stroke-width="0.4" />
<rect x="175.40" y="108.25" width="1.4" height="2" fill="#d4d4d4"/>
<line x1="177.90" y1="116.55" x2="179.20" y2="116.55" stroke="#888" stroke-width="0.4" />
<rect x="175.40" y="115.55" width="1.4" height="2" fill="#d4d4d4"/>
<line x1="177.90" y1="123.85" x2="179.20" y2="123.85" stroke="#888" stroke-width="0.4" />
<rect x="175.40" y="122.85" width="1.4" height="2" fill="#d4d4d4"/>
<line x1="187.85" y1="127.50" x2="187.85" y2="128.70" stroke="#888" stroke-width="0.4" />
<rect x="186.65" y="129.50" width="2.4" height="1.3" fill="#d4d4d4"/>
<line x1="195.26" y1="127.50" x2="195.26" y2="128.70" stroke="#888" stroke-width="0.4" />
<rect x="194.06" y="129.50" width="2.4" height="1.3" fill="#d4d4d4"/>
<line x1="202.68" y1="127.50" x2="202.68" y2="128.70" stroke="#888" stroke-width="0.4" />
<rect x="201.48" y="129.50" width="2.4" height="1.3" fill="#d4d4d4"/>
<line x1="210.09" y1="127.50" x2="210.09" y2="128.70" stroke="#888" stroke-width="0.4" />
<rect x="208.89" y="129.50" width="2.4" height="1.3" fill="#d4d4d4"/>
<path d="M185.25,152.37 C186.07,151.23 189.94,150.89 192.86,150.64 C195.77,150.38 200.17,150.38 202.74,150.84 C205.31,151.30 208.11,152.12 208.27,153.39 C208.43,154.66 205.96,157.47 203.73,158.49 C201.49,159.51 197.47,159.68 194.83,159.51 C192.20,159.34 189.52,158.66 187.92,157.47 C186.32,156.28 184.43,153.51 185.25,152.37Z" fill="#e4e4e4" filter="url(#b1)"/>
<path d="M185.00,152.50 C185.93,151.37 190.25,150.99 193.20,150.72 C196.15,150.45 200.16,150.38 202.70,150.87 C205.23,151.35 208.21,152.39 208.41,153.63 C208.62,154.87 206.16,157.38 203.93,158.31 C201.69,159.25 197.74,159.37 195.03,159.23 C192.32,159.09 189.33,158.60 187.66,157.47 C185.99,156.35 184.08,153.62 185.00,152.50Z" fill="none" stroke="#aaa" stroke-width="0.3"/>
<path d="M187.53,152.93 C188.13,152.04 191.22,152.01 193.52,151.84 C195.81,151.68 199.23,151.61 201.31,151.91 C203.38,152.21 205.80,152.69 205.97,153.64 C206.14,154.60 204.12,156.88 202.31,157.63 C200.51,158.39 197.20,158.25 195.14,158.17 C193.07,158.09 191.21,158.02 189.94,157.14 C188.67,156.27 186.94,153.81 187.53,152.93Z" fill="none" stroke="#aaa" stroke-width="0.3"/>
<path d="M190.39,153.27 C190.86,152.65 192.92,152.42 194.50,152.33 C196.08,152.24 198.53,152.47 199.89,152.73 C201.26,153.00 202.59,153.31 202.70,153.95 C202.80,154.58 201.69,156.00 200.53,156.54 C199.37,157.08 197.22,157.27 195.74,157.19 C194.27,157.10 192.56,156.70 191.67,156.05 C190.78,155.40 189.92,153.89 190.39,153.27Z" fill="none" stroke="#aaa" stroke-width="0.3"/>
<path d="M192.83,153.86 C193.10,153.51 194.43,153.35 195.42,153.27 C196.42,153.20 198.00,153.27 198.79,153.43 C199.58,153.59 200.16,153.84 200.16,154.24 C200.15,154.63 199.39,155.46 198.74,155.80 C198.10,156.14 197.09,156.34 196.27,156.27 C195.45,156.20 194.39,155.77 193.82,155.36 C193.24,154.96 192.56,154.20 192.83,153.86Z" fill="none" stroke="#aaa" stroke-width="0.3"/>
<path d="M181.20,138.20 L181.20,152.80 L214.00,152.80" stroke="#666" stroke-width="0.5" fill="none"/>
<line x1="181.20" y1="138.20" x2="214.00" y2="138.20" stroke="#999" stroke-width="0.4" />
<rect x="181.20" y="138.20" width="32.80" height="31.40" stroke="#777" stroke-width="0.6" fill="none" />
<text x="197.90" y="146.53" font-size="4.0" font-weight="bold" text-anchor="middle" fill="#222" stroke="#222" stroke-width="0.15" >11.48</text>
<line x1="179.90" y1="142.12" x2="181.20" y2="142.12" stroke="#888" stroke-width="0.4" />
<rect x="177.40" y="141.12" width="1.4" height="2" fill="#d4d4d4"/>
<line x1="179.90" y1="149.97" x2="181.20" y2="149.97" stroke="#888" stroke-width="0.4" />
<rect x="177.40" y="148.97" width="1.4" height="2" fill="#d4d4d4"/>
<line x1="179.90" y1="157.82" x2="181.20" y2="157.82" stroke="#888" stroke-width="0.4" />
<rect x="177.40" y="156.82" width="1.4" height="2" fill="#d4d4d4"/>
<line x1="179.90" y1="165.67" x2="181.20" y2="165.67" stroke="#888" stroke-width="0.4" />
<rect x="177.40" y="164.67" width="1.4" height="2" fill="#d4d4d4"/>
<line x1="189.40" y1="169.60" x2="189.40" y2="170.80" stroke="#888" stroke-width="0.4" />
<rect x="188.20" y="171.60" width="2.4" height="1.3" fill="#d4d4d4"/>
<line x1="196.43" y1="169.60" x2="196.43" y2="170.80" stroke="#888" stroke-width="0.4" />
<rect x="195.23" y="171.60" width="2.4" height="1.3" fill="#d4d4d4"/>
<line x1="203.46" y1="169.60" x2="203.46" y2="170.80" stroke="#888" stroke-width="0.4" />
<rect x="202.26" y="171.60" width="2.4" height="1.3" fill="#d4d4d4"/>
<line x1="210.49" y1="169.60" x2="210.49" y2="170.80" stroke="#888" stroke-width="0.4" />
<rect x="209.29" y="171.60" width="2.4" height="1.3" fill="#d4d4d4"/>
<path d="M194.63,195.66 C195.45,194.86 198.25,195.40 199.97,195.46 C201.68,195.51 204.25,195.00 204.91,195.97 C205.57,196.94 204.58,199.48 203.92,201.29 C203.26,203.10 202.19,206.31 200.96,206.82 C199.72,207.33 197.50,205.45 196.51,204.36 C195.52,203.27 195.34,201.72 195.03,200.27 C194.71,198.82 193.81,196.46 194.63,195.66Z" fill="#e4e4e4" filter="url(#b1)"/>
<path d="M194.72,195.39 C195.48,194.60 198.13,195.05 199.77,195.20 C201.42,195.34 203.83,195.25 204.58,196.25 C205.32,197.25 204.91,199.41 204.25,201.20 C203.59,202.99 201.89,206.51 200.62,206.98 C199.34,207.46 197.52,205.21 196.62,204.04 C195.72,202.87 195.53,201.41 195.21,199.96 C194.90,198.52 193.96,196.19 194.72,195.39Z" fill="none" stroke="#aaa" stroke-width="0.3"/>
<path d="M195.51,196.81 C196.17,196.16 198.67,196.23 200.03,196.27 C201.40,196.32 203.20,196.28 203.69,197.07 C204.19,197.86 203.54,199.69 202.99,201.02 C202.44,202.34 201.40,204.60 200.39,204.99 C199.38,205.39 197.66,204.21 196.94,203.40 C196.22,202.60 196.31,201.27 196.07,200.17 C195.83,199.08 194.85,197.46 195.51,196.81Z" fill="none" stroke="#aaa" stroke-width="0.3"/>
<path d="M196.85,197.62 C197.36,197.21 198.85,197.38 199.83,197.40 C200.80,197.43 202.31,197.16 202.71,197.77 C203.10,198.38 202.55,200.01 202.19,201.05 C201.82,202.08 201.21,203.73 200.50,203.97 C199.79,204.20 198.55,203.13 197.93,202.45 C197.32,201.76 196.98,200.66 196.80,199.86 C196.62,199.05 196.35,198.03 196.85,197.62Z" fill="none" stroke="#aaa" stroke-width="0.3"/>
<path d="M197.93,198.36 C198.23,198.11 199.11,198.46 199.68,198.50 C200.24,198.54 201.15,198.29 201.32,198.59 C201.50,198.88 200.95,199.62 200.74,200.28 C200.53,200.93 200.47,202.35 200.07,202.53 C199.67,202.70 198.68,201.72 198.32,201.31 C197.96,200.89 197.98,200.51 197.92,200.02 C197.85,199.53 197.64,198.61 197.93,198.36Z" fill="none" stroke="#aaa" stroke-width="0.3"/>
<ellipse cx="199.77" cy="195.87" rx="1.76" ry="0.88" fill="#888" filter="url(#b2)"/>
<path d="M184.10,181.70 L184.10,195.30 L213.80,195.30" stroke="#666" stroke-width="0.5" fill="none"/>
<line x1="184.10" y1="181.70" x2="213.80" y2="181.70" stroke="#999" stroke-width="0.4" />
<rect x="180.30" y="180.00" width="33.90" height="30.40" stroke="#777" stroke-width="0.6" fill="none" />
<text x="198.09" y="188.46" font-size="4.0" font-weight="bold" text-anchor="middle" fill="#222" stroke="#222" stroke-width="0.15" >9.62</text>
<line x1="179.00" y1="183.80" x2="180.30" y2="183.80" stroke="#888" stroke-width="0.4" />
<rect x="176.50" y="182.80" width="1.4" height="2" fill="#d4d4d4"/>
<line x1="179.00" y1="191.40" x2="180.30" y2="191.40" stroke="#888" stroke-width="0.4" />
<rect x="176.50" y="190.40" width="1.4" height="2" fill="#d4d4d4"/>
<line x1="179.00" y1="199.00" x2="180.30" y2="199.00" stroke="#888" stroke-width="0.4" />
<rect x="176.50" y="198.00" width="1.4" height="2" fill="#d4d4d4"/>
<line x1="179.00" y1="206.60" x2="180.30" y2="206.60" stroke="#888" stroke-width="0.4" />
<rect x="176.50" y="205.60" width="1.4" height="2" fill="#d4d4d4"/>
<line x1="188.78" y1="210.40" x2="188.78" y2="211.60" stroke="#888" stroke-width="0.4" />
<rect x="187.58" y="212.40" width="2.4" height="1.3" fill="#d4d4d4"/>
<line x1="196.04" y1="210.40" x2="196.04" y2="211.60" stroke="#888" stroke-width="0.4" />
<rect x="194.84" y="212.40" width="2.4" height="1.3" fill="#d4d4d4"/>
<line x1="203.30" y1="210.40" x2="203.30" y2="211.60" stroke="#888" stroke-width="0.4" />
<rect x="202.10" y="212.40" width="2.4" height="1.3" fill="#d4d4d4"/>
<line x1="210.57" y1="210.40" x2="210.57" y2="211.60" stroke="#888" stroke-width="0.4" />
<rect x="209.37" y="212.40" width="2.4" height="1.3" fill="#d4d4d4"/>
<path d="M185.86,237.39 C186.70,236.26 192.68,237.09 195.85,237.09 C199.01,237.09 203.82,236.26 204.83,237.39 C205.84,238.52 203.06,241.68 201.90,243.88 C200.74,246.07 199.71,250.56 197.86,250.56 C196.01,250.56 192.80,246.07 190.80,243.88 C188.80,241.68 185.02,238.52 185.86,237.39Z" fill="#e4e4e4" filter="url(#b1)"/>
<path d="M185.95,237.57 C186.78,236.49 192.86,237.28 196.03,237.31 C199.21,237.33 204.01,236.63 204.98,237.72 C205.96,238.81 203.03,241.72 201.86,243.84 C200.70,245.96 199.78,250.44 197.97,250.43 C196.16,250.43 193.04,245.96 191.03,243.82 C189.03,241.68 185.12,238.66 185.95,237.57Z" fill="none" stroke="#aaa" stroke-width="0.3"/>
<path d="M188.19,238.36 C188.80,237.45 193.40,237.78 195.83,237.77 C198.25,237.77 201.90,237.44 202.75,238.33 C203.60,239.23 201.78,241.37 200.95,243.14 C200.12,244.90 199.23,248.91 197.77,248.93 C196.32,248.94 193.80,245.00 192.20,243.24 C190.60,241.48 187.59,239.27 188.19,238.36Z" fill="none" stroke="#aaa" stroke-width="0.3"/>
<path d="M190.11,239.57 C190.57,238.93 193.83,239.02 195.69,239.00 C197.56,238.97 200.64,238.74 201.29,239.43 C201.94,240.12 200.32,241.94 199.59,243.14 C198.85,244.34 198.00,246.68 196.89,246.63 C195.78,246.57 194.04,244.00 192.91,242.82 C191.78,241.65 189.65,240.21 190.11,239.57Z" fill="none" stroke="#aaa" stroke-width="0.3"/>
<path d="M192.74,240.49 C193.00,240.08 194.91,240.34 195.92,240.28 C196.94,240.21 198.50,239.73 198.81,240.09 C199.12,240.46 198.11,241.70 197.78,242.48 C197.44,243.27 197.38,244.76 196.80,244.80 C196.23,244.84 195.01,243.45 194.33,242.73 C193.66,242.01 192.47,240.89 192.74,240.49Z" fill="none" stroke="#aaa" stroke-width="0.3"/>
<ellipse cx="198.77" cy="237.39" rx="1.92" ry="0.96" fill="#666" filter="url(#b2)"/>
<path d="M182.40,225.40 L182.40,237.20 L213.00,237.20" stroke="#666" stroke-width="0.5" fill="none"/>
<line x1="182.40" y1="225.40" x2="213.00" y2="225.40" stroke="#999" stroke-width="0.4" />
<rect x="179.50" y="222.60" width="33.50" height="30.70" stroke="#777" stroke-width="0.6" fill="none" />
<text x="196.05" y="231.20" font-size="3.9" font-weight="normal" text-anchor="middle" fill="#444" >2.62</text>
<line x1="178.20" y1="226.44" x2="179.50" y2="226.44" stroke="#888" stroke-width="0.4" />
<rect x="175.70" y="225.44" width="1.4" height="2" fill="#d4d4d4"/>
<line x1="178.20" y1="234.11" x2="179.50" y2="234.11" stroke="#888" stroke-width="0.4" />
<rect x="175.70" y="233.11" width="1.4" height="2" fill="#d4d4d4"/>
<line x1="178.20" y1="241.79" x2="179.50" y2="241.79" stroke="#888" stroke-width="0.4" />
<rect x="175.70" y="240.79" width="1.4" height="2" fill="#d4d4d4"/>
<line x1="178.20" y1="249.46" x2="179.50" y2="249.46" stroke="#888" stroke-width="0.4" />
<rect x="175.70" y="248.46" width="1.4" height="2" fill="#d4d4d4"/>
<line x1="187.88" y1="253.30" x2="187.88" y2="254.50" stroke="#888" stroke-width="0.4" />
<rect x="186.68" y="255.30" width="2.4" height="1.3" fill="#d4d4d4"/>
<line x1="195.05" y1="253.30" x2="195.05" y2="254.50" stroke="#888" stroke-width="0.4" />
<rect x="193.85" y="255.30" width="2.4" height="1.3" fill="#d4d4d4"/>
<line x1="202.23" y1="253.30" x2="202.23" y2="254.50" stroke="#888" stroke-width="0.4" />
<rect x="201.03" y="255.30" width="2.4" height="1.3" fill="#d4d4d4"/>
<line x1="209.41" y1="253.30" x2="209.41" y2="254.50" stroke="#888" stroke-width="0.4" />
<rect x="208.21" y="255.30" width="2.4" height="1.3" fill="#d4d4d4"/>
<path d="M250.05,29.69 C250.54,28.44 255.18,29.46 258.00,29.49 C260.82,29.52 265.95,28.65 266.95,29.89 C267.94,31.14 265.13,34.62 263.97,36.98 C262.81,39.34 261.48,44.06 259.99,44.06 C258.50,44.06 256.67,39.37 255.02,36.98 C253.36,34.58 249.55,30.94 250.05,29.69Z" fill="#e4e4e4" filter="url(#b1)"/>
<path d="M250.20,29.74 C250.69,28.46 255.49,29.23 258.26,29.27 C261.03,29.30 265.84,28.59 266.80,29.93 C267.77,31.27 265.15,34.99 264.04,37.30 C262.92,39.60 261.57,43.80 260.11,43.74 C258.66,43.69 256.98,39.29 255.33,36.95 C253.68,34.62 249.71,31.02 250.20,29.74Z" fill="none" stroke="#aaa" stroke-width="0.3"/>
<path d="M251.83,30.95 C252.27,30.05 256.08,30.89 258.31,30.85 C260.54,30.82 264.46,29.82 265.22,30.75 C265.97,31.68 263.77,34.53 262.84,36.41 C261.91,38.28 260.86,42.02 259.66,42.00 C258.47,41.97 256.96,38.10 255.66,36.26 C254.35,34.42 251.39,31.85 251.83,30.95Z" fill="none" stroke="#aaa" stroke-width="0.3"/>
<path d="M253.76,31.50 C254.05,30.80 256.86,31.77 258.46,31.89 C260.06,32.01 262.78,31.55 263.35,32.23 C263.91,32.91 262.49,34.68 261.83,35.99 C261.17,37.30 260.26,40.08 259.40,40.10 C258.54,40.12 257.62,37.56 256.68,36.12 C255.74,34.69 253.46,32.21 253.76,31.50Z" fill="none" stroke="#aaa" stroke-width="0.3"/>
<path d="M255.83,33.22 C256.06,32.78 257.79,32.70 258.79,32.61 C259.79,32.53 261.51,32.29 261.81,32.73 C262.10,33.17 261.00,34.44 260.57,35.25 C260.14,36.06 259.73,37.60 259.21,37.60 C258.69,37.60 257.99,36.00 257.43,35.27 C256.87,34.54 255.61,33.67 255.83,33.22Z" fill="none" stroke="#aaa" stroke-width="0.3"/>
<ellipse cx="258.00" cy="30.10" rx="1.92" ry="0.96" fill="#888" filter="url(#b2)"/>
<path d="M243.20,13.30 L243.20,29.80 L275.50,29.80" stroke="#666" stroke-width="0.5" fill="none"/>
<line x1="243.20" y1="13.30" x2="275.50" y2="13.30" stroke="#999" stroke-width="0.4" />
<rect x="240.40" y="13.30" width="35.10" height="34.20" stroke="#777" stroke-width="0.6" fill="none" />
<text x="258.00" y="20.77" font-size="3.9" font-weight="normal" text-anchor="middle" fill="#444" >7.55</text>
<line x1="239.10" y1="17.58" x2="240.40" y2="17.58" stroke="#888" stroke-width="0.4" />
<rect x="236.60" y="16.58" width="1.4" height="2" fill="#d4d4d4"/>
<line x1="239.10" y1="26.12" x2="240.40" y2="26.12" stroke="#888" stroke-width="0.4" />
<rect x="236.60" y="25.12" width="1.4" height="2" fill="#d4d4d4"/>
<line x1="239.10" y1="34.67" x2="240.40" y2="34.67" stroke="#888" stroke-width="0.4" />
<rect x="236.60" y="33.67" width="1.4" height="2" fill="#d4d4d4"/>
<line x1="239.10" y1="43.23" x2="240.40" y2="43.23" stroke="#888" stroke-width="0.4" />
<rect x="236.60" y="42.23" width="1.4" height="2" fill="#d4d4d4"/>
<line x1="249.18" y1="47.50" x2="249.18" y2="48.70" stroke="#888" stroke-width="0.4" />
<rect x="247.98" y="49.50" width="2.4" height="1.3" fill="#d4d4d4"/>
<line x1="256.70" y1="47.50" x2="256.70" y2="48.70" stroke="#888" stroke-width="0.4" />
<rect x="255.50" y="49.50" width="2.4" height="1.3" fill="#d4d4d4"/>
<line x1="264.22" y1="47.50" x2="264.22" y2="48.70" stroke="#888" stroke-width="0.4" />
<rect x="263.02" y="49.50" width="2.4" height="1.3" fill="#d4d4d4"/>
<line x1="271.74" y1="47.50" x2="271.74" y2="48.70" stroke="#888" stroke-width="0.4" />
<rect x="270.54" y="49.50" width="2.4" height="1.3" fill="#d4d4d4"/>
<path d="M244.56,72.00 C245.40,70.51 249.80,71.61 252.67,71.69 C255.54,71.78 260.62,71.19 261.80,72.50 C262.98,73.82 260.95,77.40 259.77,79.59 C258.59,81.78 256.73,85.49 254.70,85.66 C252.67,85.83 249.29,82.88 247.60,80.60 C245.91,78.32 243.71,73.48 244.56,72.00Z" fill="#e4e4e4" filter="url(#b1)"/>
<path d="M245.06,71.79 C246.31,71.32 252.82,71.27 254.09,71.69 C255.36,72.12 253.92,73.85 252.67,74.33 C251.42,74.80 247.85,74.95 246.58,74.53 C245.32,74.11 243.81,72.27 245.06,71.79Z" fill="#444" filter="url(#b1)"/>
<path d="M244.27,72.20 C245.05,70.75 249.66,71.74 252.57,71.84 C255.48,71.95 260.50,71.52 261.75,72.84 C262.99,74.15 261.17,77.55 260.04,79.73 C258.90,81.92 256.96,85.82 254.94,85.95 C252.92,86.09 249.68,82.83 247.90,80.54 C246.12,78.25 243.49,73.65 244.27,72.20Z" fill="none" stroke="#aaa" stroke-width="0.3"/>
<path d="M246.61,72.81 C247.21,71.62 250.52,72.70 252.76,72.75 C255.00,72.81 259.08,72.17 260.04,73.16 C261.01,74.15 259.50,76.96 258.56,78.72 C257.62,80.48 255.95,83.53 254.38,83.73 C252.81,83.93 250.45,81.72 249.15,79.90 C247.86,78.08 246.01,74.00 246.61,72.81Z" fill="none" stroke="#aaa" stroke-width="0.3"/>
<path d="M248.29,74.34 C248.75,73.56 251.23,74.06 252.86,74.14 C254.49,74.22 257.37,74.13 258.06,74.82 C258.74,75.52 257.62,77.06 256.96,78.28 C256.29,79.50 255.18,82.05 254.04,82.14 C252.90,82.23 251.08,80.12 250.12,78.82 C249.16,77.52 247.84,75.12 248.29,74.34Z" fill="none" stroke="#aaa" stroke-width="0.3"/>
<path d="M250.55,75.46 C250.94,74.95 252.61,74.91 253.54,74.94 C254.48,74.98 255.82,75.15 256.16,75.66 C256.50,76.17 255.95,77.34 255.60,78.00 C255.24,78.66 254.76,79.61 254.03,79.61 C253.30,79.60 251.81,78.67 251.23,77.98 C250.65,77.29 250.17,75.96 250.55,75.46Z" fill="none" stroke="#aaa" stroke-width="0.3"/>
<path d="M240.60,57.40 L240.60,71.20 L276.00,71.20" stroke="#666" stroke-width="0.5" fill="none"/>
<line x1="240.60" y1="57.40" x2="276.00" y2="57.40" stroke="#999" stroke-width="0.4" />
<rect x="240.60" y="55.80" width="35.40" height="32.90" stroke="#777" stroke-width="0.6" fill="none" />
<text x="258.76" y="65.30" font-size="4.6" font-weight="bold" text-anchor="middle" fill="#222" stroke="#222" stroke-width="0.15" style="font-family:&quot;Liberation Serif&quot;,serif">11.29</text>
<line x1="239.30" y1="59.91" x2="240.60" y2="59.91" stroke="#888" stroke-width="0.4" />
<rect x="236.80" y="58.91" width="1.4" height="2" fill="#d4d4d4"/>
<line x1="239.30" y1="68.14" x2="240.60" y2="68.14" stroke="#888" stroke-width="0.4" />
<rect x="236.80" y="67.14" width="1.4" height="2" fill="#d4d4d4"/>
<line x1="239.30" y1="76.36" x2="240.60" y2="76.36" stroke="#888" stroke-width="0.4" />
<rect x="236.80" y="75.36" width="1.4" height="2" fill="#d4d4d4"/>
<line x1="239.30" y1="84.59" x2="240.60" y2="84.59" stroke="#888" stroke-width="0.4" />
<rect x="236.80" y="83.59" width="1.4" height="2" fill="#d4d4d4"/>
<line x1="249.45" y1="88.70" x2="249.45" y2="89.90" stroke="#888" stroke-width="0.4" />
<rect x="248.25" y="90.70" width="2.4" height="1.3" fill="#d4d4d4"/>
<line x1="257.04" y1="88.70" x2="257.04" y2="89.90" stroke="#888" stroke-width="0.4" />
<rect x="255.84" y="90.70" width="2.4" height="1.3" fill="#d4d4d4"/>
<line x1="264.62" y1="88.70" x2="264.62" y2="89.90" stroke="#888" stroke-width="0.4" />
<rect x="263.42" y="90.70" width="2.4" height="1.3" fill="#d4d4d4"/>
<line x1="272.21" y1="88.70" x2="272.21" y2="89.90" stroke="#888" stroke-width="0.4" />
<rect x="271.01" y="90.70" width="2.4" height="1.3" fill="#d4d4d4"/>
<path d="M244.37,111.75 C244.70,110.61 250.30,111.63 253.26,111.65 C256.23,111.67 261.00,110.71 262.16,111.85 C263.31,112.99 260.84,116.30 260.18,118.47 C259.52,120.64 259.69,124.89 258.20,124.89 C256.72,124.89 253.59,120.66 251.28,118.47 C248.98,116.28 244.04,112.89 244.37,111.75Z" fill="#e4e4e4" filter="url(#b1)"/>
<path d="M244.23,111.53 C244.58,110.39 250.18,111.32 253.11,111.38 C256.04,111.44 260.62,110.73 261.82,111.87 C263.03,113.01 261.01,116.03 260.36,118.23 C259.71,120.43 259.48,125.05 257.92,125.05 C256.36,125.05 253.27,120.47 250.99,118.22 C248.71,115.96 243.88,112.67 244.23,111.53Z" fill="none" stroke="#aaa" stroke-width="0.3"/>
<path d="M246.70,112.59 C247.04,111.72 251.52,112.64 253.83,112.66 C256.14,112.68 259.75,111.80 260.56,112.72 C261.37,113.65 259.21,116.44 258.68,118.19 C258.15,119.93 258.54,123.23 257.39,123.18 C256.25,123.14 253.60,119.68 251.81,117.91 C250.03,116.15 246.37,113.47 246.70,112.59Z" fill="none" stroke="#aaa" stroke-width="0.3"/>
<path d="M249.08,113.48 C249.25,112.88 252.00,113.86 253.70,113.97 C255.39,114.08 258.55,113.52 259.24,114.12 C259.94,114.73 258.27,116.47 257.87,117.62 C257.46,118.76 257.68,121.01 256.81,121.00 C255.94,120.99 253.95,118.81 252.67,117.55 C251.38,116.30 248.91,114.07 249.08,113.48Z" fill="none" stroke="#aaa" stroke-width="0.3"/>
<path d="M251.35,114.83 C251.44,114.44 253.09,114.51 254.04,114.53 C254.99,114.54 256.62,114.54 257.05,114.92 C257.49,115.30 256.79,116.10 256.65,116.79 C256.51,117.49 256.72,119.09 256.20,119.10 C255.69,119.11 254.36,117.58 253.55,116.87 C252.75,116.16 251.27,115.22 251.35,114.83Z" fill="none" stroke="#aaa" stroke-width="0.3"/>
<ellipse cx="260.48" cy="112.05" rx="2.08" ry="1.04" fill="#666" filter="url(#b2)"/>
<path d="M243.80,96.00 L243.80,111.00 L275.40,111.00" stroke="#666" stroke-width="0.5" fill="none"/>
<line x1="243.80" y1="96.00" x2="275.40" y2="96.00" stroke="#999" stroke-width="0.4" />
<rect x="241.50" y="95.10" width="33.90" height="33.30" stroke="#777" stroke-width="0.6" fill="none" />
<text x="259.29" y="104.62" font-size="4.6" font-weight="bold" text-anchor="middle" fill="#222" stroke="#222" stroke-width="0.15" style="font-family:&quot;Liberation Serif&quot;,serif">6.28</text>
<line x1="240.20" y1="99.26" x2="241.50" y2="99.26" stroke="#888" stroke-width="0.4" />
<rect x="237.70" y="98.26" width="1.4" height="2" fill="#d4d4d4"/>
<line x1="240.20" y1="107.59" x2="241.50" y2="107.59" stroke="#888" stroke-width="0.4" />
<rect x="237.70" y="106.59" width="1.4" height="2" fill="#d4d4d4"/>
<line x1="240.20" y1="115.91" x2="241.50" y2="115.91" stroke="#888" stroke-width="0.4" />
<rect x="237.70" y="114.91" width="1.4" height="2" fill="#d4d4d4"/>
<line x1="240.20" y1="124.24" x2="241.50" y2="124.24" stroke="#888" stroke-width="0.4" />
<rect x="237.70" y="123.24" width="1.4" height="2" fill="#d4d4d4"/>
<line x1="249.97" y1="128.40" x2="249.97" y2="129.60" stroke="#888" stroke-width="0.4" />
<rect x="248.78" y="130.40" width="2.4" height="1.3" fill="#d4d4d4"/>
<line x1="257.24" y1="128.40" x2="257.24" y2="129.60" stroke="#888" stroke-width="0.4" />
<rect x="256.04" y="130.40" width="2.4" height="1.3" fill="#d4d4d4"/>
<line x1="264.50" y1="128.40" x2="264.50" y2="129.60" stroke="#888" stroke-width="0.4" />
<rect x="263.30" y="130.40" width="2.4" height="1.3" fill="#d4d4d4"/>
<line x1="271.77" y1="128.40" x2="271.77" y2="129.60" stroke="#888" stroke-width="0.4" />
<rect x="270.57" y="130.40" width="2.4" height="1.3" fill="#d4d4d4"/>
<path d="M247.17,150.17 C247.33,147.68 250.65,145.01 253.13,144.50 C255.62,143.98 259.33,145.61 262.08,147.08 C264.83,148.54 269.64,151.29 269.64,153.27 C269.64,155.25 265.00,157.91 262.08,158.95 C259.16,159.98 254.62,160.92 252.14,159.46 C249.65,158.00 247.00,152.67 247.17,150.17Z" fill="#e4e4e4" filter="url(#b1)"/>
<path d="M246.82,149.87 C246.94,147.41 250.22,145.28 252.81,144.82 C255.40,144.36 259.49,145.69 262.35,147.11 C265.20,148.52 269.97,151.37 269.95,153.30 C269.92,155.22 265.18,157.63 262.21,158.67 C259.23,159.71 254.66,161.01 252.09,159.54 C249.53,158.07 246.70,152.32 246.82,149.87Z" fill="none" stroke="#aaa" stroke-width="0.3"/>
<path d="M249.44,150.74 C249.53,148.86 252.13,146.75 254.04,146.32 C255.95,145.90 258.75,147.09 260.90,148.22 C263.05,149.34 266.95,151.55 266.93,153.06 C266.92,154.57 263.03,156.51 260.80,157.28 C258.56,158.04 255.42,158.71 253.53,157.62 C251.63,156.53 249.36,152.62 249.44,150.74Z" fill="none" stroke="#aaa" stroke-width="0.3"/>
<path d="M251.83,151.44 C251.94,150.10 253.83,148.39 255.24,148.10 C256.66,147.81 258.82,148.93 260.33,149.70 C261.83,150.47 264.26,151.75 264.26,152.74 C264.25,153.73 261.93,155.07 260.31,155.63 C258.70,156.19 256.00,156.79 254.59,156.09 C253.18,155.39 251.73,152.77 251.83,151.44Z" fill="none" stroke="#aaa" stroke-width="0.3"/>
<path d="M254.23,151.71 C254.33,150.89 255.59,149.91 256.43,149.66 C257.28,149.41 258.40,149.69 259.30,150.22 C260.19,150.76 261.80,152.17 261.79,152.88 C261.79,153.59 260.23,154.18 259.24,154.47 C258.25,154.75 256.69,155.04 255.86,154.58 C255.02,154.12 254.14,152.53 254.23,151.71Z" fill="none" stroke="#aaa" stroke-width="0.3"/>
<path d="M245.30,140.30 L245.30,153.20 L275.40,153.20" stroke="#666" stroke-width="0.5" fill="none"/>
<line x1="245.30" y1="140.30" x2="275.40" y2="140.30" stroke="#999" stroke-width="0.4" />
<rect x="241.30" y="138.20" width="34.70" height="32.10" stroke="#777" stroke-width="0.6" fill="none" />
<text x="260.39" y="146.93" font-size="3.9" font-weight="normal" text-anchor="middle" fill="#444" >17.99</text>
<line x1="240.00" y1="142.21" x2="241.30" y2="142.21" stroke="#888" stroke-width="0.4" />
<rect x="237.50" y="141.21" width="1.4" height="2" fill="#d4d4d4"/>
<line x1="240.00" y1="150.24" x2="241.30" y2="150.24" stroke="#888" stroke-width="0.4" />
<rect x="237.50" y="149.24" width="1.4" height="2" fill="#d4d4d4"/>
<line x1="240.00" y1="158.26" x2="241.30" y2="158.26" stroke="#888" stroke-width="0.4" />
<rect x="237.50" y="157.26" width="1.4" height="2" fill="#d4d4d4"/>
<line x1="240.00" y1="166.29" x2="241.30" y2="166.29" stroke="#888" stroke-width="0.4" />
<rect x="237.50" y="165.29" width="1.4" height="2" fill="#d4d4d4"/>
<line x1="249.98" y1="170.30" x2="249.98" y2="171.50" stroke="#888" stroke-width="0.4" />
<rect x="248.78" y="172.30" width="2.4" height="1.3" fill="#d4d4d4"/>
<line x1="257.41" y1="170.30" x2="257.41" y2="171.50" stroke="#888" stroke-width="0.4" />
<rect x="256.21" y="172.30" width="2.4" height="1.3" fill="#d4d4d4"/>
<line x1="264.85" y1="170.30" x2="264.85" y2="171.50" stroke="#888" stroke-width="0.4" />
<rect x="263.65" y="172.30" width="2.4" height="1.3" fill="#d4d4d4"/>
<line x1="272.28" y1="170.30" x2="272.28" y2="171.50" stroke="#888" stroke-width="0.4" />
<rect x="271.08" y="172.30" width="2.4" height="1.3" fill="#d4d4d4"/>
<path d="M249.88,195.75 C250.54,194.41 256.57,195.52 260.05,195.56 C263.52,195.59 269.72,194.93 270.72,195.95 C271.71,196.97 267.48,199.79 266.03,201.66 C264.58,203.53 263.70,206.84 262.04,207.17 C260.38,207.50 258.09,205.53 256.06,203.63 C254.03,201.73 249.21,197.10 249.88,195.75Z" fill="#e4e4e4" filter="url(#b1)"/>
<path d="M249.65,195.54 C250.39,194.20 256.80,195.49 260.25,195.57 C263.71,195.65 269.39,195.00 270.39,196.03 C271.39,197.06 267.69,199.86 266.26,201.77 C264.83,203.67 263.56,207.18 261.82,207.49 C260.08,207.80 257.86,205.63 255.84,203.63 C253.81,201.64 248.92,196.89 249.65,195.54Z" fill="none" stroke="#aaa" stroke-width="0.3"/>
<path d="M252.28,196.45 C252.77,195.37 257.38,196.30 260.05,196.31 C262.72,196.32 267.46,195.67 268.28,196.52 C269.10,197.37 266.08,199.84 264.97,201.40 C263.85,202.96 262.91,205.65 261.59,205.88 C260.27,206.11 258.61,204.35 257.06,202.78 C255.51,201.21 251.78,197.53 252.28,196.45Z" fill="none" stroke="#aaa" stroke-width="0.3"/>
<path d="M255.03,197.72 C255.44,196.98 258.45,197.70 260.36,197.68 C262.26,197.66 265.97,197.03 266.47,197.59 C266.98,198.16 264.20,199.99 263.40,201.06 C262.60,202.14 262.58,203.85 261.66,204.03 C260.74,204.22 259.00,203.22 257.90,202.17 C256.79,201.11 254.62,198.47 255.03,197.72Z" fill="none" stroke="#aaa" stroke-width="0.3"/>
<path d="M256.93,198.76 C257.12,198.31 259.49,198.62 260.63,198.58 C261.78,198.54 263.46,198.25 263.80,198.52 C264.15,198.80 263.19,199.62 262.70,200.25 C262.22,200.88 261.43,202.13 260.89,202.30 C260.35,202.47 260.12,201.86 259.46,201.27 C258.80,200.68 256.73,199.21 256.93,198.76Z" fill="none" stroke="#aaa" stroke-width="0.3"/>
<ellipse cx="263.74" cy="195.65" rx="1.92" ry="0.96" fill="#777" filter="url(#b2)"/>
<path d="M245.10,182.00 L245.10,195.70 L274.80,195.70" stroke="#666" stroke-width="0.5" fill="none"/>
<line x1="245.10" y1="182.00" x2="274.80" y2="182.00" stroke="#999" stroke-width="0.4" />
<rect x="242.30" y="180.20" width="33.70" height="31.50" stroke="#777" stroke-width="0.6" fill="none" />
<text x="260.35" y="188.78" font-size="3.9" font-weight="normal" text-anchor="middle" fill="#444" >8.35</text>
<line x1="241.00" y1="184.14" x2="242.30" y2="184.14" stroke="#888" stroke-width="0.4" />
<rect x="238.50" y="183.14" width="1.4" height="2" fill="#d4d4d4"/>
<line x1="241.00" y1="192.01" x2="242.30" y2="192.01" stroke="#888" stroke-width="0.4" />
<rect x="238.50" y="191.01" width="1.4" height="2" fill="#d4d4d4"/>
<line x1="241.00" y1="199.89" x2="242.30" y2="199.89" stroke="#888" stroke-width="0.4" />
<rect x="238.50" y="198.89" width="1.4" height="2" fill="#d4d4d4"/>
<line x1="241.00" y1="207.76" x2="242.30" y2="207.76" stroke="#888" stroke-width="0.4" />
<rect x="238.50" y="206.76" width="1.4" height="2" fill="#d4d4d4"/>
<line x1="250.73" y1="211.70" x2="250.73" y2="212.90" stroke="#888" stroke-width="0.4" />
<rect x="249.53" y="213.70" width="2.4" height="1.3" fill="#d4d4d4"/>
<line x1="257.95" y1="211.70" x2="257.95" y2="212.90" stroke="#888" stroke-width="0.4" />
<rect x="256.75" y="213.70" width="2.4" height="1.3" fill="#d4d4d4"/>
<line x1="265.17" y1="211.70" x2="265.17" y2="212.90" stroke="#888" stroke-width="0.4" />
<rect x="263.97" y="213.70" width="2.4" height="1.3" fill="#d4d4d4"/>
<line x1="272.39" y1="211.70" x2="272.39" y2="212.90" stroke="#888" stroke-width="0.4" />
<rect x="271.19" y="213.70" width="2.4" height="1.3" fill="#d4d4d4"/>
<path d="M248.85,237.99 C249.86,236.97 256.79,237.77 260.86,237.78 C264.93,237.80 272.09,237.07 273.27,238.09 C274.44,239.11 269.72,241.81 267.92,243.90 C266.12,245.99 264.66,250.62 262.47,250.62 C260.28,250.62 257.07,246.00 254.80,243.90 C252.53,241.79 247.84,239.01 248.85,237.99Z" fill="#e4e4e4" filter="url(#b1)"/>
<path d="M249.76,236.25 C249.76,235.73 257.16,234.22 260.86,234.22 C264.56,234.22 271.95,235.73 271.95,236.25 C271.95,236.78 264.56,237.38 260.86,237.38 C257.16,237.38 249.76,236.78 249.76,236.25Z" fill="#ccc" filter="url(#b1)"/>
<path d="M248.66,237.69 C249.66,236.77 256.97,237.99 261.09,238.02 C265.22,238.05 272.24,236.96 273.41,237.88 C274.57,238.81 269.96,241.45 268.09,243.55 C266.23,245.66 264.40,250.49 262.24,250.50 C260.08,250.50 257.39,245.71 255.12,243.57 C252.86,241.44 247.67,238.62 248.66,237.69Z" fill="none" stroke="#aaa" stroke-width="0.3"/>
<path d="M251.39,239.05 C252.18,238.22 258.00,238.54 261.15,238.57 C264.31,238.59 269.38,238.35 270.32,239.22 C271.26,240.08 268.13,242.24 266.79,243.77 C265.45,245.31 264.00,248.46 262.27,248.43 C260.54,248.40 258.24,245.15 256.43,243.59 C254.62,242.03 250.61,239.89 251.39,239.05Z" fill="none" stroke="#aaa" stroke-width="0.3"/>
<path d="M254.64,239.97 C255.23,239.42 258.86,240.04 261.08,240.01 C263.30,239.98 267.28,239.27 267.95,239.81 C268.62,240.35 266.09,242.06 265.10,243.28 C264.12,244.49 263.30,247.11 262.04,247.12 C260.78,247.13 258.79,244.54 257.56,243.35 C256.32,242.16 254.05,240.53 254.64,239.97Z" fill="none" stroke="#aaa" stroke-width="0.3"/>
<path d="M257.46,240.59 C257.72,240.26 259.54,240.62 260.86,240.70 C262.19,240.77 264.96,240.69 265.41,241.05 C265.87,241.40 264.17,242.22 263.59,242.82 C263.00,243.42 262.63,244.71 261.91,244.67 C261.20,244.64 260.03,243.30 259.29,242.62 C258.55,241.94 257.19,240.91 257.46,240.59Z" fill="none" stroke="#aaa" stroke-width="0.3"/>
<path d="M245.00,224.00 L245.00,237.90 L277.10,237.90" stroke="#666" stroke-width="0.5" fill="none"/>
<line x1="245.00" y1="224.00" x2="277.10" y2="224.00" stroke="#999" stroke-width="0.4" />
<rect x="243.20" y="222.60" width="33.90" height="32.20" stroke="#777" stroke-width="0.6" fill="none" />
<text x="261.06" y="230.73" font-size="3.9" font-weight="normal" text-anchor="middle" fill="#444" >15.44</text>
<line x1="241.90" y1="226.62" x2="243.20" y2="226.62" stroke="#888" stroke-width="0.4" />
<rect x="239.40" y="225.62" width="1.4" height="2" fill="#d4d4d4"/>
<line x1="241.90" y1="234.68" x2="243.20" y2="234.68" stroke="#888" stroke-width="0.4" />
<rect x="239.40" y="233.68" width="1.4" height="2" fill="#d4d4d4"/>
<line x1="241.90" y1="242.72" x2="243.20" y2="242.72" stroke="#888" stroke-width="0.4" />
<rect x="239.40" y="241.72" width="1.4" height="2" fill="#d4d4d4"/>
<line x1="241.90" y1="250.78" x2="243.20" y2="250.78" stroke="#888" stroke-width="0.4" />
<rect x="239.40" y="249.78" width="1.4" height="2" fill="#d4d4d4"/>
<line x1="251.68" y1="254.80" x2="251.68" y2="256.00" stroke="#888" stroke-width="0.4" />
<rect x="250.48" y="256.80" width="2.4" height="1.3" fill="#d4d4d4"/>
<line x1="258.94" y1="254.80" x2="258.94" y2="256.00" stroke="#888" stroke-width="0.4" />
<rect x="257.74" y="256.80" width="2.4" height="1.3" fill="#d4d4d4"/>
<line x1="266.20" y1="254.80" x2="266.20" y2="256.00" stroke="#888" stroke-width="0.4" />
<rect x="265.00" y="256.80" width="2.4" height="1.3" fill="#d4d4d4"/>
<line x1="273.47" y1="254.80" x2="273.47" y2="256.00" stroke="#888" stroke-width="0.4" />
<rect x="272.27" y="256.80" width="2.4" height="1.3" fill="#d4d4d4"/>
<path d="M176.3,260.3 L176.3,221.4 M173.70000000000002,225.0 L176.3,220.8 L178.9,225.0" stroke="#000" stroke-width="0.95" fill="none"/>
<path d="M175.8,260.3 L215.0,260.3 M211.4,257.7 L215.6,260.3 L211.4,262.90000000000003" stroke="#000" stroke-width="0.95" fill="none"/>
<text x="171.40" y="254.00" font-size="4.7" font-weight="bold" text-anchor="start" fill="#000" textLength="26" lengthAdjust="spacingAndGlyphs" transform="rotate(-90 171.40 254.00)" stroke="#000" stroke-width="0.15" >Isotype PE</text>
<text x="190.00" y="266.30" font-size="4.7" font-weight="bold" text-anchor="start" fill="#000" textLength="13.5" lengthAdjust="spacingAndGlyphs" stroke="#000" stroke-width="0.15" >F S C</text>
<path d="M238.4,258.6 L238.4,221.1 M235.8,224.7 L238.4,220.5 L241.0,224.7" stroke="#000" stroke-width="0.95" fill="none"/>
<path d="M237.9,258.6 L277.09999999999997,258.6 M273.5,256.0 L277.7,258.6 L273.5,261.20000000000005" stroke="#000" stroke-width="0.95" fill="none"/>
<text x="234.40" y="247.50" font-size="4.7" font-weight="bold" text-anchor="start" fill="#000" textLength="17.5" lengthAdjust="spacingAndGlyphs" transform="rotate(-90 234.40 247.50)" stroke="#000" stroke-width="0.15" >IL1a PE</text>
<text x="256.00" y="266.30" font-size="4.7" font-weight="bold" text-anchor="start" fill="#000" textLength="13" lengthAdjust="spacingAndGlyphs" stroke="#000" stroke-width="0.15" >F S C</text>
<text x="293.20" y="11.20" font-size="10.8" font-weight="bold" text-anchor="start" fill="#000" >B</text>
<line x1="387.90" y1="26.20" x2="387.90" y2="124.90" stroke="#c4c4c4" stroke-width="0.6" />
<line x1="407.50" y1="26.20" x2="407.50" y2="124.90" stroke="#c4c4c4" stroke-width="0.6" />
<line x1="368.40" y1="11.40" x2="368.40" y2="124.90" stroke="#000" stroke-width="0.9" />
<line x1="366.60" y1="20.60" x2="368.40" y2="20.60" stroke="#000" stroke-width="0.7" />
<text x="365.00" y="22.50" font-size="5.8" font-weight="bold" text-anchor="end" fill="#000" textLength="16.4" lengthAdjust="spacingAndGlyphs" stroke="#000" stroke-width="0.15" >Control</text>
<line x1="366.60" y1="39.55" x2="368.40" y2="39.55" stroke="#000" stroke-width="0.7" />
<text x="365.00" y="41.45" font-size="5.8" font-weight="bold" text-anchor="end" fill="#000" textLength="37.2" lengthAdjust="spacingAndGlyphs" stroke="#000" stroke-width="0.15" >Patient 1, before</text>
<line x1="366.60" y1="58.50" x2="368.40" y2="58.50" stroke="#000" stroke-width="0.7" />
<text x="365.00" y="60.40" font-size="5.8" font-weight="bold" text-anchor="end" fill="#000" textLength="55.6" lengthAdjust="spacingAndGlyphs" stroke="#000" stroke-width="0.15" >Patient 1, 3 months after</text>
<line x1="366.60" y1="77.45" x2="368.40" y2="77.45" stroke="#000" stroke-width="0.7" />
<text x="365.00" y="79.35" font-size="5.8" font-weight="bold" text-anchor="end" fill="#000" textLength="37.2" lengthAdjust="spacingAndGlyphs" stroke="#000" stroke-width="0.15" >Patient 2, before</text>
<line x1="366.60" y1="96.40" x2="368.40" y2="96.40" stroke="#000" stroke-width="0.7" />
<text x="365.00" y="98.30" font-size="5.8" font-weight="bold" text-anchor="end" fill="#000" textLength="56.8" lengthAdjust="spacingAndGlyphs" stroke="#000" stroke-width="0.15" >Patient 2, under anakinra</text>
<line x1="366.60" y1="115.35" x2="368.40" y2="115.35" stroke="#000" stroke-width="0.7" />
<text x="365.00" y="117.25" font-size="5.8" font-weight="bold" text-anchor="end" fill="#000" textLength="44.5" lengthAdjust="spacingAndGlyphs" stroke="#000" stroke-width="0.15" >Patient 3, untreated</text>
<line x1="367.95" y1="124.90" x2="447.00" y2="124.90" stroke="#000" stroke-width="0.95" />
<line x1="451.00" y1="124.90" x2="475.20" y2="124.90" stroke="#000" stroke-width="0.95" />
<line x1="368.40" y1="124.90" x2="368.40" y2="126.70" stroke="#000" stroke-width="0.7" />
<line x1="387.90" y1="124.90" x2="387.90" y2="126.70" stroke="#000" stroke-width="0.7" />
<line x1="407.50" y1="124.90" x2="407.50" y2="126.70" stroke="#000" stroke-width="0.7" />
<line x1="427.00" y1="124.90" x2="427.00" y2="126.70" stroke="#000" stroke-width="0.7" />
<line x1="446.50" y1="124.90" x2="446.50" y2="126.70" stroke="#000" stroke-width="0.7" />
<line x1="456.00" y1="124.90" x2="456.00" y2="126.70" stroke="#000" stroke-width="0.7" />
<line x1="465.50" y1="124.90" x2="465.50" y2="126.70" stroke="#000" stroke-width="0.7" />
<line x1="475.00" y1="124.90" x2="475.00" y2="126.70" stroke="#000" stroke-width="0.7" />
<text x="370.00" y="130.80" font-size="5.6" font-weight="bold" text-anchor="end" fill="#000" transform="rotate(-55 370.00 130.80)" stroke="#000" stroke-width="0.15" >0</text>
<text x="389.50" y="130.80" font-size="5.6" font-weight="bold" text-anchor="end" fill="#000" transform="rotate(-55 389.50 130.80)" stroke="#000" stroke-width="0.15" >5</text>
<text x="409.10" y="130.80" font-size="5.6" font-weight="bold" text-anchor="end" fill="#000" transform="rotate(-55 409.10 130.80)" stroke="#000" stroke-width="0.15" >10</text>
<text x="428.60" y="130.80" font-size="5.6" font-weight="bold" text-anchor="end" fill="#000" transform="rotate(-55 428.60 130.80)" stroke="#000" stroke-width="0.15" >15</text>
<text x="448.10" y="130.80" font-size="5.6" font-weight="bold" text-anchor="end" fill="#000" transform="rotate(-55 448.10 130.80)" stroke="#000" stroke-width="0.15" >20</text>
<text x="457.60" y="130.80" font-size="5.6" font-weight="bold" text-anchor="end" fill="#000" transform="rotate(-55 457.60 130.80)" stroke="#000" stroke-width="0.15" >30</text>
<text x="467.10" y="130.80" font-size="5.6" font-weight="bold" text-anchor="end" fill="#000" transform="rotate(-55 467.10 130.80)" stroke="#000" stroke-width="0.15" >40</text>
<text x="476.60" y="130.80" font-size="5.6" font-weight="bold" text-anchor="end" fill="#000" transform="rotate(-55 476.60 130.80)" stroke="#000" stroke-width="0.15" >50</text>
<rect x="388.10" y="14.60" width="19.40" height="11.40" stroke="#000" stroke-width="1.0" fill="#fff" />
<line x1="397.50" y1="14.60" x2="397.50" y2="26.00" stroke="#000" stroke-width="1.0" />
<circle cx="410.9" cy="39.7" r="1.75" fill="#000"/>
<circle cx="392.7" cy="58.5" r="1.75" fill="#000"/>
<circle cx="471.6" cy="77.6" r="1.75" fill="#000"/>
<circle cx="385.6" cy="96.7" r="1.75" fill="#000"/>
<circle cx="432.5" cy="115.5" r="1.75" fill="#000"/>
<path d="M415.3,39.7 L421,39.7 L421,58.3 L397.6,58.3" stroke="#000" stroke-width="0.95" fill="none"/>
<text x="422.60" y="51.80" font-size="7.2" font-weight="normal" text-anchor="start" fill="#000" textLength="25.4" lengthAdjust="spacingAndGlyphs" stroke="#000" stroke-width="0.15" >- 42.42%</text>
<path d="M477.7,77.6 L484.4,77.6 L484.4,96 L397.4,96" stroke="#000" stroke-width="0.95" fill="none"/>
<text x="488.50" y="90.40" font-size="7.2" font-weight="normal" text-anchor="start" fill="#000" textLength="26" lengthAdjust="spacingAndGlyphs" stroke="#000" stroke-width="0.15" >- 90.54%</text>
<text x="396.80" y="146.80" font-size="6.5" font-weight="bold" text-anchor="start" fill="#000" textLength="50.5" lengthAdjust="spacingAndGlyphs" stroke="#000" stroke-width="0.15" >Percentage of IL-1α</text>
<text x="292.80" y="184.70" font-size="10.8" font-weight="bold" text-anchor="start" fill="#000" >C</text>
<line x1="389.40" y1="203.60" x2="389.40" y2="298.20" stroke="#bbb" stroke-width="0.6" />
<line x1="401.90" y1="203.60" x2="401.90" y2="298.20" stroke="#bbb" stroke-width="0.6" />
<line x1="372.10" y1="189.40" x2="372.10" y2="298.20" stroke="#444" stroke-width="0.9" />
<line x1="369.50" y1="198.20" x2="372.10" y2="198.20" stroke="#333" stroke-width="0.7" />
<text x="363.30" y="200.10" font-size="5.8" font-weight="bold" text-anchor="end" fill="#000" textLength="16.6" lengthAdjust="spacingAndGlyphs" stroke="#000" stroke-width="0.15" >Control</text>
<line x1="369.50" y1="216.38" x2="372.10" y2="216.38" stroke="#333" stroke-width="0.7" />
<text x="363.30" y="218.28" font-size="5.8" font-weight="bold" text-anchor="end" fill="#000" textLength="37" lengthAdjust="spacingAndGlyphs" stroke="#000" stroke-width="0.15" >Patient 1, before</text>
<line x1="369.50" y1="234.56" x2="372.10" y2="234.56" stroke="#333" stroke-width="0.7" />
<text x="363.30" y="236.46" font-size="5.8" font-weight="bold" text-anchor="end" fill="#000" textLength="55" lengthAdjust="spacingAndGlyphs" stroke="#000" stroke-width="0.15" >Patient 1, 3 months after</text>
<line x1="369.50" y1="252.74" x2="372.10" y2="252.74" stroke="#333" stroke-width="0.7" />
<text x="363.30" y="254.64" font-size="5.8" font-weight="bold" text-anchor="end" fill="#000" textLength="37.5" lengthAdjust="spacingAndGlyphs" stroke="#000" stroke-width="0.15" >Patient 2, before</text>
<line x1="369.50" y1="270.92" x2="372.10" y2="270.92" stroke="#333" stroke-width="0.7" />
<text x="363.30" y="272.82" font-size="5.8" font-weight="bold" text-anchor="end" fill="#000" textLength="56.6" lengthAdjust="spacingAndGlyphs" stroke="#000" stroke-width="0.15" >Patient 2, under anakinra</text>
<line x1="369.50" y1="289.10" x2="372.10" y2="289.10" stroke="#333" stroke-width="0.7" />
<text x="363.30" y="291.00" font-size="5.8" font-weight="bold" text-anchor="end" fill="#000" textLength="44.6" lengthAdjust="spacingAndGlyphs" stroke="#000" stroke-width="0.15" >Patient 3, untreated</text>
<line x1="371.65" y1="298.20" x2="477.50" y2="298.20" stroke="#333" stroke-width="0.95" />
<line x1="372.10" y1="298.20" x2="372.10" y2="300.00" stroke="#333" stroke-width="0.7" />
<line x1="407.00" y1="298.20" x2="407.00" y2="300.00" stroke="#333" stroke-width="0.7" />
<line x1="442.00" y1="298.20" x2="442.00" y2="300.00" stroke="#333" stroke-width="0.7" />
<line x1="477.00" y1="298.20" x2="477.00" y2="300.00" stroke="#333" stroke-width="0.7" />
<text x="373.70" y="304.10" font-size="5.6" font-weight="bold" text-anchor="end" fill="#000" transform="rotate(-55 373.70 304.10)" stroke="#000" stroke-width="0.15" >0</text>
<text x="408.60" y="304.10" font-size="5.6" font-weight="bold" text-anchor="end" fill="#000" transform="rotate(-55 408.60 304.10)" stroke="#000" stroke-width="0.15" >1000</text>
<text x="443.60" y="304.10" font-size="5.6" font-weight="bold" text-anchor="end" fill="#000" transform="rotate(-55 443.60 304.10)" stroke="#000" stroke-width="0.15" >2000</text>
<text x="478.60" y="304.10" font-size="5.6" font-weight="bold" text-anchor="end" fill="#000" transform="rotate(-55 478.60 304.10)" stroke="#000" stroke-width="0.15" >3000</text>
<rect x="390.10" y="192.20" width="9.20" height="11.40" stroke="#000" stroke-width="0.95" fill="#fff" />
<rect x="390.5" y="192.6" width="2.4" height="10.6" fill="#555" filter="url(#b3)"/>
<line x1="399.30" y1="198.50" x2="401.70" y2="198.50" stroke="#000" stroke-width="0.9" />
<line x1="401.70" y1="195.20" x2="401.70" y2="201.80" stroke="#333" stroke-width="0.9" />
<circle cx="430" cy="216.2" r="1.75" fill="#000"/>
<circle cx="421.3" cy="234.3" r="1.75" fill="#000"/>
<circle cx="469.2" cy="252.7" r="1.75" fill="#000"/>
<circle cx="382.4" cy="270.7" r="1.75" fill="#000"/>
<circle cx="394.5" cy="289.0" r="1.75" fill="#000"/>
<path d="M434.8,216.3 L443.3,216.3 L443.3,234.3 L430,234.3" stroke="#000" stroke-width="0.95" fill="none"/>
<text x="446.60" y="230.30" font-size="7.2" font-weight="normal" text-anchor="start" fill="#000" textLength="25.5" lengthAdjust="spacingAndGlyphs" stroke="#000" stroke-width="0.15" >- 13.81%</text>
<path d="M474.6,254 L483.6,254 L483.6,271.3 L388.5,271.3" stroke="#000" stroke-width="0.95" fill="none"/>
<text x="486.60" y="266.30" font-size="7.2" font-weight="normal" text-anchor="start" fill="#000" textLength="24.8" lengthAdjust="spacingAndGlyphs" stroke="#000" stroke-width="0.15" >- 89.30%</text>
<text x="378.40" y="324.30" font-size="6.3" font-weight="bold" text-anchor="start" fill="#000" textLength="91.2" lengthAdjust="spacingAndGlyphs" stroke="#000" stroke-width="0.15" >Mean Fluorescence Intensity of IL-1α</text>
</svg>
</body></html>
